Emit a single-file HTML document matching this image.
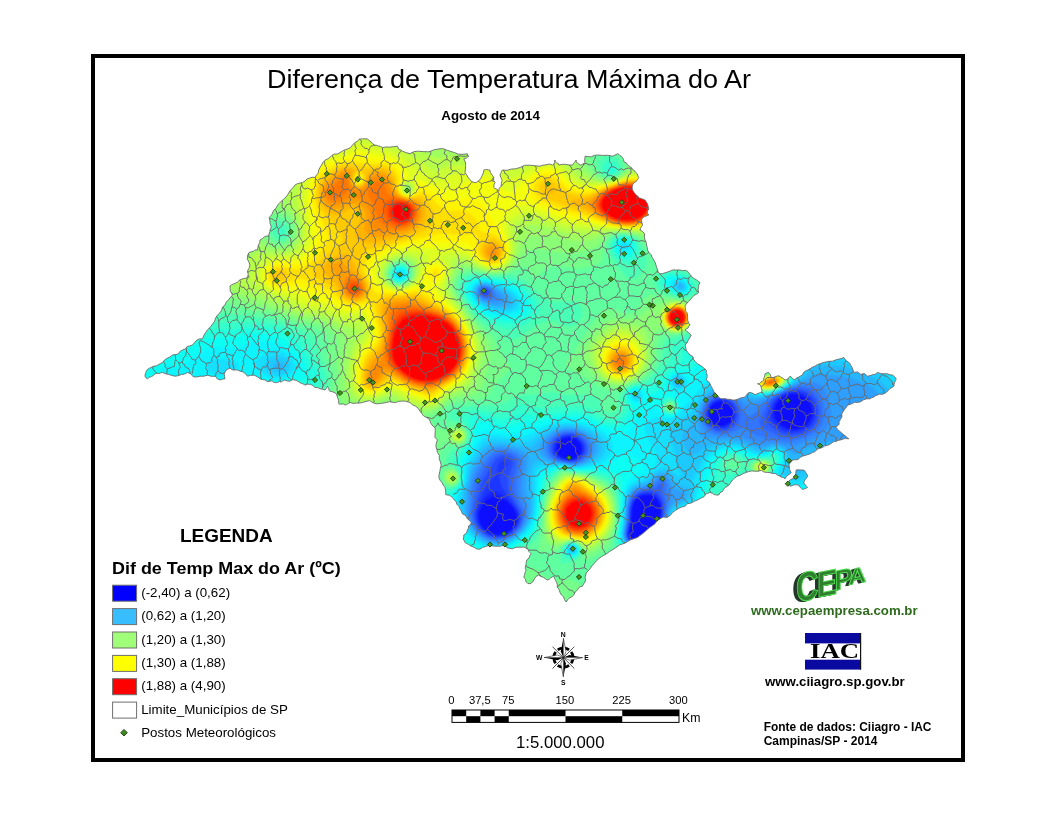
<!DOCTYPE html>
<html lang="pt-BR"><head><meta charset="utf-8"><title>Diferença de Temperatura Máxima do Ar</title>
<style>html,body{margin:0;padding:0;background:#fff}svg{display:block}text{font-family:"Liberation Sans",Arial,sans-serif}text.serif{font-family:"Liberation Serif","Times New Roman",serif}</style>
</head><body>
<svg width="1056" height="816" viewBox="0 0 1056 816">
<rect width="1056" height="816" fill="#fff"/>
<defs><filter id="bl" x="0" y="0" width="100%" height="100%" filterUnits="userSpaceOnUse"><feGaussianBlur stdDeviation="1.3"/></filter><clipPath id="st"><path d="M146.2,371.2 147.6,369.3 149.6,368.2 151.7,367.1 153.8,366.2 156.2,365.9 158.3,364.7 160.4,363.6 162.5,362.5 164.5,360 167.1,358.3 170,357 172.5,355 175.4,354.6 178.2,354 179.9,351.5 182.5,350 185.3,349 187.1,346.6 189.8,345.9 192.5,345 194.5,342.6 196.5,340.3 199.3,338.9 202.5,338.8 203.8,335.6 205.6,332.7 207.5,329.8 210,327.5 212.2,324.5 214.4,321.6 215.6,318.1 217.5,315 219.9,312.9 221.6,310.3 222.5,307.1 225,305 226.3,302.1 228.5,299.8 230.4,297.4 232.5,295 231.4,292.9 230.2,290.8 230.1,288.4 230,286 231.6,284.7 233.7,284 235.5,283.1 237.5,282.5 239.3,280.2 242,279 244.8,278.4 247.5,277.5 248.2,274.3 247.5,271 249.1,268.2 250,265 248.8,261.9 247.3,258.9 247.5,255.5 249,252.5 251.1,251.9 253.3,251.3 255.2,249.9 257.5,250 257.9,247.4 258.5,244.9 259.7,242.6 260,240 262.2,238.8 264.1,237 266.4,236 269,236 268.9,234.5 269.3,233 270,231.6 270,230 271.4,226.9 270.1,223.7 269.9,220.5 269,217.5 270.8,216 272.1,214.1 272.8,212 274,210 275.9,208.5 277,206.2 278.3,204.2 280,202.5 281.9,200.7 283.9,198.9 285.9,197.1 287.5,195 289.1,192.3 290.9,189.8 293.1,187.5 295,185 297.4,183.7 300,183.1 302.7,182.4 305,181 307,179 309.6,178.1 312.2,177.2 315,177.5 316.5,175.1 318.4,172.9 318.7,170.1 320,167.5 321.6,165.1 322.9,162.5 324.9,160.3 327.5,159 329.9,157.4 331.9,155.4 334.6,154.1 337.5,154 339.9,152.6 342.4,151.2 344.8,149.9 347.5,149 350.5,147.6 352.5,145 354.8,142.7 357.5,141 359.5,139.1 362.3,138.9 364.9,138.8 367.5,139 369.2,140.5 370.9,141.8 372.6,143.3 374,145 376.2,145.2 378.4,145.9 380.5,146.5 382.5,147.5 386.2,147 390,147.1 393.8,146.7 397.5,146.2 398.2,148 399.1,149.6 401.1,150 402.5,151.2 406.2,152.7 410,153.6 413.6,151.8 417.5,151.2 423.2,151.6 429,151.8 434.3,149.7 440,148.8 442.6,148.6 445.1,149.4 447.6,150.4 450,151.2 454.3,152.5 458.5,154.2 463,154.3 467.5,153.8 467.7,155.2 468.8,156.2 467.6,157.1 466.5,158 465.2,158.5 463.8,158.8 465.3,161.9 465.7,165.5 465.4,169 465,172.5 466.6,174.7 467.8,177.1 469.5,179.2 471.2,181.2 472.4,181.8 473.7,182.2 474.9,182.6 476.2,182.5 477.7,181.5 479,180.2 480.5,179.2 481.2,177.5 482.1,175.7 482.9,173.9 483.6,172 483.8,170 485.3,169.6 486.9,169.5 488.4,170 490,170 490.2,172.2 491.4,174 492.6,175.7 493.8,177.5 493.5,180.2 495.1,182.5 493.9,184.9 493.8,187.5 495,188.6 496.6,188.9 497.7,190.1 498.8,191.2 498.9,189.8 499.2,188.3 500.1,187.2 501.2,186.2 501.3,183.3 502.2,180.4 501,177.8 500,175 500.5,173.7 501.1,172.4 501.6,171.1 502.5,170 507,170.4 511.3,169.1 515.7,168.8 520,167.5 524.7,165.3 529.9,165.2 534.9,165.8 540,166.2 543,165.2 546.2,164.8 549.4,164 552.5,165 553.7,164.1 554.6,162.9 554.6,161.4 555,160 555.4,161.6 556.5,162.8 558.1,163.4 558.8,165 562.2,164.4 565.6,164.3 569,165.1 572.5,165 573.4,163.7 574.3,162.5 575.3,161.2 576.2,160 576.2,161.8 577.3,163.1 578.7,163.9 580,165 581.5,165.1 582.4,164 583.7,163.6 585,163.8 584.8,161.9 584.6,160 585,158.1 585,156.2 588.2,156.7 591.4,156.8 594.3,155.4 597.5,155 602.5,155.4 607.6,155.3 612.8,156.2 617.5,153.8 619,154.4 620,155.6 621.4,156.3 622.5,157.5 623.5,159.6 624,161.9 626.3,162.8 627.5,165 629.5,166.4 631.6,167.7 632.9,169.9 635,171.2 636.1,172.8 637.4,174 637.8,175.9 638.8,177.5 637.5,179.6 636.1,181.6 633.8,182.7 632.5,185 632.1,187.4 632.4,189.8 633.6,191.8 635,193.8 637.2,195.8 639.4,197.9 642.2,198.9 645,200 646.3,202 647.6,204.1 648.2,206.4 648.8,208.8 648,210.3 647.2,211.9 647.6,213.6 648.8,215 646.6,215.9 644.4,216.6 642.5,218 641.2,220 641.9,222.6 642.6,225.2 640.9,227.4 640,230 642.7,231.5 644.7,233.9 644.3,237 645,240 646.2,242.3 646.5,244.9 647.2,247.4 647.5,250 649,252.6 651.1,254.7 652.2,257.5 653.8,260 655.1,262.3 655.9,264.9 656.7,267.4 657.5,270 658.3,272.2 660,273.8 662.6,273.6 665.1,272.8 667.5,272 670,271.2 671.7,270.3 673.6,269.8 675.5,270.1 677.5,270 680.1,270 682.5,270.7 685.1,270.3 687.5,271.2 688.8,272.8 689.9,274.4 691.3,275.9 692.5,277.5 694.4,278.7 696.4,279.8 698.1,281.2 700,282.5 698.8,284.8 698.5,287.4 698,290 698.8,292.5 696.4,294.2 693.8,295.6 691.9,297.8 690,300 688.7,301.5 687.2,302.9 685.9,304.5 685,306.2 685.5,308.5 685.3,310.9 687.1,312.6 687.5,315 687.6,317.6 687.7,320.3 688.5,322.8 690,325 688.6,326.3 688.1,328.1 686.4,328.8 685,330 686.7,331.1 688.2,332.4 689.7,333.7 691.2,335 689.9,337.6 688.3,340.1 687.1,342.9 685,345 685.7,347.8 686.4,350.6 688.2,352.8 690,355 692.8,356.4 693.7,359.4 695.4,361.8 697.5,363.8 699.9,365.1 702.1,366.6 704.1,368.3 706.2,370 706.3,372.6 707.1,375 707,377.6 706.2,380 708.5,381.6 710.1,383.9 711.2,386.3 712.5,388.8 713.4,390.4 714,392.1 715.5,393.3 716.2,395 717.9,396 719,397.5 720.6,398.5 722.5,398.8 725,398.7 727.5,399.3 730,399.4 732.5,400 735.1,400 737.6,399.2 740,398.2 742.5,397.5 744.6,397.2 746.1,395.5 747.3,394 748.8,392.5 750.5,392.5 752.1,393.1 753.8,393.7 755,395 756.7,393.9 758.6,393.3 760.5,392.4 762.5,392.5 761.7,391.3 762.1,389.9 761.4,388.8 761.2,387.5 760.9,386.1 760.1,384.9 758.8,384.2 757.5,383.8 759.4,383.5 760.8,382.1 762.4,381.2 763.8,380 763.7,378.4 764.4,376.9 764.7,375.3 765,373.8 766.8,372.9 768.8,372.5 769.7,373.6 770.3,374.8 770.8,376.2 771.2,377.5 773.5,377.4 775.6,376.6 777.8,375.9 780,376.2 781,377.6 782.6,378 783.8,379 785,380 786.6,379.6 787.9,378.7 789.2,377.7 790,376.2 791.4,377.1 792.3,378.5 793.7,379.2 795,380 796.4,378.1 798.6,377.2 800.4,376 802.5,375 803.4,372.6 805.5,371 807.8,370 810,368.8 812.3,367.2 815,366.2 817.3,364.6 820,363.8 823,362.6 826.1,361.9 829.3,361.3 832.5,361.2 835.2,360.1 838.1,359.3 841,358.6 843.8,357.5 845.1,359.3 846.6,360.9 848.5,362.1 850,363.8 851,365.9 852.4,367.9 853.1,370.2 853.8,372.5 857.6,371.9 860.6,374.3 864.5,373.6 867.5,376.2 870.1,375.6 872.6,374.7 875.3,374.2 877.5,372.5 879.9,373.2 882.4,373.8 885,373.8 887.5,373.8 889.9,374.8 892.5,375.1 894.6,376.7 896.2,378.8 895.4,380.5 894.7,382.4 894.1,384.3 893.8,386.2 891.7,387.7 889.5,388.8 888,390.7 886.2,392.5 884.2,393.6 882.1,394.4 879.7,394 877.5,395 875.5,395.7 873.9,397.1 871.8,397.6 870,398.8 866.7,398.8 863.5,399.8 860.7,401.7 857.5,402.5 854.8,402.2 852.4,403.4 850.1,404.5 847.5,405 846.5,407 845,408.8 843.7,410.6 842.5,412.5 841.7,414.4 842,416.5 841.1,418.3 840,420 838.9,422 839.2,424.3 837.4,425.6 836.2,427.5 837.5,429.3 839.1,430.9 840.9,432.2 842.5,433.8 844,435.1 845.7,436.1 847,437.7 848.8,438.8 846.5,438.6 844.3,438.6 842.2,439.5 840,440 838,440.3 836.3,441.4 834.3,441.4 832.5,442.5 830.2,444.1 827.7,445.3 824.8,445.8 822.5,447.5 819.7,448.1 817.2,449.3 815.2,451.5 812.5,452.5 810.2,453.8 807.6,454.7 805,455.4 802.5,456.2 799.9,457.4 798.1,459.6 795.3,459.7 792.5,460 791.7,461.4 790.4,462.4 789.6,463.7 788.8,465 789.5,467 789.1,469.1 790.1,470.8 791.2,472.5 789.7,474.1 787.7,475.2 786.1,476.8 785,478.8 783.3,477.5 781.1,477.1 779.4,475.9 777.5,475 775.3,473.4 772.6,473.5 770.1,472.6 767.5,472.5 764.2,472.1 761.4,470.4 758.2,471.2 755,471.2 751.8,470.9 748.6,471.6 745.5,472.7 742.5,473.8 740,475.5 737.1,476.2 734.7,478 732.5,480 730.9,482.2 729.5,484.5 727.4,486.2 725,487.5 723.6,489.5 722.3,491.6 720,492.7 718.8,495 716.4,495 714.1,494.5 712.3,493.1 710,492.5 706.3,493.7 704,496.7 700.7,498.2 697.5,500 694.3,501.3 691.2,503 687.6,503.7 685,506.2 681.6,507.1 678.4,508.6 675.4,510.4 672.5,512.5 670.2,515.4 667.1,517.4 663.4,517.1 660,518.8 658.5,519.7 657.1,520.9 655.9,522.2 655,523.8 648.9,528.1 643.3,533.1 637.2,537.6 630,540 625.1,543.1 619.6,544.9 614.9,548.3 610,551.2 606.2,554 602,556.3 598.2,559 595,562.5 592,565.9 589.4,569.6 586.2,573 585,577.5 585.6,579.9 584.9,582.2 583.5,584.1 582.5,586.2 579.3,587.1 577.4,589.9 575.2,592.2 573.8,595 571.8,596.8 569.5,597.9 567.6,599.8 566.2,602 564.5,599.7 563.7,596.9 561.5,595 560,592.5 559.4,590.6 558.7,588.8 557.1,587.2 557.5,585 556.7,582.8 555.7,580.6 554.6,578.5 553.8,576.2 552.1,577 550.5,578 549.2,579.3 547.5,580 545.3,578.7 543.3,577.2 540.8,576.5 538.8,575 535.9,576.5 534.2,579.2 532.7,582 530,583.8 527.6,583.3 525.9,581.6 525.6,579.1 523.8,577.5 524.3,575.6 524.8,573.7 525.3,571.7 526.2,570 525.2,568.2 525.6,566.2 526,564.4 526.2,562.5 526.8,559.9 529,558.2 529.7,555.8 531.2,553.8 530.1,552.6 529,551.5 528.3,550.1 527.5,548.8 523.9,547.1 520,547.2 516.1,547.3 512.5,548.8 507.9,548 504.1,545.4 499.6,546.3 495,546.2 491.8,545.8 488.6,545.6 485.6,546.5 482.5,547.5 479.8,549.2 476.7,548.9 474.1,547.2 471.2,546.2 469.7,545.3 468.2,544.2 466.6,543.5 465,542.5 464.2,540.7 463.2,538.9 463.8,537 463.8,535 465.1,534 466.4,533.1 466.9,531.5 467.5,530 468.5,528.1 468.6,525.9 470.5,524.6 471.2,522.5 469.6,520.7 467.7,519.1 466.4,517 465,515 462.3,513.8 461.4,510.9 459.9,508.7 458.8,506.2 456.8,504.2 456.1,501.5 454,499.8 452.5,497.5 449.5,495.3 445.8,494.7 445.7,491.1 445,487.5 443.3,485.1 441.9,482.5 440,480.2 438.8,477.5 439.2,474.3 439.9,471.2 440.4,468.1 441.2,465 440.4,461.9 439.3,458.8 439.3,455.4 437.5,452.5 436.8,449.3 435.9,446.2 436.3,443 437.5,440 435,437.5 435,434 435.3,430.8 435,427.5 432.8,425.9 431.1,423.7 430.1,421.1 428.8,418.8 426.2,417.3 423.6,415.9 421.8,413.6 420,411.2 418.3,408.3 415.6,406.2 412.5,404.8 410,402.5 407.5,401.8 405.1,401.1 402.5,401.1 400,401.2 398.5,401.4 397,402 395.6,402.6 394,402.5 389.5,401.7 385.1,402.7 380.7,403.5 376.2,403.8 372.7,402.6 369.6,400.6 366,401.4 362.5,402.5 359.4,403.1 356.2,403.1 353.1,403.4 350,402.5 348.8,403.3 347.6,404 346.4,404.7 345,405 343.6,404 342,403.9 340.3,404.3 338.8,403.8 338.7,402.1 338.6,400.5 338.1,399 337.5,397.5 336.8,394.9 335.1,392.7 332.6,391.8 330,391.2 328.9,390.2 328.8,388.7 328.3,387.4 327.5,386.2 326.5,388.3 325,390 322.5,389.3 320,388.6 317.6,387.6 315,387.5 313,385.6 310.5,384.4 307.7,384.1 305,385 302.5,383.6 299.9,382.7 297.6,381 295,380 292.3,379.7 290,381.3 287.4,381 285,380 283,380.5 281.5,382.1 279.4,381.5 277.5,382.5 275.6,382.6 273.7,382.3 272.1,380.8 270,381.2 267.3,381.5 265,379.9 262.4,379.6 260,378.8 257.3,376.7 254.2,375.2 250.8,375.3 247.5,376.2 245.6,373.9 243.2,372 240.3,371.2 237.5,370 235.5,369.9 233.5,370.1 231.5,369.4 230,368 228.1,369 226.2,370 225,372 224.2,374.2 224.6,376.5 225,378.8 223.7,378.9 222.5,379.3 221.2,379.5 220,380 218.5,379.3 217.1,378.7 216.4,377.2 215,376.2 211.2,376.3 207.5,375.2 203.8,376.2 200,376.2 196.6,377 193.1,376.7 190.9,373.8 187.5,372.5 184.5,374 181.3,374.5 178.2,375.7 175,376.2 171.8,375.4 168.7,374.5 165.5,373.7 162.5,372.5 160.6,372.9 158.8,373.6 156.9,373.2 155,373.8 153.4,375.4 151.5,376.6 149.3,377.3 147.5,378.8 145.9,377.8 145,376.2 145.1,375 145.4,373.7 145.8,372.5ZM796.2,470 798.1,469.8 800,469.9 801.9,470 803.8,470 805.1,471.3 806,472.9 807.1,474.4 807.5,476.2 806.7,477.9 805.4,479.2 804.5,480.8 803.8,482.5 804.5,483.9 805.5,485.1 806.5,486.3 807.5,487.5 806.3,488.1 805.1,488.6 803.8,489.1 802.5,489.5 801.5,488.4 800.3,487.5 799.4,486.3 798.8,485 796.5,484.8 794.3,484.8 792.2,485.6 790,486.2 789.9,485 789.5,483.7 788.9,482.5 788.8,481.2 790.1,480 791.7,479.1 793.4,478.3 795,477.5 795.4,475.6 795.8,473.8 795.9,471.9Z"/></clipPath></defs>
<g clip-path="url(#st)">
<g filter="url(#bl)"><rect x="130" y="130" width="780" height="490" fill="rgb(7,11,255)"/>
<path fill="rgb(19,32,255)" d="M136,132 904,132 904,610 136,610ZM490,497.9 486,500.7 484,502.8 479.9,510 478.9,514 478.9,518 480.6,524 483.3,528 486,530.6 490,533 492.8,534 500,534.6 503.4,534 508,532.1 513.1,528 516,523 516.9,518 515.4,512 513,508 510,504.5 506,501 502,498.4 496,496.6 492,497ZM566,437.5 562,439 558,442.6 556,448 556.6,452 559.3,456 562.6,458 568,459.1 574,458.8 578,456.4 580.1,454 581.5,450 581.3,446 579.2,442 576,439.3 572,437.6ZM642,495.5 637.4,498 635.5,500 633.3,504 631.8,510 630.9,524 629.3,528 628.6,534 629.3,538 633.2,542 640,543.9 648,542.5 651.5,540 654,537.3 656.4,532 660,517.8 660.8,512 660,505.3 658.6,502 656,498.6 654,497 650,495.3 646,494.9ZM718,401.7 714,403.6 711.5,406 709.4,410 709,416 710.5,420 712,422.1 714.4,424 718,425.5 724,425.4 728,423.4 731.1,420 732.6,416 732.3,410 730,405.7 726,402.5 722,401.3ZM792,394 785.1,396 779.5,400 775.7,406 774.6,410 774.4,414 775.4,418 776.5,420 782,425.4 788,428.2 792,428.9 796,428.9 800,428 804,426.2 808.8,422 811.6,416 812,410 810,403.7 808,400.7 805.3,398 802,395.9 798,394.4Z"/>
<path fill="rgb(30,53,255)" d="M136,132 904,132 904,610 136,610ZM494,491.7 490,492.9 488,494.4 484,498.6 480.6,504 477.6,512 477.3,516 477.8,520 480.3,526 483.6,530 486,532 490,534.2 494,535.4 498,535.7 502,535.4 508,533.3 512,530.5 514.5,528 517.6,522 518,516 516.9,512 514.7,508 508,500 500,493.6 498,492.5ZM562,437.7 558.6,440 556.8,442 554.9,446 554.7,450 555.1,452 557.6,456 562,458.7 568,460.2 574,459.8 578,457.9 581.6,454 583,450 582.7,446 580.8,442 576.2,438 572,436.4 566,436.3ZM644,493.9 638,496.1 635.8,498 633.1,502 631.2,508 630.3,522 627.7,532 627.8,536 630,540.1 634,543 640,544.5 644,544.2 648,543.1 652,540.5 654.4,538 657.2,532 660.9,518 661.8,512 661.7,508 660.9,504 657.4,498 655.1,496 652,494.5 648,493.7ZM716,401.1 712,403.7 708.9,408 707.8,412 708.2,418 710,421.6 712,423.9 716,426.3 722,427.2 726,426.2 730,423.6 732,421.3 733.6,418 734.3,414 733.1,408 730.3,404 726,401 722,400.1ZM788,393.5 784,395.1 780,397.6 775.8,402 773.8,406 772.6,410 772.2,414 772.8,418 775.1,422 778,424.9 782,427.8 786,429.6 790,430.6 794,430.8 802,429.1 806,427 809.5,424 813.1,418 814,412 813.5,408 812.2,404 808.1,398 802,394 796,392.4 792,392.5Z"/>
<path fill="rgb(40,74,255)" d="M136,132 904,132 904,610 136,610ZM484,291.8 484,292.3 486,292.5 486.3,292ZM500,461.8 497.7,466 496.7,474 488,483.7 480,499.6 476.8,508 475.7,514 475.9,518 476.9,522 478.8,526 481.9,530 488,534.5 492,536 496,536.7 500,536.7 504,535.9 508,534.4 512,531.9 517.2,526 518.9,522 519.6,518 519.2,514 517.7,510 514,504.2 503.6,490 500.9,484 499.2,478 499,476 499.8,474 504,469.8 506.8,466 507.4,464 507,462 506,461 504,460.3 502,460.7ZM564,435.6 558,438.7 555,442 554,444 553.3,446 553.1,450 554.5,454 558.3,458 564,460.2 572,461.1 576,460.2 578,459.2 581.8,456 584,452 584.5,450 584.3,446 582.5,442 578.5,438 574,435.8 570,435ZM640,493.7 636.3,496 634.4,498 631.3,504 630.1,510 629.5,522 627.4,530 626.9,534 627.8,538 631.1,542 636,544.4 642,545 646,544.3 650,542.7 653.5,540 656.4,536 658,532 661.8,518 662.9,508 662.2,504 660.7,500 658,496.2 656,494.5 652,492.8 648,492.4 644,492.6ZM716,399.8 712,402.2 710,404.2 707.7,408 706.4,414 707.6,420 710.1,424 714,427 720,428.7 726,427.8 729.6,426 731.9,424 734.6,420 735.9,414 734.7,408 732.2,404 730.2,402 726,399.6 720,398.8ZM790,391.6 784,393.8 780,396 775.2,400 772.6,404 771,408 769.7,414 769.9,418 771.6,422 773.2,424 778,428 782,430.4 786,431.9 790,432.7 798,432.3 806,429.3 810,426.4 812.2,424 814.5,420 815.7,416 816,412 815.6,408 814.4,404 812.4,400 810,396.9 806.3,394 802,392 798,391 794,390.9Z"/>
<path fill="rgb(46,96,255)" d="M136,132 904,132 904,610 136,610ZM482,289.9 481.4,292 482,293.9 484,295.4 486,295.9 488,295.1 489,294 489.2,292 488,289.9 486,288.9 484,288.8ZM502,455.9 498,457.5 495,460 483.1,480 480,488.7 475.2,506 474.2,512 474.3,518 475.4,522 477.3,526 480,529.7 484,533.4 488,535.7 492,537.2 496,537.8 502,537.4 506,536.4 510,534.5 513.5,532 518.6,526 520.3,522 521.1,518 520.8,514 519.5,510 511.1,496 509.3,492 508.3,488 507.9,482 508.2,478 512.6,466 513,462 512.3,460 510,457.5 506,455.9ZM566,433.9 562,434.9 558,437 553.2,442 551.3,448 551.4,450 552.7,454 556.2,458 562,460.5 572,462 578,460.5 581.7,458 584.8,454 585.7,452 586.2,448 585.3,444 582.8,440 577.7,436 572,434ZM642,491.8 636,494.7 633,498 631,502 629.3,510 628.7,522 626.3,534 627.1,538 630.1,542 634,544.3 640,545.5 646,544.9 650,543.3 654,540.4 656,538 659.5,530 662.8,518 664,510 663.2,502 661.5,498 658,492.9 656,491.7 652,491 646,491.1ZM718,397.8 712,400.6 707.3,406 705.3,412 705.5,418 708.2,424 712.6,428 716,429.5 720,430.3 726,429.7 732,426.5 735.8,422 737.7,416 737.2,410 734.3,404 730,400 724,397.6ZM792,389.8 781.4,394 777.9,396 772.9,400 770.3,404 768.5,408 766.5,414 766,418 766.8,422 768,424 772.6,428 782,433.4 790,435.1 796,434.8 802,433.4 806,431.7 810,429.3 813.5,426 816.2,422 817.6,418 818.2,414 817.9,408 816.1,402 814,398 810.4,394 806,391.3 802,390 798,389.3Z"/>
<path fill="rgb(50,117,255)" d="M136,132 904,132 904,610 136,610ZM484,287.4 482,288 480.2,290 479.8,292 480.4,294 482,296.1 484,297.2 488,297.5 490,296.6 491.6,294 491.3,292 490.2,290 487.6,288ZM498,453.9 494,456.3 490.5,460 482,473.2 478.6,480 476,489.5 472.7,508 472.3,514 473.1,520 474.6,524 477,528 480.5,532 484,534.8 488,537 492,538.4 498,538.9 502,538.5 508,536.7 515.1,532 518.7,528 521,524 522.3,520 522.8,516 521.7,510 515.2,498 513,490 513.2,480 516.7,466 516.9,462 516.5,460 514,456.4 509.9,454 504,453ZM562,433.5 558,435.3 554.4,438 552.5,440 550.2,444 549.3,448 549.5,450 550.8,454 552.1,456 554,458 557.4,460 570,462.7 576,462.4 582,459.4 585.4,456 586.7,454 588,450 587.3,444 584.9,440 580,435.7 574,433.1 568,432.5ZM660,484 655.5,488 642,490.4 638,491.9 634,494.9 630.7,500 628.6,508 627.9,522 625.6,534 626.4,538 627.4,540 630,542.7 634,544.9 640,546.1 644,545.9 648,544.9 652,542.9 655.3,540 659,534 663.8,518 665.4,506 664.6,500 661.9,492 662.6,486 662.1,484ZM720,396 714,397.8 710.7,400 708,402.8 705,408 704,412 703.9,416 705.2,422 707.7,426 710,428.3 716,431.4 720,432.1 724,432 730.8,430 736.1,426 738.9,422 739.7,420 740.3,414 739.5,410 737.8,406 735,402 732.9,400 730,398 726,396.4ZM796,387.8 788,390 779.4,394 772.8,398 768.8,402 762.1,414 759.7,420 759.6,424 760.4,426 762.2,428 778.9,436 784,437.4 790,437.9 798,437 806,434.4 812,431 816,427.2 819.2,422 820.4,418 820.9,414 820.2,406 817.4,398 814,393.3 809.4,390 802,387.8Z"/>
<path fill="rgb(50,138,255)" d="M136,132 904,132 904,610 136,610ZM482,286.7 480.1,288 478.8,290 478.5,292 479,294 480.1,296 482,297.7 486,299.3 490,299.2 493.1,298 494.4,296 494.3,294 492.2,290 488,286.9 484,286.2ZM496,451.7 491.9,454 487.9,458 479.8,470 476,477.1 474,483.3 472.7,490 470.3,512 470.9,518 472.1,522 475.2,528 478.6,532 483.5,536 488,538.4 492,539.6 498,540.1 504,539.2 508,537.8 512,535.7 516.7,532 520.2,528 522.5,524 524.4,518 524.7,514 523.5,508 518.5,498 517.1,492 517.9,478 520.6,464 520.2,460 519.4,458 515.8,454 510,451.4 502,450.5ZM564,431.6 560,432.7 556,434.7 550.1,440 547.8,444 547,448 547.1,450 548.4,454 551.6,458 554,459.7 560,461.6 570,463.4 574,463.6 578,462.9 582,461 587.6,456 589.7,452 590.3,448 588.6,442 584,436.7 578,433 572,431.3ZM660,479.6 652,486.6 640,489.6 636,491.5 632,495.4 629.6,500 627.7,508 627.3,520 625,532 625.1,536 626.6,540 628.2,542 630.8,544 634,545.5 638,546.5 642,546.7 646,546.1 650,544.7 654,542.2 656.3,540 659.8,534 665.3,516 667.3,502 666,494 666.8,486 666,482.1 664,479.9 662,479.3ZM798,385.9 792,387.5 786,389.9 770.3,398 765.6,402 758,410.3 752,415.1 748,416.9 746,415.6 739.6,404 736.1,400 732,396.8 728,395 724,394.2 720,394.3 716,395.2 712,397.3 708.6,400 704.4,406 702.9,410 702.3,414 702.4,418 703.3,422 705.2,426 708.6,430 714,433.1 718,434.1 724,434.3 730,433.3 736,431 744,426.7 746,427.5 750,432 752,433.4 756,435.3 766,437.7 786,441.4 790,441.6 794,441.1 806,437.6 814,433.5 818.1,430 821.2,426 823.1,422 824.3,416 823.7,406 820.7,396 818.3,392 816,389.6 812,387.2 808,386.1 802,385.6Z"/>
<path fill="rgb(46,159,255)" d="M136,132 904,132 904,610 136,610ZM482,285.5 478.5,288 477.5,290 477.6,294 480.4,298 484,300.2 490,301.6 496,301.7 500.4,300 500.7,298 499.7,296 492.2,288 488,285.7 484,285.2ZM566,429.8 560,431.1 556,432.8 548.9,438 545.9,442 544.2,446 544,450 545.4,454 548.7,458 551.3,460 556.9,462 574,464.6 578,464 583,462 588.5,458 590.2,456 592.4,452 592.9,450 592.9,446 591.4,442 588.4,438 586.2,436 580,432.2 574,430.2ZM660,477 658,478 652,483.9 650,485.2 640,488 636,489.8 632,493.3 629.2,498 627.1,506 626.3,522 624.2,534 624.8,538 626,540.4 628,542.8 632,545.4 636,546.8 640,547.3 646,546.7 650,545.4 656,541.3 658.7,538 660.8,534 664.7,522 668.9,506 671.8,498 671.9,496 669.4,484 667.7,480 666,478.1 664,477ZM800,383.6 790,387.3 767.4,398 758,403.6 752,405.7 748,405.5 746,404.7 736,396.4 730,393.1 724,392 720,392.3 716,393.3 712,395.3 708,398.4 704.9,402 702.7,406 701.3,410 700.5,416 701,422 702.3,426 704,429.2 706.3,432 710,434.5 714,436 722,437 734,436.1 740,436.4 756,441.9 762,443.3 776,442.4 792,446.3 796,445.4 812,439.5 818,436.3 823.6,432 827.4,428 829.7,424 830.7,420 830.9,416 829.3,402 826.9,394 825.1,390 822,386 820,384.5 816,382.7 812,382.2ZM494,449.5 489.6,452 485.5,456 478,466.8 474,474.1 472,480.1 469.8,490 468.3,512 469,518 471.1,524 473.4,528 478,533.4 482,536.6 488,539.8 492,540.9 498,541.3 502,540.9 508,539.1 513.6,536 518.4,532 521.7,528 525,522 526.7,516 527.1,512 526.7,508 522.5,498 521.4,492 522,478 524.2,464 524.1,460 522.5,456 518,452 510,449 502,448.1 498,448.4Z"/>
<path fill="rgb(40,181,255)" d="M136,132 904,132 904,610 136,610ZM480,285.3 477.1,288 476,292 476.3,294 478,297.2 482,300.8 488,303.4 498,305.4 504,304.6 506,303.5 507.3,302 507.7,300 505.7,296 503.4,294 492,286.4 486,284.2 482,284.5ZM558,429.9 552,432.7 547.4,436 543.5,440 540.9,444 539.5,448 539.6,452 540.5,454 544.5,458 550,461.4 554,462.6 564,463.7 572,465.3 576,465.4 581.8,464 586.1,462 589.3,460 593.5,456 595.8,452 596.6,448 596.4,446 595,442 593.7,440 588,434.6 582,431.1 574,428.5 566,428.2ZM658,475.6 651,482 648,484 638,487 634,489.2 630,493.7 628,498 626.2,506 625.7,520 623.5,532 623.5,536 624.8,540 626.2,542 630,545.1 634,546.9 640,547.9 646,547.4 652,545.2 656.4,542 659.7,538 661.7,534 669.3,510 671.2,506 674,502.9 682,499.4 683.9,498 685,496 684.9,494 683.4,492 676,489.2 674,487.4 670.5,480 667.1,476 664,474.5 662,474.4ZM676,380 675.7,382 677.9,384 680,383.1 680.7,382 680,379.6 678,378.9ZM822,373.9 818,374.3 814,375.4 796,383.3 776,393.2 766,397.2 758,399.6 752,400 748,399.3 744,397.6 734,390.9 728,389.1 722,389.3 714,391.9 708,396 704.2,400 701.7,404 699.4,410 698.3,416 698.1,422 698.9,430 700.2,434 701.5,436 704,437.9 708,439.1 716,439.9 732,439.6 738,440.2 744,441.8 760,447.4 764,447.2 772,444.8 778,444.8 784,446.9 794,453.9 796,453.9 804,449 810,446.8 828,441.8 842,440.2 848.9,438 854.6,434 859.8,428 862.7,422 866.2,410 868,407.9 874.3,404 878,400.5 879,398 878.5,394 875.6,390 870.1,386 866,384 850.2,378 842,376ZM496,445.9 490,447.9 484.8,452 480,458.3 472.7,470 470.7,476 466.9,492 465.9,508 466.2,514 467.5,520 470.1,526 474.5,532 478.8,536 484,539.5 490,541.9 496,542.7 502,542.1 508,540.4 514,537.1 520.1,532 523.4,528 526.8,522 529.3,514 529.8,508 529.3,504 526.6,494 525.9,486 526.2,476 528.9,460 528.1,456 526.8,454 524.5,452 516,448.1 504,445.7ZM572,547.9 571.4,550 572,550.4 572.8,550Z"/>
<path fill="rgb(30,202,255)" d="M136,132 904,132 904,610 136,610ZM278,361.8 276,362.3 274,363.7 273,366 273.7,368 276,369.5 278,370 280,369.8 283,368 283.9,366 283.3,364 282,362.8 280,361.9ZM482,283.4 480,284 477,286 475.6,288 474.7,292 475,294 476.9,298 482,302.6 492,307.1 500,308.5 504,308.2 508,307.1 510.3,306 512.1,304 512.7,302 511.7,298 508.3,294 505.6,292 490,284.2 486,283.2ZM558,427.9 552,430.2 545.4,434 540.6,438 534,445.2 530,447.4 526,447.3 506,443.4 496,442.8 490,444.1 486.3,446 483.9,448 480,452.8 472,465.3 469.9,470 467.4,482 464,494 463.3,506 464.1,516 466.8,524 472.2,532 480,538.9 486,542.2 492,543.8 498,544 504,543.1 510,540.9 516,537.2 521.9,532 525.3,528 529.6,520 531.9,512 532.3,504 530,486 529.8,478 530.6,472 532,467.4 534,463.4 536,461.4 538,460.6 540,460.6 552,463.8 562,464.1 572,466.1 578,466.2 584,464.6 590,462 595.9,458 599.2,454 600.7,450 600.3,444 598.3,440 596.6,438 591.8,434 582,428.9 574,426.7 566,426.4ZM662,471.9 658,473 656,474.3 650,480 647.1,482 638,485 634,487 630,490.9 627.4,496 625.2,506 624.8,520 622.7,532 622.7,536 623.9,540 625.2,542 628,544.7 632,547 638,548.4 644,548.4 650,547 656,543.4 659.4,540 662.8,534 670,512.4 672,508.5 676,505.1 684,502 686,500.7 688.7,498 689.6,496 689.8,492 688,488.6 686,487.1 678,484.8 676,483.3 671,476 668.9,474 666,472.4ZM676,377.8 674.2,380 673.9,382 674.8,384 676,385.2 678,385.9 680,385.5 682,383.8 682.6,382 682.4,380 680,377.5 678,377.2ZM678,283.9 677.1,286 678,288 680,289.2 682,289.3 683.8,288 684,286 682.4,284 680,283.3ZM818,365.9 814,367.7 801.5,378 789,386 774,393.3 764,396.5 756,397.4 752,396.9 748,395.6 742.7,392 738,386.3 736,384.7 732,383.6 724,384.5 714,388.8 706.8,394 701.6,400 697.5,408 694,419.7 692.8,422 690,425.7 685.1,430 683.6,432 682.7,434 682,438 682.6,442 684.2,446 688,451.4 692,455.6 708.6,446 715.3,444 724,442.7 732,442.4 738,443.1 746,445.4 756,449.7 760,450.5 764,450.1 772,446.8 778,446.6 781.9,448 784,449.4 787.8,454 789.3,458 789.5,468 790.2,470 792.5,472 798,473 803.6,472 808,469.7 811.1,466 814,458.4 817.7,456 826,453.9 846,450.1 852,447.8 858,444.5 864,440.3 868,436.7 872.1,432 874.7,428 880.7,414 888,404 889.8,400 890.1,394 888.7,390 884,384.2 878,380 870,376.1 852,368.7 844,366.7 832,365.3 824,365ZM570,547.6 569.4,550 570,551 572,552.1 574,551.3 574.8,550 574.6,548 574,547.4 572,546.7ZM690,459.6 689.6,462 690,462.5 690.9,462 691.1,460Z"/>
<path fill="rgb(19,223,255)" d="M136,132 904,132 904,610 136,610ZM278,356 274,356.6 270,358.5 266.3,362 265.3,364 265.4,368 266.6,370 270,372.7 274,374.3 280,374.5 284,373.4 288,370.7 289.7,368 289.9,364 287.7,360 284,357.3ZM400,272 397.9,274 399.2,276 400,276.3 400.9,276 402.3,274ZM478,283.7 475.2,286 474,288 473.3,290 473.5,294 475.3,298 476.8,300 480,303.1 484,305.9 493.2,310 502,311.2 510,310 514,308.2 516.2,306 517.1,302 515.7,298 512.4,294 506.9,290 492.9,284 488,282.5 482,282.3ZM558,425.6 552,427.5 546,430.1 539.6,434 532,439.6 528,441.5 524,442.2 520,442.1 498,439.3 492,439.5 486,441.4 482.5,444 480,446.9 470,463.1 468,467.5 466.3,480 461.4,494 460.5,502 461.1,514 463.3,522 466.6,528 469.6,532 473.5,536 478,539.6 484,543.2 490,545.2 496,545.7 502,545.1 508,543.3 514,540.1 520,535.7 525.7,530 530.6,522 533.7,512 534.5,502 533.2,484 533.3,478 534.5,472 536,469 538,466.7 542,465.1 552,465.4 560,464.8 564,465 574,467.2 580,467 588,464.9 595.5,462 599,460 603.1,456 605.7,450 605.6,444 603.7,440 602.2,438 597.7,434 588,428.7 578,425.3 568,424.2ZM636,391.9 634,392.6 632.9,394 632.9,396 634,397.7 636,398.4 638,397.6 639.1,396 638.9,394 638,392.8ZM678,281.6 676,282.5 674.8,284 674.9,286 675.9,288 678,290 680,290.8 682,290.9 684,290.2 685.6,288 685.6,286 684.7,284 682,282ZM816,359.7 812,361.7 809.2,364 804,369.7 797.8,378 790.8,384 778,391 768,394.6 762,395.7 756,395.6 752,394.7 748,392.6 745.4,390 744.3,388 743.7,384 744,378 742,375.9 736,374.4 730,374.7 724,376.9 718,380.6 706,390.4 699.3,398 692,411.2 690,413.8 688,415.5 675.8,422 673.5,424 671.2,428 670.1,434 670.5,440 674.8,452 676.7,464 680.8,474 680.9,476 680,476.8 678,476.3 672,470.9 668,468.8 664,468.2 660,468.9 656,471.1 648.7,478 646,479.9 634,484.4 630,487.9 628,490.9 626,495.9 624.7,502 623.8,522 621.8,534 622.9,540 625.8,544 630,546.9 634,548.4 642,549.3 646,548.9 652,546.9 656,544.5 658.9,542 663,536 670.2,516 673.4,510 676,507.7 688,502.6 691,500 692.4,498 693.8,492 692.2,480 692.9,478 698,469.8 702.9,458 708.5,452 716,447.7 726,445.1 736,445.1 744,447.1 755.1,452 760,452.7 764,452.2 770,449.3 774,448 778,448.2 780,448.9 784,452 785.3,454 786.4,458 786,462 782.8,472 784,475.7 786.8,478 790,479.3 798,479.9 804,478.9 810,476.5 814,473.8 822,466.2 826,463.9 846,458.3 858,453.5 868,447.9 877.9,440 883.2,434 886.8,428 896.6,402 897.7,396 897.4,392 896.2,388 894,383.9 888.2,378 882,374.1 852.8,362 844,360 830,358.6 822,358.5ZM572,545.7 570,546.3 568.5,548 568.2,550 569.3,552 572,553.2 574,552.7 576,550 575.7,548 574,546.1ZM678,375.7 676,376.2 673.7,378 672.7,380 672.5,382 674,385.6 676,387.2 678,387.7 680,387.5 682,386.5 683.9,384 684.4,382 684.1,380 683.1,378 680.2,376Z"/>
<path fill="rgb(7,244,255)" d="M136,132 904,132 904,610 136,610ZM212,359.6 208.7,362 207.2,364 206.4,368 207.1,370 208.8,372 214,374.5 220,374.8 228,373.1 234.7,370 237.4,368 238.7,366 238,364 234.6,362 228.6,360 218,358.5ZM270,351.4 262,356 257.1,360 255.6,362 254.9,364 255.1,366 256.2,368 260,372 262.8,374 268,376.5 276,378.1 282,377.6 286,376.4 290,374.3 292.6,372 294.6,368 294.6,364 293,360 290,356.3 286,353.3 280,350.7 274,350.4ZM400,269.9 398,270.5 396.4,272 395.7,274 396.1,276 398,277.9 400,278.3 402,277.8 403.9,276 404.4,274 403.9,272 402,270.3ZM480,281.6 476,283.3 473.1,286 472.1,288 471.5,292 472.5,296 474.8,300 478,303.6 484,308.3 492,312.1 496,313.1 502,313.7 508,313.4 514,312.1 518,310 520,308 521.2,304 520.5,300 516.3,294 511.4,290 503.4,286 490.6,282 484,281ZM566,422 558,423 550,425.2 542,428.4 528,435.4 524,436.7 518,437.4 512,437.4 496,435 490,434.9 484,436.8 480,440.4 466.3,464 465.5,468 465,480 463,486 458.8,494 457.5,500 458.1,514 460.3,522 462.4,526 466.7,532 474,539.2 482,544.4 488,546.7 494,547.6 500,547.2 506,545.7 512,543 519.5,538 526,532.2 529.3,528 531.6,524 534.5,516 536.3,504 536.5,478 538.7,472 542,469 560,465.5 564,465.7 574,468.1 582,467.8 591.2,466 600,463.6 604,461.6 607.9,458 611.4,452 612.5,446 611.5,442 610.4,440 607,436 598.2,430 586,424.8 576,422.4ZM622,243 620.8,244 620,245.9 620.5,248 622.7,250 624,250.4 626.2,250 628.1,248 628.3,246 627.4,244 626,243 624,242.4ZM632,391.9 630.9,394 630.8,396 632,398.6 634,400.3 636,400.9 638,400.7 640,399.5 641.1,398 641.7,396 641.4,394 640.3,392 638,390.5 636,390.2 634,390.6ZM678,279.8 676,280 672.6,282 672.2,284 672.8,286 676,290 678,291.3 682,292.2 684,291.7 686.1,290 687,288 687.1,286 686.4,284 684.6,282 682,280.5ZM818,353.6 810,356.3 796.4,366 797.3,372 796.6,376 793.9,380 789.4,384 778,390.4 772,392.8 766,394.3 760,394.8 754,393.7 750,391.6 747.2,388 746.8,386 747.4,382 750,377.4 754.4,372 755,370 752,368.9 736,366.1 730,366.7 724,368.6 717.2,372 712,376.3 699.2,390 690,401.3 684,406.7 679.1,414 676,416.4 672,418.1 668,418.8 660,417.6 656,417.6 650,419.9 647.4,422 645.2,426 645.3,430 649.5,442 656.2,454 656.9,458 656.6,462 654.7,466 648,474.5 644,477.4 636,480.2 632,482.4 628.5,486 626,490.7 623.6,502 622.8,522 620.9,534 621.9,540 624.5,544 628,546.8 632,548.7 636,549.7 642,550.1 648,549.3 652,547.9 656,545.7 660,542.2 663.2,538 665.3,534 671.8,516 674,512.2 678,509.1 690,504.1 694.4,500 696.9,494 699,480 705.7,462 708.3,458 712,454.3 716,451.4 720,449.3 728,447.2 736,447.2 742,448.7 754,453.8 758,454.4 764,453.9 774,449.5 778,449.7 780,450.6 783.3,454 784.3,458 783.5,462 778.3,472 777.5,476 777.7,478 780,480.9 785.4,484 790,485.3 796,485.7 802,485.1 808,483.4 814,480.4 824,473 828,470.9 850,464.2 864,458.5 878,450.5 888,442.3 893.4,436 897.1,430 899.5,424 900.9,418 903.3,402 903.6,394 901.9,386 898,379.2 892.8,374 886,369.7 854,356.5 846,354.7 834,353.3 826,352.9ZM570,545.4 567.5,548 567.2,550 567.9,552 570,553.8 572,554.3 574,553.9 576.2,552 576.9,550 576.6,548 574,545.4 572,545ZM674,375.8 672,378 671.1,380 671.1,384 672,386 674,388.3 676,389.5 680,389.9 682,389.4 684,388 685.6,386 686.4,384 686.6,382 685.3,378 683.4,376 680,374.4 676,374.7Z"/>
<path fill="rgb(11,255,244)" d="M136,132 904,132 904,378.7 898.2,372 892,367.5 885.2,364 860,353.5 847.4,350 828,347.9 820,348.3 814,349.3 796,355.3 784,356.9 768,360.8 760,362 754,362.2 750,361.7 740,358.3 736,358.2 730,359.3 720,362.5 712.3,366 708,369.1 698,377.9 694,380.5 692,380.8 690,379.5 687.1,376 682,373 678,372.6 676,373 672,375.5 670.1,378 669.3,380 668.9,384 671.1,390 676.6,396 679.1,400 680.1,406 679.2,410 677.9,412 674,415.3 670,416.4 668,416.3 664,415.1 662.3,414 656,406.5 654,405.9 648,407.7 644,410 640,413.6 628,430.7 626,432.5 622,434.6 618,434.7 614,433.6 594,424.4 586,421.4 578,419.7 572,419.1 564,419.3 554,421 522,430.4 514,432.2 506,432.2 490,429 486,429.1 482,430.6 480,432.3 478,435.2 472.1,448 463.9,462 463.2,466 464.1,474 463.8,480 461.5,486 454.9,496 454.1,504 454.6,514 456.8,522 461.5,530 470,539.1 478,544.9 482,547 488,549.1 496,549.7 504,548.2 512,544.9 522,538 528.6,532 532.6,526 535.6,518 537.2,510 539.2,480 540.4,476 541.6,474 543.7,472 556,467.4 560,466.4 564,466.4 572,468.6 578,469.2 604,466.5 610.8,464 622,455.3 624,454.6 628,454.5 632.3,456 638,459.7 641.9,464 643.5,468 643,470 641.3,472 634,475.3 630,478.2 627.1,482 625.2,486 623.7,492 622.6,500 622.1,520 620.1,532 620.2,538 621.7,542 623.1,544 626,546.7 630,549 638,550.9 646,550.7 652,549 656,546.9 659.8,544 663.3,540 666.7,534 672.7,518 676,513 680,510.5 691.6,506 696.4,502 699.4,496 702.2,484 709,464 711.4,460 715,456 722,451.2 728,449.4 736,449.3 742,450.8 752,455.3 756,455.7 766,454.8 774,451 776,450.9 779.4,452 781.4,454 782.3,456 782.2,460 771.2,480 771.1,482 773.2,484 784,489 790,490.5 798,490.8 804,489.9 810,488 828,477.6 856,469.2 874,461.7 884,456 892,450.2 898.8,444 904,437.7 904,610 136,610ZM248,341.9 242,345.6 238,346.9 232,347.2 216,346.4 212,346.9 208.2,348 194.4,356 180,367.2 178,367.4 170,365.1 168,365 164.6,366 162.3,368 161.4,370 161.2,372 161.7,374 164,376.5 168,378.2 172,378.3 178,376.6 182,376.2 200,383 208,384.4 216,384.8 224,384.3 232,383 252,377.8 256,377.9 272,381.2 282,380.8 288,379.2 292,377.5 296,375 298.5,372 299.3,370 299.6,366 298.6,362 296.7,358 292,352.4 284,346.2 278,343.4 272,342.1 254,340.4ZM398,268.9 396,270.1 394.7,272 394.3,274 394.6,276 395.8,278 398,279.3 400,279.7 402,279.3 404.1,278 405.5,276 405.9,274 405.6,272 404.3,270 402,268.7 400,268.4ZM484,280 478,280.7 474,282.6 470.7,286 469.4,290 469.9,294 472.8,300 477.9,306 482,309.5 486,312.1 492,314.6 498,316 504,316.4 510,316.1 516,314.9 520,313.1 523.5,310 525.1,306 525.1,304 524.1,300 520.1,294 515.6,290 510,286.6 504,284.1 490,280.7ZM620,241.2 618,243.3 617.2,246 618.4,250 620.3,252 624,253.4 626,253.4 628.9,252 630.5,250 631.1,248 631.1,246 630,243.2 628,241.3 626,240.4 622,240.3ZM634,389.2 632,390.1 630.2,392 629.3,394 629.2,396 630,398.7 632,401.4 636,403.7 640,403.8 642,402.8 643.9,400 644.5,398 644.5,396 642.9,392 640.7,390 638,388.9ZM670,280 668.9,282 669.1,284 672,288 676.9,292 680,293.2 682,293.3 685.9,292 687.7,290 688.4,288 687.9,284 686.6,282 684,279.9 680,278.4 676,278.1 672,278.9ZM568,545.9 566.6,548 566.3,550 566.7,552 568,553.7 570,555 572,555.3 574,554.9 576,553.7 577.2,552 577.8,550 577.4,548 576.2,546 574,544.7 572,544.3 570,544.7ZM770.7,368 774,367.2 780,366.9 784,367.3 790,368.9 792,370.2 794,372.7 794.4,376 793.7,378 790.6,382 785.4,386 776,390.8 770,392.8 764,393.8 758,393.6 754,392.4 750.6,390 749.3,388 749,384 750.8,380 752.3,378 756,374.5 762,370.8 766,369.1Z"/>
<path fill="rgb(32,255,223)" d="M136,132 904,132 904,370.7 898.4,366 892,362.1 862,349.4 852,346.3 840,344.2 830,343.2 822,343.2 790,346.3 783,348 768.9,354 762,355.1 756,354.4 748,350.3 740,350 726,352.9 704,359.8 700,362.1 692.9,368 690,369.6 688,370.1 678,370.3 674,371.6 672,372.7 668.7,376 666.4,380 664,386.2 662,388.8 658,391.9 654,393.9 650,394.4 648,393.3 644.4,390 640,387.8 636,387.5 632,388.7 628.6,392 627.5,396 628.6,400 632.7,406 633.6,408 633.5,410 630.5,416 626,421.9 622,425.2 618,427 614,427.5 608,426.6 602,424.5 588,418.2 582,416.7 574,415.8 560,416.5 538,420.7 524,422 512,425.6 508,426.3 502,426 486,421.6 480,421.8 478,422.7 476,424.9 475,428 473.4,438 472,442 470,446.1 461,460 460.4,464 462.9,474 462.7,480 460,486.1 452.3,494 451,496 450.2,500 450.1,504 450.4,514 452.4,522 457.1,530 464.1,538 474,545.9 484,550.9 492,552.4 500,551.6 508,549.1 516,544.6 527.4,536 532.6,530 536,522.2 537.9,514 542,480.2 544,476.1 546.3,474 557.3,468 562,467.1 576,470.1 596,470 614,471.9 618,473.5 620,475.3 621.4,478 622,481.2 621,520 618.9,534 619.5,540 621.5,544 623.2,546 628,549.3 636,551.7 646,551.7 650,550.8 656,548.3 660,545.5 663.5,542 668.4,534 674,519.5 676,516.2 678,514.2 682,512.1 693.3,508 698.5,504 701.9,498 713.3,464 715.7,460 719.4,456 722.1,454 726,452.2 732,451.1 738,451.6 742,453 748,456.1 752,457.1 766,456.1 774,452.6 776,452.5 778,453.1 780.4,456 780.2,460 773.6,472 770,476.7 766,479.3 762,480.4 752,480.4 750,480.9 748.5,482 748.2,484 750,486.4 756,488.8 770,490.4 786,494.6 796,495.7 802,495.2 808,493.8 814,491.4 824,486.1 830,483.6 854,477.2 872,470.9 882,466.4 890,462 898,456.7 904,452 904,610 136,610ZM246,333.8 234,337.4 216,337.6 208,338.8 204,340.2 192,346.5 180,351.8 174,353.4 164,354.6 158,356.6 152,360.3 147,366 145.1,372 145.6,376 146.3,378 149.3,382 152,384.2 156,386.2 162,388 180,389.1 200,391.6 212,392 222,391.5 232,390.2 256,384.8 274,384.9 282,384.1 304,379.3 306.2,378 307.7,376 308.2,374 307.5,370 300.8,356 294,347.7 288,342 284,338.9 280,336.9 276,335.7 262,333.4 254,332.7ZM398,267.4 396,268.5 394,270.6 393,274 393.2,276 394.2,278 396.5,280 400,280.8 402,280.5 404,279.6 406,277.6 407.2,274 407,272 406,269.9 404,268 402,267.3ZM476,279.7 472,281.4 468.9,284 467.1,288 467.1,292 469.5,298 473.6,304 478,308.9 484,313.6 488,315.8 494,317.9 500,319 508,319.4 514,318.9 520,317.2 524,315.1 527.2,312 528.3,310 529.1,306 527.8,300 523.9,294 520,290.2 516,287.2 510,284 502,281.6 486,278.9 480,278.9ZM620,239.1 618,240.2 616.3,242 615.3,244 615.1,248 616.9,252 620,254.7 624,256.1 628,255.7 630,254.8 632,252.9 633.4,250 633.5,246 632,242.5 629.5,240 626,238.6 622,238.5ZM668,277.8 665.8,280 665.3,282 665.8,284 669.3,288 676,292.8 680,294.3 684,294.2 687.8,292 689.3,290 689.9,288 689.5,284 688,281.5 684,278.3 680,276.8 676,276.2 672,276.4ZM570,544 566.9,546 565.7,548 565.3,550 565.6,552 568,555.2 570,556.1 574,556 576,555 578,552.5 578.6,550 578.3,548 577.1,546 574,544ZM769.5,370 778,368.7 786,369.6 790,371.4 792,373.6 792.7,376 792.2,378 789.5,382 784.4,386 778,389.4 772,391.7 766,393 760,393 756,392 752.6,390 751.1,388 750.5,386 750.6,384 752.5,380 756,376.4 760,373.6 766,370.9ZM664,398 666,396.8 668,396.5 672,397.2 676,400 677.4,402 678.4,406 678.1,408 676.1,412 674,413.7 672,414.6 668,414.9 664,413 661.4,410 660.6,408 660.4,404 662,400Z"/>
<path fill="rgb(53,255,202)" d="M136,132 904,132 904,362.9 898,359.1 890,355.1 864,344.7 852,341.1 834,338.3 822,337.6 792,337.4 780,337.9 744,341.2 718,346.8 712,347.5 708,346.6 700,342.3 696,341.7 692,342.4 688,344 685.5,346 684.2,348 683.5,350 683,358 681.2,362 679.2,364 668,371.5 654,384.7 650,387 648,387.4 640,386.1 636,386.2 632,387.4 628.4,390 626.9,392 625.8,396 626.4,400 628.4,406 628.1,410 626.2,414 623,418 620,420.5 616,422.5 612,423.2 606,422.5 600,420.2 588,413.8 582,412.3 576,411.6 564,411.9 540,415.1 522,413.4 518,414.2 508,418.6 502,419.7 498,419.2 488,415.8 482,414.7 476,415 472,416.3 469.9,418 469,420 469,422 471.5,432 471.5,436 470.6,440 467.3,446 460,454.1 457.1,460 457.5,464 460.4,470 461.7,474 461.6,480 460,484 458,486.7 454,489.9 446.4,494 445.2,496 444.6,508 445.6,518 448.7,526 454.3,534 462.1,542 472,549.3 482,554.1 490,555.8 498,555.2 506,552.8 514,548.5 528,538.4 532,534.6 533.9,532 536,527.6 538.2,520 543.6,484 545,480 548.2,476 556.3,470 560,468.2 562,467.9 564.3,468 574,470.8 590,471.5 600,473 608,475.3 613.3,478 617.1,482 618.7,486 619.9,496 620.1,518 617.6,536 618.1,540 619.7,544 623.2,548 628,550.9 636,553.1 644,553.3 648,552.7 654,550.9 660,547.4 663.9,544 667.1,540 669.5,536 676,520.4 679.9,516 684,514 696,510.1 699.3,508 701.3,506 703.8,502 710,487.8 715.6,480 716.5,476 716.4,468 718.4,462 722,457.4 724,455.8 728,453.9 732,453.2 738,453.7 748,458.6 750,459 768,457 774,454.6 776,454.5 778,455.8 778.5,458 778,460 776,463.4 773.2,470 770.6,474 768,476.1 764,477.8 760,478.3 756,477.7 748,475.1 746,475.1 731,482 729.5,484 729.7,486 732.5,490 736,493.1 740,495.5 744,496.9 752,497.9 772,497.8 792,500.4 800,500.3 808,498.8 828,491.5 852,485.9 866,481.8 886,474.1 896,469.1 904,464.3 904,610 136,610 136,380.7 139.6,386 144,389.6 150,392.7 156,394.5 164,395.8 190,398.4 210,399 222,398.3 234,396.8 262,390.6 290,386.7 294,386.6 304,388.8 308,388.9 312,387.5 315.7,384 317.7,380 318.3,376 318,373.6 316.6,370 309.4,360 303.6,350 298.6,344 290.4,336 284.3,332 278.7,330 268.2,328 258,326.9 250,327.1 234,329.5 214,330.2 202,332.7 184,340.2 160,347.8 152,351 146.7,354 141.7,358 138.3,362 136,366ZM400,265.8 396,267 394,268.6 392,272 391.7,274 392,276.1 394,279.5 396,280.9 400,281.9 404,280.8 406,279.3 408,276.1 408.4,274 407.5,270 406.1,268 404,266.6ZM476,277.8 470,279.6 466.8,282 464.5,286 464.1,288 464.6,292 467.2,298 472.7,306 478,311.9 484,316.6 490,319.6 496,321.5 506,323.2 512,323.3 518,322 524,319.7 528,317.3 531.4,314 532.6,312 533.6,308 533.3,304 531.9,300 529.5,296 526.3,292 518,285.3 512,282.1 506,280.4 484,277.5ZM610,166.7 608.1,168 608,170.6 610,172.5 613.2,172 614.4,170 613.9,168 612,166.7ZM620,237.4 615.5,240 613.2,244 612.9,248 614.2,252 618,256.4 622,258.5 628,259 632,257.4 635,254 636.1,250 635.8,246 634.1,242 632,239.8 628,237.6 624,237ZM666,275.8 663.4,278 662.3,280 662,282 662.4,284 663.5,286 665.7,288 674,293.1 680,295.4 684,295.4 688,293.7 691.1,290 691.7,288 691.4,284 689.1,280 686,277.5 682,275.6 676,274.2 670,274.3ZM570,543.4 568,544.2 565.9,546 564.7,548 564.3,552 566,555.2 568,556.8 570,557.5 574,557.3 576,556.4 578.4,554 579.2,552 579,548 577.9,546 575.4,544 572,543.1ZM777.2,370 782,370.1 786,371 788.1,372 790.4,374 791.1,376 791,378 788.5,382 786.3,384 782,386.9 776,389.8 772,391.2 766,392.4 762,392.5 758,391.8 754.3,390 752.6,388 751.9,386 752.7,382 755.8,378 758,376.2 764,372.8 768,371.4ZM665.4,400 668,398.8 670,398.7 674,400.3 675.6,402 676.7,404 676.9,408 676.1,410 674,412.4 672,413.4 668,413.6 664.8,412 663.1,410 662.3,408 662.4,404 663.3,402Z"/>
<path fill="rgb(74,255,181)" d="M136,132 904,132 904,352.5 888,345.3 864,337 846,332.9 826,330.1 798,328.5 772,328.9 746,331.5 716,337 712,336.8 702,333.5 698,333.2 694,333.9 678.4,340 674,343.3 672.4,346 671.3,356 669.8,360 665.3,366 651.8,380 646,383.6 636,384.8 632,386.1 628.6,388 626.4,390 624.8,392 623.4,396 624.3,406 623.2,410 620,414.7 618,416.4 614,418.4 610,419.1 604,418 600.1,416 590,408.8 584,406.8 576,406 562,406.2 542,408.1 538,407.6 528,404.8 522,404.4 516,406 506,411.5 502,412.9 498,413.2 486,410.3 480,409.7 470,410.7 464,412.9 462.5,414 461.2,416 461,418 461.9,420 466,425.1 468.8,430 469.7,434 469.4,438 467.9,442 466,444.7 464,446.7 456.4,452 454.8,454 452.9,458 452.6,460 452.8,462 454,464 458,468.6 460,472.2 461,478 460,481.9 458,485 456,486.9 452,489 446,489.5 440,487.8 438,487.5 436.8,488 435.4,490 434.8,494 435.8,508 437.9,518 442.1,528 447.5,536 457.4,546 468,553.6 480,559.2 486,560.6 490,560.8 500,559 510,554.6 530,540.2 534,536.3 536.5,532 538.5,526 543.2,496 545.3,486 546.8,482 549.7,478 558,470.5 562,468.9 566,469.4 574,471.7 588,472.8 598,475 608,479 612,481.8 614,484 617,490 618.6,500 618.9,520 616.2,536 616.3,540 617.5,544 620.1,548 626,552.2 634,554.5 640,555.1 646,554.8 652,553.5 658,551 662.5,548 666.8,544 671.1,538 677.4,524 680,520.1 684,517.5 696,514.6 702.2,512 706.3,508 712,496.4 714,494.4 716,493.3 718,493 722,494.3 726.1,498 731.6,506 736.3,508 744,508.5 774,506.3 798,506.3 808,504.9 864,492.4 886,485.3 904,477.2 904,610 136,610 136,395.6 142,398.6 150,401.4 158,403.2 170,404.9 196,406.7 222,405.7 244,402.6 279.3,394 288,392.4 294,392.7 306,396.1 312,396 316,394.5 320,390.6 323,384 324.2,378 323.9,374 322.5,370 314.9,358 310,345.4 305.7,340 297.9,334 287.9,328 280,325.1 268,322.6 252,321.6 218,322.3 206,323.6 198,325.8 160,339 146,345.2 136,351.7ZM280,227.7 278,229.2 277.6,232 279.1,234 280,234.5 282,234.4 283.9,232 283.7,230 282,227.9ZM396,265.6 392.9,268 390.8,272 390.8,276 391.5,278 393,280 396,282.1 400,282.9 404,281.9 406.8,280 409.2,276 409.5,272 408.9,270 407.8,268 404,265.2 400,264.6ZM474,275.9 470,276.7 466.9,278 464.3,280 462.7,282 461.3,286 461.9,292 466.1,300 474,310.8 480,317 486,321.1 494,324.7 504,328 510,329.1 514,328.9 520,327 530,321.8 535.2,318 538.3,314 539.5,310 539.3,306 537.9,302 535.7,298 532.8,294 528,288.9 518,281.5 514,279.7 508,278.3 482,276ZM606,161.9 604,163.7 603,166 603.2,170 604.1,172 606,174.1 610,175.4 612,175.3 615.4,174 617.4,172 618.3,170 618,166.1 616.7,164 614,161.8 612,161.1 608,161.1ZM620,236 615.1,238 611.7,242 610.9,244 610.5,248 612.3,254 616,258.5 622,262.1 628,263.5 632,263.1 634,262.3 636,260.8 638,258 639.2,254 638.9,248 637.6,244 634.8,240 630,236.9 626,235.9ZM670,271.9 664,273.7 661,276 659.5,278 658.7,280 658.7,284 661.3,288 664.3,290 674,294.7 680,296.6 684,296.7 686.9,296 690.6,294 692.7,292 694.6,288 694.7,286 693.6,282 690.4,278 686,275 680,272.7 674,271.7ZM568,543.5 564.8,546 563.6,548 563,550 563.2,554 564.3,556 568,558.8 570,559.3 574,558.9 578,556.4 579.7,554 580.3,550 579.8,548 578,545.2 574,542.9 570,542.8ZM769.3,372 776,370.8 784,371.5 788.6,374 789.7,376 789.8,378 789,380 785.4,384 780,387.5 774,390.1 770,391.3 764,392 760,391.6 756,390 753.9,388 753.1,386 753.1,384 755.1,380 758,377.2 762,374.7ZM665.3,402 668,400.4 670,400.2 672,400.6 674,402 675.4,404 676,406 675.8,408 674,411.1 672,412.4 670,412.8 666.8,412 664.5,410 663.6,408 663.4,406 663.9,404ZM729.7,456 734,455.5 738,456.2 741.7,458 746,461.2 748,461.6 756,459.2 762,458.4 774,457.9 774.8,460 772.8,468 770.8,472 768,474.7 764,476.5 760,476.9 756,476 746,470.5 744,470.6 736,474 730,474.5 726,473.4 723.8,472 722,469.3 721.4,466 722.4,462 723.7,460 726,457.8Z"/>
<path fill="rgb(96,255,159)" d="M136,132 904,132 904,336.8 882,329.1 860,323.4 836,319.2 810,316.8 786,316.2 764,317.2 742,319.5 716,323.9 704,324.3 700,324.9 696,326.9 688,332.6 684,334.5 670,337.8 666.3,340 664.8,342 663.3,346 662.5,354 661.2,360 658.3,366 654.2,372 650.7,376 645.8,380 641.4,382 632,384.7 628,386.8 623.9,390 619.2,396 618.7,398 618.6,404 617.6,408 616,410.3 614,411.9 612,412.7 608,412.8 605.8,412 604,410.5 602.2,408 599.8,400 598,397.9 594.1,396 586,394.6 568,394.7 554,392.1 550,392.3 540,394.2 522,394.8 514,397.2 504,402.4 498,404.5 478,405.3 464,406.6 456.1,408 452,410 447.9,414 447.1,416 447.2,418 450,420.6 458,422.8 462,424.8 466,428.6 468.2,434 468,438 466,442.3 464,444.5 460,446.9 451.4,450 448.7,454 446.6,460 446.5,462 447.8,464 454,467.1 458,470.9 460,476 459.7,480 458,483.4 456,485.4 452,487.3 448,487.4 444.5,486 442.1,484 439.4,480 438,476.4 436,474.1 434,474 432,474.7 426.6,478 423.6,482 422.4,486 421.8,494 423.1,506 427.2,520 433,532 436.8,538 442,544.7 452,554.3 464,562.3 476,567.7 482,569.2 488,569.7 496,568.6 500,567.1 506,563.9 512,559.5 522.8,550 532,543.4 536,539.2 538,535.6 539.6,530 543.5,502 547.5,486 550.9,480 558.6,472 562,470 564.3,470 572,472.2 586,473.8 594,475.8 606,481.1 611.9,486 614,489.2 615.9,494 617.6,506 617.6,522 614.4,538 614.4,542 615.1,546 618,551.4 622,554.3 628,556.4 636,557.6 644,557.6 650,556.8 656,555 664,550.6 669.3,546 672.6,542 682,525.4 684,523.5 687.8,522 696,521.8 718,523.6 728,523.4 812,514.7 840,510.6 862,506.3 884,500.4 904,493.2 904,610 136,610 136,410 150,413.1 168,415.5 186,416.5 206,416.3 228,414.6 248,411.6 262,408.5 284,401.9 290,400.7 294,400.7 308,402.8 314,402.4 318,401 320,399.8 323.4,396 326.8,388 328.8,378 328.5,374 327.3,370 321.6,360 320.1,356 318.6,342 316.5,338 314.7,336 308.7,332 288,323.5 280,320.7 270,318.2 226,313.4 216,313.2 208,314 196,316.7 166,325.4 150,331.4 136,337.9ZM278,221.5 274,223.7 272.4,226 271.7,228 271.6,232 273.3,236 275.1,238 278,239.6 282,240 286,238.1 287.7,236 289,232 288.5,228 286.1,224 284,222.5 282,221.6ZM398,263.6 394,265.4 391.4,268 389.6,272 389.6,276 391.5,280 394,282.2 398,283.7 402,283.6 405.8,282 408.2,280 410.4,276 410.8,272 409.4,268 406,264.7 402,263.4ZM470,273.9 464,276.1 461.8,278 459.2,282 458.6,284 458.4,288 459.4,292 461.2,296 472,311.7 478,318.7 486,325.1 494.2,330 504,337.2 508,339.4 512,340.2 518,338.6 532.7,328 542,323.1 548,320.8 554,320.7 566,326.3 570,326.8 572,326.4 576,324.3 578,322.5 580,320 582,316 582.7,312 582.1,308 580,304.2 578,302.4 574,301.3 554,301.4 548,299.9 542,295.8 526,281.7 518,276.5 512,275.6 496,276.1 476,273.8ZM606,155.9 601.3,158 599.4,160 598.4,162 598.2,166 599.4,170 602.2,174 606,176.4 610,177.1 615.2,176 618.3,174 621,170 621.6,166 620.6,162 618,158.7 614,156.4 610,155.6ZM666,269.5 662,270.9 658,273.4 654.5,278 653.8,282 654,284 655.9,288 658,290 664,293 678,297.5 686,298 696,295.9 698,296.7 704,301.5 706,302.1 708,301.7 710,300 711.1,298 712.2,294 711.9,288 710,283 706,278.4 702,276.3 694,274.4 684,270.8 678,269.3 672,268.7ZM566,543.9 562.3,548 560.8,552 559.6,562 560,562.9 562,563.8 570,562.6 576,560.5 579,558 581.1,554 581.3,550 580.8,548 577.6,544 574,542.3 572,542 568,542.8ZM616,235.8 612,238.2 610.4,240 608.4,244 607.8,250 609.5,256 614,262.8 620.7,270 626,277.2 630,279.1 634,278.6 638,276.4 640,274.6 644.8,268 646.4,264 647,260 645.5,254 639.2,242 635.2,238 631.4,236 626,234.7 620,234.8ZM772.9,372 780,371.7 786,373.4 788.5,376 788.7,378 788.1,380 784.6,384 781.7,386 776,388.9 770,390.8 762,391.3 758,390.2 755.1,388 754.2,386 754.2,384 754.9,382 758.3,378 764,374.5 768,373ZM667.4,402 670,401.4 672,401.9 674.3,404 674.9,406 674.8,408 673.7,410 672,411.3 670,411.8 668,411.5 665.8,410 664.7,408 664.6,406 665.2,404ZM729,460 732,458.7 734,458.5 738,459.6 740.5,462 741.2,464 740.7,466 738.7,468 736,469.3 732,469.7 730,469.2 728,468 726.7,466 726.5,464 727.2,462ZM756.5,460 760,459.3 766,459.3 770,460.1 771.9,462 772.3,464 771.7,468 770,471.3 768,473.4 764,475.4 760,475.7 756,474.8 751.8,472 748.9,468 748.7,466 749.7,464 752.1,462Z"/>
<path fill="rgb(117,255,138)" d="M136,132 904,132 904,307.4 886,302.6 866,298.4 844,295 822,292.8 802,291.8 782,291.7 760,292.7 736,294.9 730,294.6 728,293.7 726,291.6 720.4,280 716.4,274 712.4,270 708,267 704,265.2 698,264 684,264.6 672,263.7 662,263.7 660,263.2 658,260.6 655.9,254 652.9,250 646,244.7 638.6,238 632,234.9 626,233.6 620,233.6 616,234.3 611.8,236 609.1,238 606.1,242 604.4,246 602,260.2 600.7,262 598,264 588,267.7 576,268.8 560,266.2 552,266.5 547,268 543.3,270 541.1,272 538,276.5 536,277.4 534,276.8 532,275.1 528.1,268 526,266.9 522,267.3 508,273.1 500,274.6 490,274.3 472,271.3 468,271.3 465.1,272 462,273.6 460,275.4 458,278 456.1,282 455.7,288 457.7,294 461.3,300 474,318 480,324.7 490.3,334 493.7,338 502,355.3 504,358.5 508.9,364 509.9,366 509.9,368 507.4,372 498,381 490.5,392 486,396.8 482,398.9 478,400.1 470,401.3 458,402.2 452,403.8 448,406.2 435.6,416 432.2,420 432.1,422 433.4,424 442,429.6 444,429.8 450,426.9 454,425.6 458,425.6 462,427 465.2,430 466.9,434 466.7,438 464,442.6 460,445.1 456,445.8 452,445.3 446,443.3 444,443.7 442.8,446 440.6,454 438,458.8 434,462.5 430,464 426,463.4 423.7,462 421.7,460 419.3,456 416,447.8 414,445 412,444 410,444 408,444.7 404,447.7 399.8,452 395,458 389.8,466 386.9,472 384.7,478 383.5,484 383,490 383.4,496 385.2,504 388.5,512 393.1,520 398.8,528 406.9,538 427.4,560 442,572.5 450,578 458,582.4 472,587.8 480,589.6 488,590.5 496,590.6 504,589.8 510,588.5 514,587 518,583.8 524,572.8 526,570.1 528,568.4 530,567.8 532,567.9 536,569.5 546,576.8 550,578.7 554,579.2 564,578.5 570,579 576,581.5 588,589.1 592,590.1 596,589.8 600,588.5 606,585.2 612.8,580 622,571.3 627.3,568 634.3,566 652,563.7 660,561.2 668,557.1 682,547.2 686,545.7 690,546.3 698,549.8 704,551.4 712,552 724,551.2 774.8,544 850,534.6 878,529.4 904,522.6 904,610 136,610 136,432.7 154,434.3 170,435 190,435 208,434.2 228,432.4 250,429.4 266,426.4 282,422.6 303.9,416 316,413 320,411.4 324,408.7 327.4,404 328.9,400 332.2,386 333.3,378 332.8,372 328.2,360 327.2,356 327.2,352 328.3,344 328,340 327.2,338 322.5,332 318,329 314,327.3 296,322.6 280,316.8 270,313.8 250,310.3 224,302.9 214,300.7 208,300 194,300.6 178,303.1 156,308.7 136,315.2ZM274,217.5 270.2,220 267.6,224 266.8,230 268.5,236 271.5,240 276,242.8 282,243.4 286,242.1 290,238.5 291.9,234 292,228.4 290.4,224 288,220.7 284,217.9 278,216.6ZM394,263.9 390,267.8 388.3,272 388.4,276 390.1,280 394,283.4 398,284.7 402,284.5 407.5,282 410.9,278 412,274 411.7,270 409.8,266 406,263.1 402,262 398,262.3ZM602,149.4 596.7,152 593.2,156 592.4,158 592.1,162 594.1,168 598.7,174 601.1,176 605.5,178 612,178.2 617.9,176 622.3,172 624.5,168 625.4,162 624.8,158 623.9,156 620,152 614,149.4 608,148.7ZM647.4,296 650,295 654,295.1 690,300.7 692.6,302 695.8,306 697.6,310 697.9,314 697.1,318 695.3,322 692.7,326 690,328.8 686,331.7 682,333.5 678,334.4 664,334.6 662,335.5 660,337.5 658.4,340 657.1,344 656.6,356 655.3,362 651.4,370 646.1,376 640.4,380 630,384.2 620,389.6 616,390.6 612,390.6 606,389.1 598,385.5 571.4,370 568.4,368 566.6,366 566,364 567.5,360 574,351.7 583.5,336 600,313.6 603.2,310 606,308.5 608,308.3 612,309.1 624,313.1 628,313.5 632,312.9 634.1,312 636.6,310 644,299.3ZM767.1,374 774,372.4 782,372.7 786,374.6 787.3,376 787.7,378 787.2,380 783.7,384 780,386.5 774,389.2 766,390.9 762,390.7 758,389.3 756.3,388 755.2,386 755.1,384 755.9,382 757.2,380 760,377.5ZM666.6,404 668,402.9 670,402.5 672.9,404 673.9,406 673.8,408 672.3,410 670,410.8 667.4,410 665.8,408 665.7,406ZM760.6,460 764,460 768,460.8 769.8,462 770.9,464 770.6,468 768.3,472 766,473.7 762,474.9 758,474.4 756,473.6 753.7,472 751.1,468 751,466 752.1,464 754,462.2 758,460.4ZM449.4,468 452,468.3 456,470.5 458,473.2 458.9,476 458.7,480 457.7,482 456,484 452,485.9 448,485.6 445.2,484 443.5,482 442,478 442,474 442.6,472 444,470.1 446,468.6ZM561.4,472 564,471.4 572,473.1 584,474.5 589.7,476 596,478.4 603,482 608.4,486 612,490.4 614.5,496 616.3,506 616.5,520 615.6,526 610,545.6 608.3,548 606,549.9 594,557.1 588,559.9 586,560.4 583.8,560 583,558 582.9,552 581.7,548 578.6,544 574,541.8 570,541.6 566,543 562.2,546 558,550.6 556,551.4 542,551.6 540,551.4 538.3,550 541,538 543.5,510 546.7,494 549.5,486 551.9,482Z"/>
<path fill="rgb(138,255,117)" d="M282.4,134 286.4,132 432,132 448,133.8 510,135 554,137.3 566,139.7 572,141.8 576.2,144 580,148 584.9,162 587.1,166 590.3,170 594.5,174 600,177.7 604,179.1 608,179.6 614,178.7 620.1,176 622.7,174 626.3,170 634,157 636,154.9 640,153.4 644,153.8 650,156.4 656.6,162 661,168 670.8,186 673.5,192 675.2,198 675.8,206 675.1,212 672.3,220 667.4,228 660,235.8 654,239 648,239.3 634,234.1 628,232.9 622,232.5 616,233 611.8,234 607.7,236 605.2,238 598,245.5 594,248 588,250.1 578,252.5 570,253.3 564,253 550,251.1 538,248.7 534,248.7 530,249.7 526,252.2 516.2,264 511.9,268 508,270.5 502,272.6 496,273.3 490,273 472,268.8 468,268.4 464,268.8 461.2,270 457.3,274 453.4,282 452.8,286 454.3,292 457.5,298 472,319.1 486.7,338 488.8,342 490.4,348 490.7,354 490,358 483.7,382 480.9,388 478,391.3 474,394 468,396.2 456,398.3 452,399.6 448,401.9 440,408.6 436,411 414,419.3 408,419.2 404,417.8 400,414.9 394,407.9 390.7,406 388,405.5 384,405.8 378,407.2 364,412.3 360,412.9 356,412.4 350,409.9 344.6,406 341.2,402 338.6,396 337.9,390 338.7,376 337.2,362 338.7,348 338.7,342 337.4,338 336.2,336 332.5,332 326,326.9 320,323.8 296,318.8 270,309.3 248,303.3 228,296.2 224,294 219.5,290 217.1,286 214.9,280 212.4,266 211.3,256 212,248 214.7,240 221,230 238.2,212 242.4,206 245.1,198 247.6,180 249.4,172 252.4,164 255.6,158 261.6,150 267.6,144 274,139.1ZM396,261.4 391.6,264 388.3,268 387,272 387,276 387.6,278 390.3,282 394,284.5 398,285.6 404,285 409.1,282 412.2,278 413.3,274 412.7,268 410.2,264 406,261.3 402,260.5ZM272,211.7 265.8,214 263.4,216 261.1,220 260.6,226 262.5,234 266,240 268,242.1 272,244.8 276,246.1 280,246.5 286,245.3 290.9,242 294,236.8 295,230 293.8,224 290.1,218 286,214.5 280,212 276,211.5ZM669.8,300 676,299.9 684,301.3 688,302.9 691.3,306 693.4,310 694.4,316 693.1,322 688.9,328 684,331.5 678,333.3 674,333.3 670,332.7 660,329.2 658,329.5 656,331.1 653.3,336 652.3,340 652.7,356 650.9,364 647.7,370 644.3,374 640,377.7 636.1,380 622,386.2 616,387.1 612,386.6 606,384.6 601.4,382 596.4,378 590.6,372 586,366 583.2,360 582.7,356 583.7,350 586.1,344 589.9,338 596,330.6 604,323.3 610,319.8 616,318.4 630,319.2 636,318.6 640.8,316 646,310.6 650,307.4 666,300.9ZM769.1,374 776,372.9 782,373.5 784,374.3 786.1,376 786.7,378 786.3,380 783,384 780,386 772,389.5 768,390.3 764,390.4 760,389.6 757.4,388 756.2,386 756.1,384 758.1,380 762,376.9ZM668.7,404 670.9,404 672.7,406 672.5,408 670,409.7 668,409 667.2,408 666.9,406ZM454,428 456,427.4 460,427.8 462,428.8 464.9,432 465.6,434 465.5,438 464,440.8 462,442.7 460,443.6 458,444 454,443.5 451.2,442 449.4,440 448.5,438 448.4,434 449.2,432 450.8,430ZM756.1,462 762,460.6 766,461.2 767.9,462 769.6,464 769.9,466 768.8,470 767,472 764,473.6 760,473.9 756,472.5 753.4,470 752.6,468 752.6,466 753.6,464ZM449.7,470 454,470.8 456,472.3 457.9,476 457.6,480 456.5,482 454,484 452,484.6 448.2,484 446,482.4 444.5,480 444,478 444.5,474 445.8,472 448,470.4ZM562,474 564,473.1 566,473.1 580,474.8 586,476.1 592,478.4 600,482.5 606,486.7 610.5,492 613.3,498 614.9,506 615.3,518 614.2,526 612,532.4 608.4,540 606,543.2 596,550.8 590,553.8 588,554.1 586,553.4 581.6,546 579.6,544 576,541.8 572,541 568,541.5 558,546.9 556,547.2 550,545.2 548,543.7 545.6,540 544.2,532 543.8,522 544.7,510 546.5,500 549.8,490 552.7,484Z"/>
<path fill="rgb(159,255,96)" d="M334.5,134 340.5,132 381.9,132 438,146.9 458,147.2 478,149.9 518,152.1 526,151.5 544,148.5 550,148.2 556,148.8 564,151.1 570,154.7 574,158.6 581.5,168 588.8,174 595.6,178 600,179.7 604,180.5 612,180.2 618,178.2 622.1,176 636,165.7 640,164.2 644,164.2 646,164.8 650,167.2 654,171.3 658.5,178 665,190 667.2,196 668.3,202 668.3,206 667.3,212 664.9,218 659.3,226 654,231.1 648,234.2 642,234.3 626,231.7 616,231.7 610,232.7 606,234 594,239.6 588,240.7 580,241.1 570,240.4 556,236.2 552,235.5 538,235.3 532,235.8 528,237.1 524,240 522,243.2 518.8,252 515,260 510.3,266 504,270.1 498,271.7 492,271.9 484,270.5 468,265.4 464,265.1 460,266.1 458,267.6 456,270.4 451.5,280 450.2,286 450.9,290 455,298 464,310.4 479.4,334 482.5,340 484,346 484.1,352 483.1,358 477.5,378 474.6,384 472,387 468,390.1 463.9,392 452,396.1 448,398.4 438,407 434,409 430,410 412,411.8 408,411.4 404,409.4 396,401.9 392,400.1 390,399.9 386,400.3 368,404.8 364,405.3 360,404.9 356,403.5 350.9,400 347.5,396 345,390 344.3,384 343.8,366 347.3,342 346.9,338 344.8,334 333.7,326 324,320.6 318,318.9 304,317 296,315.1 262,301.1 244,296 236,293.2 230.5,290 228,287.7 225.7,284 224.4,278 224.6,274 225.9,268 234,247.7 238.6,240 244,235.2 248,233.9 252,234.9 259.7,242 264,245.2 268,247.3 274,249 280,249.4 286,248.3 290.7,246 294,242.8 296.5,238 297.5,234 297.6,228 296.1,222 294,217.7 290,212.7 286,209.3 273.4,202 270.1,198 268.7,194 268.2,188 269.1,180 270.8,174 274.6,166 278.9,160 284.8,154 292.9,148 302,143.2 310,140 318,137.7ZM396,259.9 390,263.5 386.6,268 385.3,274 386.2,278 388.6,282 390.9,284 394,285.6 398,286.6 404,286 408.2,284 412.4,280 413.6,278 414.8,274 414.5,268 412,263 408,260.2 402,258.9ZM406,186.9 405.3,188 406,190.5 408,191 409.8,190 410,187.8 408,186.2ZM670,302 676,301.1 684,302.7 688,305.2 691.5,310 692.9,316 691.7,322 689.4,326 687.5,328 682,331.4 676,332.4 670,331.4 664.1,328 660.5,324 659.5,322 658.8,320 658.6,316 660.5,310 664,305.6 668,302.7ZM615.1,324 620,323.1 628,323.5 638,325.8 642.4,328 644.2,330 646.1,334 649.4,352 649.3,358 647.7,364 644.5,370 641.1,374 636.1,378 630,381.2 624,383.7 618,384.7 614,384.3 608,382.4 603.9,380 600,376.6 596.1,372 592.3,366 589.8,360 589,356 589,352 590.8,346 596,338 600,333.7 606,328.6 610,326.1ZM771.4,374 778,373.5 782,374.3 784.9,376 785.8,378 785.5,380 784.3,382 780,385.5 772,389.1 768,389.9 764,389.9 758.6,388 757.1,386 756.9,384 759,380 764,376.4ZM668.8,406 670,405.4 670.9,406 670.4,408 669.4,408ZM453.9,430 456,429.1 460,429.3 462,430.4 463.5,432 464.7,436 464,438.7 462,441.2 460,442.3 456,442.5 454,441.6 452.1,440 450.9,438 450.8,434 451.8,432ZM758.1,462 764,461.5 766,462.1 768.3,464 768.9,466 768.7,468 767.8,470 766,471.7 764,472.8 760,473.1 757,472 754.8,470 753.9,468 753.9,466 755,464ZM449.2,472 452,471.6 454,472.4 456,474.3 456.9,478 456,480.7 454,482.6 452,483.3 450,483.1 447.8,482 446.3,480 445.8,476 446.7,474ZM562.6,476 566,474.7 574,475.1 582,476.1 588,478.1 598,483.4 604,487.6 608.2,492 611.5,498 613.5,506 614.1,514 613.6,522 611.9,528 608,535.8 604.7,540 598,545.6 592,549.4 588,550.3 586,549.5 580.8,544 577.7,542 574,540.7 568,540.8 560,543.9 556,544 552,541.9 550,539.9 547.8,536 545.8,528 545.3,520 545.9,510 547.4,502 550,493.7 553.5,486 556.3,482Z"/>
<path fill="rgb(181,255,74)" d="M351.7,134 360,132.4 364,132.5 370,133.6 384,138.9 398,142.8 436,157.6 452,156 472,157.6 486,157.4 492,158 506,160.9 514,161.4 524,160.3 542,155.1 548,154.5 554,155 560,156.8 566,160.2 577.9,172 582,175 592,179.4 600,181.4 606,181.7 614,180.5 620.5,178 630,172.6 634,170.8 638,170.1 642,170.2 646,171.6 650,174.3 654,178.5 659,186 663,194 664.2,198 664.9,204 664.2,210 661,218 656.5,224 650,229.6 644,231.9 640,232.1 624,230.7 614,230.7 606,231.5 592,234.5 580,234.7 568,233.2 552,228.4 538,225.3 532,224.8 526,225.8 521.4,228 518,231.6 516.7,236 515.7,250 514,256 512.1,260 509.2,264 504,268.2 498,270.3 490,270.4 482,268.3 466,261.8 460,261.5 456,263.2 454,266.3 451.6,274 448.3,282 447.6,286 448.1,290 451,296 464,313.8 475,332 478.7,340 480,346 480.1,352 478.7,360 475.1,372 471.5,380 468.2,384 464,387.3 450,394.1 446,397 438,404.5 432,407.2 426,407.5 408,405.1 404,403 396,396.9 392,395.8 388,396.1 372,400.7 366,401.2 362,400.6 356.5,398 352.5,394 349.6,388 348.6,382 348.2,370 348.8,362 351.6,350 357.1,336 357,332 355.8,330 352,328.1 342,325 324,316.4 304,313.4 296,311.1 274,301 260,293.9 244,289 240,286.9 236.6,284 234.2,280 233.5,276 234.3,272 237,268 240,265.8 247.3,262 252.3,256 256,253.1 260,252.1 276,252.4 284,251.7 290,250 293.3,248 296,245.4 298.1,242 299.6,238 300.3,234 300.4,228 299.3,222 297.9,218 288.4,202 286.9,198 286.2,178 287.3,172 289,168 293.2,162 297.2,158 302.3,154 308,150.6 318,146.4 336,141.7ZM398,257.5 392,259.9 387.2,264 384.7,268 383.6,274 385.4,280 388.8,284 394,286.8 400,287.6 406,286.3 410,284.1 412.5,282 415.2,278 415.9,276 416.7,272 416.6,268 415.7,264 414.7,262 412,259.4 406,257.2 402,256.9ZM406,184.8 404,187.1 403.9,190 406,192.2 408,192.5 410,191.9 411.5,190 411.8,188 410.9,186 410,185.1 408,184.4ZM668.9,304 674,302.3 678,302.2 682,303 687.1,306 690.2,310 691.6,314 691.4,320 690.8,322 688.4,326 684,329.6 678,331.6 672,331.1 666.1,328 662.5,324 661,320 661.1,314 662.7,310 664.1,308ZM617.1,328 622,327.2 628,327.9 633.8,330 638,332.9 640.7,336 643.8,342 645.7,348 646.6,354 646.4,358 644.9,364 643,368 640,372.2 636,376 632,378.6 626,381.4 620,382.7 616,382.6 610,380.9 606,378.6 602.9,376 599.5,372 597.1,368 594.6,362 593.5,356 593.6,352 594.7,348 596.6,344 599.6,340 608,332.4 612,330ZM766.2,376 774,374.1 780,374.4 783.6,376 784.9,378 784.7,380 781.5,384 774,388 768,389.5 762,389 759.7,388 758,386 757.7,384 758.3,382 759.8,380 762.3,378ZM454,432 456,430.7 458,430.3 460,430.7 462,432 463.2,434 463.5,436 462,439.5 460,440.9 458,441.3 454.4,440 452.8,438 452.4,436 452.7,434ZM756.4,464 760,462.3 764,462.3 767,464 767.9,466 767.8,468 766.7,470 764,471.9 762,472.4 759.2,472 756,470 755,468 755.1,466ZM449.3,474 452,473.3 454,474.1 455.3,476 455.6,478 454,480.9 452,481.8 450,481.4 448.2,480 447.5,478 447.7,476ZM567,476 574,475.9 580,476.6 586,478.5 592.6,482 601.6,488 605.8,492 608.6,496 611.1,502 612.3,508 612.7,516 612.1,522 610,528.3 606,534.9 602,539.2 594,545.4 590,547.3 588,547.5 586,547 579.1,542 574,540.1 568,540.1 560,542.1 556,541.3 552,537.9 548.8,532 547.2,526 546.6,518 547.4,508 549.2,500 552.4,492 556.7,484 562,478.4 564,477Z"/>
<path fill="rgb(202,255,53)" d="M358.3,138 364,138 368,138.6 382,144 398,148.9 410,155.6 420,160.5 424,163.2 430,168.5 434,170.6 438,170.5 446,166.4 450,165.3 468,165.3 484,163.2 492,164.3 506,169.1 514,169.4 524,167 540,160.6 548,159.5 554,160.3 560,162.6 564.9,166 574,175.1 577.9,178 584,180.6 592,182.4 602,183 610,182.2 617.9,180 632,173.9 636,173.1 640,173.4 646,175.6 650,178.5 654,182.9 657.5,188 660.5,194 662.1,200 662.5,204 661.7,210 660.4,214 658.2,218 653.3,224 650,226.8 646,229.1 640,230.5 610,229.4 588,230.1 574,229.3 564,227.3 538,218.8 532,217.7 525.7,218 522,219.1 518,221.1 514.3,224 512.9,226 512,228.1 511.6,232 513.2,246 512.2,254 510.8,258 508.4,262 506,264.7 502,267.4 496,269.2 490,269.1 482,266.7 470,260.2 464,257.8 458,257.2 454,257.8 452,258.8 450.7,260 450.1,262 450.3,268 449.3,274 445.1,284 444.6,288 445,290 446.7,294 449.3,298 460,311.2 465.8,320 473.5,334 475.2,338 476.9,344 477.3,350 476.3,358 472.7,370 468.7,378 466,381.4 462,384.8 448,392.7 444,396 438,402.2 435.1,404 432,405.1 426,405.1 408,400.2 398,394 394,392.4 392,392.2 388,393 378,396.9 374,397.9 368,398.4 364,397.8 360,396.1 358,394.7 354.3,390 352.7,386 351.7,378 351.9,366 353.7,356 356.9,348 363.6,338 364.9,334 364,328 361.6,324 358,321.5 348,320.9 342,319.6 324,312.3 308,310.2 299.7,308 288,301.8 274,296.1 268,292.9 253,282 251.4,280 250.8,278 251.4,276 258.3,264 262,259.8 265.1,258 270,256.5 286,254.4 292,252.9 296.7,250 298.6,248 301.1,244 303.2,236 303.2,226 301.6,218 297.6,206 296.9,200 299.5,172 300.6,168 302.7,164 308,158.5 314,154.7 322,151.8 338,147.7 350,140.5 354,138.9ZM396,255.9 390,258.8 384.5,264 381.8,270 381.7,276 383.2,280 384.6,282 389.3,286 396,288.4 402,288.5 406,287.4 410,285.5 414.5,282 416,280 418.4,274 419.4,262 419,260 417.4,258 412,255.4 404,254.5ZM406,183.1 403.1,186 402.5,188 402.8,190 403.9,192 406,193.2 408,193.5 410,193.1 411.7,192 412.9,190 413.3,188 412.8,186 410,183.1 408,182.7ZM671.3,304 674,303.1 678,303 684,304.8 687.8,308 690.1,312 690.8,314 691,318 689.9,322 687.5,326 684,328.9 682,329.9 676,331 670,329.6 665.2,326 662.8,322 662.1,316 663,312 666,307.5 668,305.7ZM618.1,332 622,331.5 626,331.8 630,333 634.8,336 638,339.2 641,344 643.2,350 643.9,354 643.6,360 642.5,364 640.6,368 637.7,372 634,375.5 630,378 624,380.4 620,381 616,380.8 612,379.7 608,377.6 603.9,374 600.9,370 599,366 597.3,360 596.9,356 597.4,352 598.7,348 602.6,342 610,335.6 614,333.4ZM767.5,376 774,374.6 780,375 782.3,376 783.9,378 783.9,380 782.8,382 780.7,384 774,387.6 770,388.8 766,389.1 761,388 758.8,386 758.5,384 759.1,382 762,378.8ZM457.2,432 460,432.3 461.7,434 462.2,436 461.5,438 460,439.4 458,439.9 456,439.2 454.8,438 454.1,436 454.6,434 456,432.5ZM757.8,464 760,463.1 764,463.2 766,464.5 766.9,466 766.8,468 765.5,470 764,471 760,471.3 758,470.5 756.1,468 756.2,466ZM450.5,476 452,475.5 452.8,476 453.8,478 452,479.7 449.7,478ZM565.1,478 570,476.8 576,476.9 581.6,478 586.5,480 596,486 602,490.6 606.6,496 609.4,502 610.9,508 611.3,514 610.9,520 609.2,526 606,531.6 602,536.3 596,541.4 590,544.9 586,545 578,540.8 574,539.5 570,539.3 562,540.4 558,539.8 553.4,536 550.1,530 548.5,524 547.9,516 548.6,508 550,502 552.2,496 557.2,486 560.2,482Z"/>
<path fill="rgb(223,255,32)" d="M358,144 362,143.8 368,144.8 380,149.4 390,151.8 396,154 400,156.5 410,164.8 426.6,176 432,178.9 438,180.4 442,180 452,174.8 466,173.4 476,170.6 482,169.5 488,169.9 492,171.2 502,176.6 506,178.2 512,178.4 520,175.5 538,165.8 542,164.5 548,163.8 554,164.8 558,166.5 563,170 574,180.5 580,183.3 586,184.6 594,184.9 606,183.7 614,182 632,175.5 636,175.2 640,175.8 644,177.2 648,179.8 652,183.6 655.3,188 658.5,194 659.8,198 660.6,204 660.2,208 659.2,212 657.3,216 654.6,220 650.7,224 644,228 640,229.2 636,229.5 616,228.6 570,224.3 560,221.8 536,213.1 530,211.9 524,212.1 520,213.4 514,216.7 510,220 508,223.1 507.2,226 507.2,230 510.5,244 510.6,252 509.6,256 507.7,260 504.3,264 501.4,266 498,267.4 494,268 490,267.8 486,266.8 479.9,264 468,255.6 464,253.8 460,252.9 454,252.7 448,253.2 444.1,254 440.2,256 440.6,258 444,261.3 446,264.1 447.5,268 447.7,270 446.3,276 441.1,286 440.8,288 441.9,292 445.9,298 458,311.5 462.7,318 470.4,332 474.2,342 475,348 474.5,356 471.7,366 468.2,374 465.5,378 461.5,382 446,391.6 437.8,400 435,402 432,403.1 426,402.8 418,399.5 410,397.1 406,395.4 398,390.7 394,389.3 392,389.1 388,390.1 376,395.4 370,396.2 366,395.8 361.7,394 357.5,390 355,384 354.3,378 354.8,366 356.9,356 360,349.3 368,339.1 369.7,334 369.4,330 368.2,326 364,318.6 360,315.6 356,315.1 348,315.6 344,315.1 326,308.3 310,306.1 302.8,304 292,297.6 287.9,296 276,292.9 268,288.9 264.5,286 261.4,282 260.4,280 259.7,276 260.2,272 261.7,268 264,264.6 266.9,262 274,259 290,257.1 294.5,256 298,254.2 300.7,252 305,246 306.7,240 307,230 306.2,222 303.3,208 302.9,200 306,174 306.9,170 309,166 312.9,162 318,159 324,156.9 340,152.8 344,151 352,145.9ZM406,181.3 404,182.6 402,185.6 401.5,188 401.7,190 402.8,192 405.6,194 410,194.2 413.2,192 414.4,190 414.6,186 413.9,184 412,181.9 410,180.9ZM402,251.9 394,254.1 387,258 381.1,264 378.6,270 378.8,276 381.8,282 386.3,286 394,289.3 400,289.8 406,288.6 411.7,286 417.1,282 419.6,278 423,266 426,261.6 429.3,258 429.1,256 425.5,254 418.6,252 410,251.2ZM674,304 680,304.1 684.4,306 688.4,310 689.4,312 690.3,316 689.4,322 686.7,326 682,329.3 678,330.3 672,329.7 668,327.5 664.7,324 663.1,320 663.3,314 665,310 668,306.7 670,305.4ZM617.8,336 622,335.5 626,335.9 630,337.4 634,340.2 637.4,344 639.6,348 641,352 641.5,356 641.3,360 640.3,364 638.4,368 635.5,372 632,375.1 628,377.4 624,378.9 620,379.5 616,379.2 612,377.9 608.8,376 606,373.6 603.2,370 601.3,366 599.7,358 600.5,352 604,345.3 610,339.6 614,337.3ZM769.1,376 774,375.1 780,375.7 783,378 783.1,380 782,382 780,384 774,387.2 768,388.7 764,388.5 762,387.8 759.7,386 759.2,384 759.8,382 761.4,380 764,378.1ZM457.5,434 458.9,434 460,434.9 460.4,436 460,436.8 458,438 456.1,436ZM759.8,464 763.5,464 765.7,466 765.7,468 764,470 762,470.6 760,470.4 758,469 757.4,468 757.5,466ZM568.8,478 574,477.6 578,478 583.9,480 587.4,482 598,489.3 602,492.8 605.9,498 608.5,504 609.7,510 609.9,516 608.9,522 607.4,526 604,531.3 600,535.7 594,540.6 590,542.8 586,543.3 574,538.9 562,539 560,538.6 558,537.6 554.3,534 552,530 550.5,526 549.3,520 549.2,514 550.2,506 552,500 556,491.5 560.3,484 564.3,480Z"/>
<path fill="rgb(244,255,11)" d="M353.4,152 358,150.6 364,150.7 376,154.3 390,157.1 394,158.8 398,161.7 408.4,174 409,176 404,180.2 402,182.7 400.7,186 400.7,190 401.6,192 403.8,194 406,194.9 410,195.1 412.7,194 414.9,192 416.6,188 417.1,180 418,179.5 422,180.4 438,187.8 444,189.4 448,189.9 454,188.5 474,178.9 478,177.8 482,177.3 487.4,178 492,180 502,188.7 506,191.3 510,192.1 512,191.8 516,189.5 525,180 534.8,172 542,168.5 548,167.7 554,168.9 558,170.9 562,174.2 569.8,182 572.7,184 578,186.2 584,187.4 592,187.4 608,184.2 632,176.9 638,177.1 642,178.3 648,182 651.9,186 654.7,190 656.8,194 658.7,200 659.1,204 658.7,208 657.5,212 655.6,216 652,220.7 648,224.2 644,226.6 640,227.9 630,228.6 612,227.1 588,222.3 568,219.4 558,216.6 544,210.9 528,205.2 522,204.5 518,205.4 514,207.5 508,212.2 503.4,218 502.4,222 502.4,226 503.3,230 508.3,244 508.8,248 508.7,252 506.9,258 504.1,262 500,265.1 496,266.5 490,266.5 484,264.5 477.3,260 468,251 464,248.9 458,247.9 432,248.3 418,247.2 410,247.5 402,248.8 396,250.5 390,253 384.7,256 379.8,260 375.3,266 374.2,270 374.8,276 376.5,280 380,284.4 385.8,288 394,290.6 400,291 404,290.4 411,288 418.8,284 421.2,282 422.4,280 424.1,272 425.8,268 430,264.1 434,262.7 438,262.8 440.9,264 443.3,266 445.1,270 444.7,274 442,279.1 436.1,286 435.5,288 435.8,290 439.7,296 457.8,314 463.4,322 468.6,332 471.7,340 473,346 472.9,354 471.1,362 468.9,368 467,372 464,376.5 458,382.1 444,390.9 437.2,398 434,400.4 430,401.3 426,400.5 418,396.6 408,393.3 398,387.8 394,386.4 392,386.3 388,387.4 380,391.9 376,393.5 372,394.2 368,394 364,392.7 360,389.3 357.4,384 356.6,378 357.3,366 359.7,356 363,350 371.6,340 373.2,336 373.3,332 372,326.1 368.6,318 366,313.6 364,311.6 360,310.3 350,311 342,309.6 326,302.6 310,299.9 305.8,298 299.9,294 294.7,292 280,290.6 274,289.1 270,287 266.6,284 264.1,280 263.2,276 264.5,270 267.3,266 270,263.9 274,262.1 278,261.1 292,260.5 298,259 302,256.7 305.2,254 309.6,248 311.6,242 311.9,236 310.4,222 308,208 307.6,198 310.6,176 311.8,172 314,168.4 318,164.9 322,162.9 344.4,156ZM358,177.8 357.2,180 358,180.9 360.1,180 358.9,178ZM670.4,306 674,304.6 680,304.7 684,306.4 685.9,308 688.8,312 689.7,316 688.8,322 686,326 682,328.8 678,329.8 672,329.1 667.2,326 664.5,322 663.6,318 664.7,312 667.7,308ZM616,340 620,339.1 624,339.2 630,341.4 633.4,344 636,347.1 637.6,350 638.9,354 639.3,358 638.8,362 637.5,366 635.1,370 630,374.7 626,376.8 622,377.8 616,377.6 612,376.1 608.9,374 606.8,372 604.2,368 602.3,362 602,358 602.6,354 605.4,348 610,343.3ZM771,376 776,375.5 778.9,376 782,378 782.3,380 781.3,382 779.2,384 775.9,386 772,387.5 766,388.3 764,388 760.6,386 760,384 760.6,382 762.2,380 766,377.6ZM759.1,466 762,464.9 764.3,466 764.3,468 762,469.4 760,469 758.9,468ZM566.6,480 570,478.8 576,478.7 580,479.5 584,481.3 600,493 604,497.9 606.1,502 607.9,508 608.5,514 607.8,520 606.5,524 604,528.5 600,533.3 594.7,538 590,540.9 586,541.8 574,538.3 562,537.6 558.7,536 556.6,534 553.8,530 552.1,526 551,522 550.4,516 550.7,510 552,503.9 554.3,498 560.7,486 563.8,482Z"/>
<path fill="rgb(255,244,0)" d="M352,158 360,157.2 372,159.1 384,160.1 390,161.8 393.7,164 399.1,170 401.7,174 402.3,176 402.2,178 399.5,186 399.7,190 402,193.6 406,195.7 410,196 414,194.5 416.8,192 420,187.4 422,186.6 426,187.8 442,197.4 448,200.1 454,200.7 466,198.7 470,198.6 474,199.2 478,200.8 482,203.7 486,208.4 504,239 506,243.7 506.9,248 506.9,252 505,258 502,262 498.9,264 496,265 490,265.1 486,263.9 482.6,262 480.1,260 476.5,256 470,245.5 466,243.1 460,242.2 442,241.7 414,243.3 398,246.9 388,250.7 380,255 374,259.6 370.7,264 369.4,268 369.9,274 374,283.2 376,286.1 378,287.9 382,289.5 388,291 398,292.4 404,291.8 420,287.4 424,287.7 426,288.6 436.3,298 448,306.9 456,314.3 461.8,322 467,332 470.6,342 471.5,350 470,360 466.1,370 462.1,376 458,380 442.4,390 436,396.4 432,398.8 430,399.1 426,398 418,394.1 408,390.8 398,385.3 394,383.8 390,383.9 388,384.6 379.9,390 374,392.2 367.7,392 364,390.3 361.6,388 359.5,384 358.6,378 359.4,368 361,360 362.5,356 364.9,352 374,342 375.9,338 376.5,334 376,329.3 374,322.4 370,312 367.4,308 364,306.5 352,307.4 346,306.6 340.1,304 328,296.4 316,292.4 306.3,288 302,286.6 296,286 282,287.6 276,287 272,285.3 270,283.9 268,281.6 266.3,278 266.2,274 266.7,272 269.3,268 272,265.9 276,264.3 280,263.6 292,264.1 298,263.5 305.3,260 312,253.9 314.5,250 317,244 318.5,236 318,232 312.3,208 311.3,200 312,188 315,176 318,171.3 324,167.1 338,161.5ZM358,175.8 356,177.3 355.4,180 356.3,182 358,182.8 360,182.5 361.7,180 361.6,178 360.1,176ZM543.6,172 548,171.5 554,172.9 558.7,176 566,183.2 570,186.3 576,188.8 584,190.2 592,189.6 628,178.7 634,178.1 640,179.1 644,181 648,183.9 651.7,188 654.4,192 657.4,200 657.6,206 656.8,210 655.2,214 652.7,218 648,222.7 644,225.2 640,226.8 632,227.8 622,227.5 612,226.1 588,219.2 570,215.6 562,213.4 538,203.6 532.4,200 529,196 528.1,194 527.6,190 528.5,186 530.6,182 536,176 540,173.3ZM435.2,266 438,266.2 441,268 442.2,270 442.1,274 440,277.4 436,280.2 432,281 430,280.5 427.8,278 427.3,276 427.5,272 430.2,268 432,266.8ZM671.7,306 676,304.8 680,305.2 685.1,308 688.1,312 689.2,316 688.9,320 686,325.3 682,328.3 678,329.4 672,328.6 668,326 665.1,322 664.5,320 664.3,316 665.4,312 668,308.5ZM613.8,344 620,342.1 626,342.8 630,344.8 632,346.5 635.9,352 637.2,358 636.9,362 635.6,366 633.1,370 631.2,372 626,375.3 620,376.6 614,375.4 609,372 607.3,370 605.2,366 604,360 604.9,354 608.6,348ZM766.2,378 772,376.3 776,376.1 780,377.3 780.9,378 781.5,380 780.5,382 778.4,384 774.9,386 770,387.6 766,387.8 762,386.4 760.7,384 761.3,382 763,380ZM569.7,480 574,479.5 578,480 582,481.6 585.8,484 596,491.5 600,495.2 603.5,500 606,506 606.8,510 606.9,516 606,520.9 604,525.6 601,530 597.1,534 592,538 588,539.9 584,540.3 574,537.7 566,537 562,536.1 560,535 557,532 554.5,528 553,524 552,520 551.6,514 552.3,508 553.9,502 556,497.5 563.8,484 566,481.8Z"/>
<path fill="rgb(255,223,0)" d="M349.1,162 356,162 366,163.5 382,163.5 386,164.3 389.9,166 394.6,170 398.5,176 399,180 398.2,186 398.6,190 399.5,192 402,194.7 406,196.5 410,196.8 414,195.9 420,192.3 422,191.8 424,192.2 429.7,196 442,208.2 446,210.6 450,211.1 462,210.3 467.9,212 472,215 476.2,220 478.2,224 480,231.3 482,232 490,232.4 496,234.7 500,238.1 504,244.4 505,248 505.1,252 504.2,256 502,259.7 499.4,262 496,263.6 490,263.7 486,262.2 482.7,260 480.7,258 478.2,254 476.5,248 477,236 476,234.1 456,234.7 440,233.6 428,236.8 408,241.1 388,247.4 377.1,252 372,254.9 368.4,258 366,262 364.7,268 365.4,272 374,291.3 376,293.3 386,293.2 400,293.9 416,290.9 421.6,292 433.2,300 446,307.9 452,312.5 458.9,320 464.6,330 468.6,340 469.5,344 470,350 469.1,358 465.5,368 462,373.7 458,378 452,382.5 442,388.4 434,395.2 432,396.2 428,396.2 420,392.7 410,389.5 396,382.1 392,381 388,381.9 379.8,388 374,390.4 368,390.2 364.3,388 362.6,386 361,382 360.5,376 361.5,368 363.5,360 366.6,354 376,344 378.1,340 378.9,336 379,332 378,325.9 372,304.8 370,302.4 368,302.1 354,304.8 348,304.1 342,301.1 330,291.1 304,279.6 300,278.8 296,279.2 284.4,284 278,284.7 275,284 272,282.3 269.9,280 269.1,278 268.9,274 270,271.4 272,269.2 276,267.1 280,266.5 284,266.7 296,269.3 300,268.8 304,267 310,263.1 315.6,258 325.7,244 327.9,240 328.3,238 327.8,234 318,212.5 314.8,202 314.2,194 315.8,184 317.2,180 319.5,176 324,171.9 338,164.6 344,162.8ZM356,175.2 354.4,178 354.2,180 354.8,182 356,183.3 357.5,184 360,183.9 362.3,182 363.1,180 363.1,178 362.5,176 360,174 358,174ZM543.8,176 548,175.4 552,176.2 556,178.4 564,186 568,188.9 574,191.3 584,192.7 588,192.6 592,191.7 604,187 628,179.6 634,179.1 638,179.8 642,181.3 646,183.9 650,187.7 653.1,192 655,196 656.4,202 656.4,206 655.6,210 652.7,216 649.4,220 644,224 638,226.3 632,227.1 622,226.8 614,225.6 606,223.4 588,216.4 564.7,210 546,202.7 540,199.5 536.2,196 534.9,194 534.2,192 533.9,188 535,184 537.7,180 540,177.9ZM435,270 436.5,270 438.5,272 438,274.2 436,275.6 434,275.7 432,274 432.3,272ZM673.2,306 678,305.4 682,306.5 686,309.6 688.4,314 688.8,318 687.7,322 684.7,326 680,328.6 674,328.8 670,327 666.8,324 665,320 664.8,316 666.1,312 669.3,308ZM615.3,346 618,345.1 622,344.8 628,346.6 632,350 634,353.3 634.9,356 635.1,362 632.7,368 628.9,372 624,374.5 618,375 614,373.8 609.3,370 606.3,364 606,358 607.2,354 610,349.8ZM767.3,378 772,376.8 776,376.6 779.8,378 780.6,380 779.8,382 777.6,384 774,386 768,387.4 764,386.8 762.6,386 761.5,384 762,382 763.8,380ZM568,482 570,481.1 574,480.5 578,481.1 582,483 598,495.2 601.8,500 603.8,504 605,508 605.6,514 604.7,520 603.2,524 600.7,528 597.2,532 592,536.2 588,538.4 586,538.9 582,538.8 564,535.5 561.2,534 559,532 556.2,528 554.4,524 553.3,520 552.8,514 553.5,508 554.6,504 557.3,498 564.2,486Z"/>
<path fill="rgb(255,202,0)" d="M341.6,166 346,165 350,164.7 356,165.9 362,168.3 378,166.5 384,167.1 388,168.7 392.1,172 396,178 397.4,190 399.8,194 404,196.6 408,197.5 412,197.6 420,196.1 422,196.5 424,197.8 427.8,202 430.4,206 433,212 433.7,216 433.5,220 431.8,224 428.6,228 423,232 407.5,238 368.1,250 364,252 362,254 361,256 360.2,260 360.3,268 361.8,272 368.6,284 369.7,288 370,292 368.8,296 367.1,298 362,301 356,302.5 350,302.2 344,299.4 332,286.5 317.5,278 313.2,274 312.6,272 313,270 314.2,268 324,256.5 328,253 338,247 340.9,244 341.8,242 342.2,240 341.9,236 340,231.6 337.2,228 330,221.2 326,216.6 320,207.4 317.4,200 316.8,194 318,186 319.6,182 322,178.4 326,174.9 332,170.9ZM358,171.5 356,172.9 354,175.7 353.1,180 353.6,182 355,184 358,185.4 360,185.1 362,184 363.6,182 364.6,178 364,175 362,171.7 360,170.7ZM546.6,180 550,180.1 554,181.9 562.7,190 568,193.1 574,194.5 584,195.4 590,194.5 606,187.2 624,181.4 632,180.1 638,180.9 642,182.6 646,185.3 648.8,188 651.8,192 653.9,196 655.1,200 655.5,204 655,208 652.7,214 649.9,218 645.3,222 640,224.8 634,226.1 628,226.4 620,225.8 614,224.8 602,220.7 586,212.9 570.2,208 548,199 544,196.7 541.1,194 540,192.3 539.2,188 540,185.1 542,182.2 544,180.8ZM485,240 490,238.2 494,238.5 498,240.4 501.3,244 503,248 503,254 501.2,258 498,261 494,262.4 489.6,262 485.5,260 481.8,256 480.3,252 480.1,248 482,243ZM276.8,270 282,269.9 286,272 287.3,274 287.4,276 286.3,278 284,280.1 280,281.6 276,281.3 274,280.3 272.2,278 271.7,276 272,274 274,271.4ZM409.7,294 416,293.9 420,295.3 430.9,302 448,311.4 454,316.4 458,321 461.2,326 465.1,334 468.2,344 468.7,348 468.5,354 467.2,360 465,366 461.6,372 456,378 452,381 439.9,388 432,393.3 428,393.5 412,388.4 406,385.8 396,380 392,378.5 388,379 379.7,386 376,388.1 372,388.9 368,388.1 366,386.9 364,384.5 362.5,380 362.6,374 364,366.7 366,360.4 368,356.7 378,345.8 380,341.6 381.2,336 380.9,328 377.1,310 377,306 377.9,302 379.1,300 381.4,298 386,296.2 400,295.6ZM675.3,306 680,306.2 684,308.3 687.1,312 688.3,316 688,320 686,324 682,327.4 678,328.6 674,328.3 669.4,326 666.3,322 665.2,318 665.8,314 668,310 672,306.9ZM616.6,348 622,347.2 626,348.3 630,351.2 632.8,356 633.3,362 632,366 629,370 624,373 618,373.5 614,372.1 610,368.3 608,364 607.9,358 609.4,354 612,350.8ZM768.7,378 772,377.2 776,377.2 778.5,378 779.7,380 779,382 776.8,384 772.7,386 768,386.9 763.7,386 762.3,384 762.8,382 764.7,380ZM571.5,482 576,481.9 580,483.4 594.5,494 600.1,500 602.3,504 603.5,508 604,516 603.2,520 601.6,524 598.9,528 594,533 590,535.9 586,537.5 580,537.4 568,535.4 564,534.1 559.2,530 556.7,526 555.2,522 554.3,518 554.2,512 555.2,506 556.7,502 566.1,486 568,483.8Z"/>
<path fill="rgb(255,181,0)" d="M343.1,168 346,167.4 350,167.4 352.1,168 354,169.6 354.1,172 352.1,178 352.4,182 354,184.7 356,186.1 358,186.6 362,185.5 364,183.6 365.7,180 366.6,174 368,171.9 374,169.9 380,169.4 384,170.2 388,172.3 391.5,176 393.8,180 396,190 398.4,194 401,196 406,197.9 418,199.1 420,200 422,202 425,208 425.9,214 424.9,220 422.8,224 418,229.1 412,232.8 404,235.9 390,239.8 378,242.2 370,242.8 362.6,242 358,240 356.1,238 355.2,236 354.9,232 356.3,228 360,220.6 360.7,218 360.5,214 359.6,212 358,210.2 356,209.2 352,208.8 348,210 340,214.4 338,214.9 334,214.6 328,211.3 324,207.3 320.8,202 319.6,198 319.2,194 319.5,190 320.7,186 323,182 326,178.9 335.3,172 340,169.2ZM624.2,182 632,180.9 636,181.4 640,182.7 644,185 647.5,188 650.7,192 652.8,196 654.1,200 654.5,204 654,208 652.7,212 648,218.6 644,221.8 640,223.8 634,225.4 628,225.7 620,225.2 612,223.4 602,219.3 588,210.9 573.2,204 571,202 571.1,200 572,199.7 584,198.5 590,196.9 606,188ZM547.9,188 550,187.6 552,188.6 554,191.1 554.4,192 554,192.7 552,193.2 548.9,192 547.5,190ZM490.5,242 494,242 498,244 500,246.4 501.3,250 501.1,254 500,256.6 498,258.9 494,260.6 490,260.3 486,258 484.4,256 483,252 483.4,248 484.4,246 488,242.8ZM335.6,256 342,254.3 346,254.3 348,255 351.2,258 356.5,270 364,279.3 367.2,286 367.4,292 365.5,296 363.3,298 358,300.4 354,300.9 350,300.3 346,298.3 341.7,294 336,284.2 334.2,282 324.4,274 323.2,272 322.8,270 323,268 324.9,264 330,258.8ZM394.3,298 410,296.5 414,296.7 418,298.1 429.3,304 444,310.7 450,314.7 456,320.4 461,328 464.7,336 467.3,346 467.3,354 465.3,362 461.5,370 458,374.5 452,379.6 432,390.7 430,391.1 426,390.7 412,386.9 406,384.1 394,376.9 390,375.8 388,376 386,377 379.2,384 376.2,386 374,386.8 372,387 368.3,386 366.1,384 365,382 364.3,378 364.6,374 366,367.9 368,362.4 370.7,358 378,350.5 379.6,348 382.5,340 383.3,330 380.7,312 381.1,306 383.3,302 385.8,300 390,298.5ZM670.9,308 676,306.3 680,306.6 684,308.8 686.7,312 687.9,316 687.6,320 685.6,324 682,327 678,328.2 674,327.9 670,326 666.7,322 665.7,318 666.2,314 668,310.7ZM617.6,350 622,349.6 626,350.9 629.5,354 631.3,358 631.5,362 630,366.2 626.6,370 622,372 618,372 614,370.2 611.7,368 609.8,364 609.5,360 610.6,356 613.8,352ZM770.4,378 774,377.6 776.7,378 778.8,380 778.1,382 775.9,384 771.3,386 766,386.3 764,385.2 763.2,384 764,381.5 766,379.7ZM570.7,484 574,483.2 576,483.4 580,485.2 596,497.1 599.7,502 601.5,506 602.5,510 602.6,516 601.8,520 600,524 597.2,528 594,531.3 590,534.3 586,536.1 580,536.5 566,533.7 563.1,532 560,528.8 556.5,522 555.3,514 556,508 557.2,504 560,498.6 568,486.4Z"/>
<path fill="rgb(255,159,0)" d="M344.9,170 348.7,170 350,170.5 351.2,172 350.9,180 352,183.9 354,186.5 356,187.7 358,188.1 362,187.2 364,185.7 366.7,182 369.2,176 372,173.8 376,172.6 380,172.4 384,173.4 386,174.6 388,176.4 390.6,180 394.2,190 396.7,194 399.3,196 403.7,198 416,200.9 419.4,204 421.1,208 421.7,214 421,218 417.8,224 412,229.2 408,231.3 402,233.3 384,236.6 378,237 372,236.4 368,234.8 365.2,232 364.3,228 365.7,218 365.7,214 364,209.4 360,205.3 356,203.7 352,203.5 348,204.5 340,208.1 336,208.9 332,208.4 328,206.3 324,202 322.2,198 321.7,192 322.6,188 325,184 328,181 339.9,172ZM627.4,182 632,181.7 636,182.3 642,184.7 648.1,190 650.9,194 652.6,198 653.5,202 653.4,206 651.7,212 647.4,218 642.1,222 636,224.3 630,225.1 622,224.8 614,223.2 608,221.1 600,216.9 593.4,212 587.1,206 586.4,204 587.3,202 603.8,190 616,185ZM489.5,246 492,245.2 494,245.4 496,246.2 498,248.2 499.1,252 498.8,254 497.9,256 496,257.8 492,258.6 489.8,258 487.3,256 486.2,254 486.1,250 487.1,248ZM333.5,264 338,262.1 342,262.6 344.3,264 349.4,270 358,275.7 362,279.6 364.7,284 365.7,288 365.3,292 362.8,296 358,298.7 352,299 348,297.5 344.2,294 341,288 338,276.9 331.7,270 331.3,268 331.8,266ZM402,300 410,299.4 414,300 440,310.5 446,313.5 452,318 456,322.2 460.8,330 464.3,338 466.2,346 466.1,354 464.2,362 460.1,370 456,374.9 450,379.6 440,385.1 432,388.6 426,388.8 412,385.4 406,382.6 394,374.9 390,373.1 388,372.8 386,373.2 384,374.6 378.3,382 374,384.6 372,384.8 369.5,384 367.5,382 366.7,380 366.8,374 369.6,366 372,362 380,353.1 383.4,344 384.6,338 385.2,330 384,312 384.6,308 385.4,306 386.9,304 390,301.9 394,300.8ZM671.7,308 676,306.6 680,307 684,309.3 686.2,312 687.5,316 687.3,320 685.1,324 682,326.6 678,327.8 674,327.6 670,325.5 667.1,322 666.1,318 666.6,314 669.1,310ZM618.8,352 622,351.9 626,353.5 628.3,356 629.6,360 629.1,364 628,366.2 626,368.4 622,370.3 618,370.3 616,369.5 614,368 611.6,364 611.4,360 612.9,356 616,353.1ZM766.6,380 770,378.7 774,378.2 776,378.7 777.7,380 777.2,382 774.9,384 772,385.2 768,386 766,385.6 764,384 764.4,382ZM571.5,486 574,485.2 578,486.2 592,495.5 595,498 598,501.7 600.7,508 601.4,512 601.3,516 600.3,520 598.4,524 593.5,530 590,532.8 586,534.8 582,535.5 578,535.3 570.7,534 566,532.3 561.1,528 558.7,524 557.2,520 556.6,512 558.5,504 562,498Z"/>
<path fill="rgb(255,138,0)" d="M341.6,174 346,172.6 348,173.2 349.2,176 349.8,182 351.4,186 354,189.1 358,190.5 362,189.6 364,188.3 366.4,186 370.1,180 372,177.9 374,176.8 376.3,176 380,175.8 384,177.3 387.9,182 391.4,190 394.4,194 397.1,196 401.4,198 414,201.8 416.6,204 418.5,208 419.2,212 418.7,216 417.2,220 414.4,224 412,226.1 408,228.5 404,229.9 394,231.2 382,231.4 378,230.9 374,229.2 372,227 370.9,224 370.5,214 368.6,208 366,204 360,199.3 356,198 352,198.1 348,199.3 338,204.1 334,204.5 330,203.3 328,201.9 325.2,198 324.2,194 324.8,190 326,187.4 328,184.9ZM621.2,184 630,182.4 634,182.7 638,183.8 642,185.7 645,188 649.9,194 651.7,198 652.6,202 652.2,208 650.8,212 648.2,216 642,221.2 636,223.6 630,224.5 624,224.4 616,223.1 610,221 602,216.8 595.9,212 592.5,208 591.5,206 591.3,204 592,202 595.3,198 599.7,194 608,188.7ZM491.3,250 494,249.8 495.5,252 495.1,254 494,255 492,255.2 490.2,254 489.8,252ZM347.8,276 352,275.7 356,277 360,279.9 362,282.4 363.7,286 364,290 362.3,294 360,296 356,297.5 352,297.4 348,295.4 345,292 343.3,288 343.1,282 344.9,278ZM394.8,304 408,302.5 412,302.8 418,304.3 438,311.2 444,313.9 450,317.8 456,323.9 459.7,330 463.2,338 465.2,346 465.3,352 464.3,358 461.3,366 457.3,372 452,377 446,380.8 434,386.3 430,387.3 424,387.1 416,385.4 410,383.3 404,380 390,370.3 386,368.6 384,368.4 382,369.6 378.1,378 376,380.5 374,381.6 372,381.7 370,380.3 369.2,378 369.2,376 370.4,372 374,366.8 380,362.2 382,357.4 386.4,336 387.2,326 387.2,314 387.9,310 390.7,306ZM672.6,308 676,307 680,307.4 684,309.8 686.7,314 687.2,318 686,322 684,324.7 680,327.1 676,327.6 672,326.4 668.9,324 666.8,320 666.5,316 667,314 669.6,310ZM615.8,356 618,354.7 622,354.3 624,355.1 626,356.9 627.4,360 627.5,362 626,365.7 624,367.5 620,368.6 617.4,368 614.9,366 613.7,364 613.5,360 614.2,358ZM767.8,380 772,378.9 774,379 776.5,380 776.3,382 773.8,384 768,385.3 765.2,384 765.4,382ZM571.5,490 574,488.4 576,488.4 590,495.7 593,498 596,501.2 597.8,504 599.3,508 600,512 599.9,516 598.9,520 596.9,524 591.6,530 588,532.5 584,534 580,534.4 576,534.1 568,532 564.8,530 562,527.1 560.1,524 558.5,520 557.8,516 557.8,512 558.4,508 559.9,504 564,497.7Z"/>
<path fill="rgb(255,117,0)" d="M341.8,178 344,176.8 346,177 346.6,178 349.1,190 348,192 340,198.3 336,200 332,199.8 330,198.7 327.9,196 327.6,192 328.3,190 330,187.7 336,183.4ZM374.4,182 378,180.6 380,180.8 382,181.8 384,184.5 387.4,192 389.3,194 393,196 398.6,198 411.6,202 414.4,204 416.6,208 417.1,214 415,220 412,223.6 406,227.2 402,228.1 398,228.4 392,227.5 386.9,226 382.1,224 379.5,222 377.5,218 374.1,206 367.6,194 367.6,192 368.4,190 372,184.4ZM623.3,184 628,183.2 632,183.1 636,183.9 640,185.5 646,190.1 649,194 650.9,198 651.8,202 651.8,206 649.9,212 645.2,218 642,220.3 638,222.2 632,223.7 626,223.9 620,223.3 614,221.8 608,219.3 602.5,216 597.9,212 594.9,208 594.1,204 594.6,202 597.3,198 601.2,194 606,190.5 610,188.5ZM347.8,280 350,278.8 354,278.7 358,280.5 360,282.4 362,286 362.4,288 361.5,292 360,294 358,295.3 354,296.1 350,294.8 348,293.2 346,290 345.2,286 346,282.5ZM403.2,306 410,305.6 416,306.3 428,309.4 440,313.4 446,316.4 450,319.2 454,323 457.5,328 461.4,336 463.4,342 464.4,350 463.8,356 461.2,364 458,369.5 454,374 448,378.6 440,382.7 432,385.5 426,386 418,384.8 412,383 404,378.7 392.9,370 387,364 385.5,360 385.2,354 390.7,314 392,310.9 394,308.8 398,306.9ZM673.5,308 678,307.4 682,308.7 684,310.3 686.4,314 686.9,318 685.7,322 684,324.2 680,326.8 676,327.3 672,326 669.4,324 667.1,320 666.9,316 668.4,312 670.1,310ZM617.9,358 620,357.2 622,357.5 624.5,360 624.7,362 624.1,364 622,365.8 619.4,366 618,365.4 616.6,364 616,361.5 616.3,360ZM769.5,380 774,379.7 774.7,380 775.1,382 772,384.1 768,384.5 766.6,384 766.5,382ZM574,492 576,491.6 580,492.4 586,495 590,497.3 595,502 598,508 598.7,512 598.5,516 596.6,522 592,528 588,531 584,532.7 580,533.3 576,533 571.3,532 568,530.6 564.5,528 562.8,526 560.5,522 559.3,518 558.9,514 559.3,510 560.4,506 562,502.7 564,499.8 568,495.9 572,492.9Z"/>
<path fill="rgb(255,96,0)" d="M626.2,184 634,184.1 638,185.3 642,187.6 644.9,190 648,193.8 650.7,200 651.1,204 650.6,208 647.8,214 642,219.5 638,221.6 634,222.7 628,223.4 622,223 616,221.7 611.2,220 606,217.3 601.5,214 598,210 596.2,206 596.5,202 597.5,200 600.6,196 605.1,192 614,187.4ZM387.9,200 392,198.7 398,199 408,201.6 412.4,204 415,208 415.7,212 415.1,216 412,221.4 410,223.2 406,225.4 400,226.4 394,225.3 388.3,222 384.8,218 383.2,214 382.6,210 383,206 383.7,204 385.1,202ZM349.7,282 352,281 354,280.9 356.8,282 359,284 360.2,286 360.4,290 359.4,292 358,293.3 356,294.2 354,294.3 352,293.9 349.3,292 348,290 347.4,286 348,284ZM674.8,308 678,307.7 682,309.1 685,312 686.5,316 686.2,320 684,323.8 682,325.5 678,326.9 674,326.5 670,324.1 668.4,322 667.1,318 667.2,316 668.8,312 672,309ZM400.2,310 408,308.4 414,308.3 422,309.5 434,312.5 440,314.6 446,317.6 451.7,322 455.1,326 458.6,332 461.9,340 463.2,346 463.4,352 461.8,360 459.2,366 454.8,372 450.2,376 444,379.8 436,383.2 430,384.7 422,384.5 414,382.6 406,378.8 397.2,372 391.3,366 388.7,362 387.2,356 387.2,350 388.8,338 391.3,324 393.6,316 396,312.4ZM767.8,382 772,380.6 773.6,382 770,383.8 768,382.7ZM570.7,496 576,494 580,494.4 584,495.6 588,497.6 591.3,500 594,502.9 595.8,506 597.1,510 597.4,514 596.1,520 592,526.2 586,530.6 580,532.2 576,532 572,531 569.4,530 566,527.6 561.9,522 560.3,516 560.2,512 561,508 564,502 568,497.8Z"/>
<path fill="rgb(255,74,0)" d="M619.6,186 628,184.4 632,184.5 636,185.3 642,188.4 647.3,194 649.3,198 650.3,202 649.9,208 647,214 642,218.7 638,220.9 632,222.5 626,222.8 620,222.1 614,220.4 608,217.6 603,214 599.4,210 597.8,206 597.7,204 599,200 601.9,196 606.3,192 609.5,190ZM391,202 396,200.2 400,200.4 406.7,202 410.6,204 413.6,208 414.3,212 413.7,216 411.4,220 408,222.9 402,224.8 396,224 392,221.8 388.5,218 386.6,212 386.9,208 387.7,206 388.9,204ZM351.5,284 354,283.4 356,284 358,286 358.5,288 358.2,290 356.1,292 353,292 350.4,290 349.7,288 349.9,286ZM671.2,310 674,308.5 678,308.1 682,309.5 684.6,312 686,315.4 686.2,318 685,322 682,325.1 678,326.6 674,326.2 670.3,324 668.7,322 667.5,318 667.6,316 669.2,312ZM403.9,312 410,310.6 418,310.5 426,311.8 436,314.3 442,316.6 448,320.2 452,323.6 455.4,328 458.6,334 461.6,342 462.5,348 462.3,354 460.1,362 456.9,368 453.5,372 448,376.5 440,380.7 432,383.3 426,383.8 418,382.7 412,380.8 404,376.2 396.7,370 391.8,364 389.2,358 388.5,352 389.1,344 391.6,330 394,322 396,317.7 399.6,314ZM575.7,496 582,496.5 586,498 589.2,500 593.1,504 595.7,510 595.9,516 593.6,522 590.5,526 588,528 582,530.6 578,531 574,530.4 568.5,528 564.5,524 561.9,518 561.4,514 561.8,510 564.2,504 566,501.6 570,498.2Z"/>
<path fill="rgb(255,53,0)" d="M621.4,186 630,184.9 636,186 640,187.9 642.9,190 647.7,196 649.6,202 649.1,208 646.1,214 644,216.3 640,219.2 636,221 630,222.2 624,222.1 618,221.1 612,218.9 608,216.8 604.3,214 600.7,210 599.1,206 599.1,204 600.3,200 603,196 607.5,192 610.8,190ZM395.1,202 398,201.3 404,202 408.9,204 411.1,206 412.9,210 413,214 411.4,218 408,221.4 404,223.2 398,223.1 394,221.2 390.9,218 389.1,214 388.9,210 389.4,208 391.9,204ZM671.7,310 674,308.9 678,308.6 682,309.9 684.2,312 685.2,314 685.8,318 684.7,322 682,324.8 679.1,326 676,326.3 672,325 669.1,322 667.8,318 667.9,316 669.6,312ZM405.5,314 412,312.4 418,312.1 426,313 434,314.8 440,316.8 446,319.9 450,322.9 454.4,328 457.7,334 460.7,342 461.7,348 461.5,354 460,360 457.2,366 452.4,372 448,375.5 440,379.8 432,382.3 426,382.8 418,381.8 410,378.9 404,375.1 398.2,370 393.4,364 390.7,358 389.8,352 390.5,342 392.5,332 395.2,324 398,319.2 401.5,316ZM574.3,498 580,497.6 586.8,500 591.5,504 594.3,510 594.5,516 592.1,522 588,526.4 582,529.3 576,529.5 570,527.4 566,523.8 563.2,518 562.8,512 564.6,506 568,501.5 572,498.8Z"/>
<path fill="rgb(255,32,0)" d="M623.7,186 628,185.5 632,185.7 638,187.5 644,192 646.9,196 648,198.4 648.9,202 648.9,206 646.7,212 642,217.2 636,220.4 632,221.3 626,221.6 620,221 616.3,220 611.5,218 606,214.4 603.4,212 600.9,208 600.4,206 600.6,202 602.6,198 606.1,194 610,191.1 614,189ZM394.5,204 398,202.5 402,202.5 407,204 409.7,206 411.8,210 411.8,214 410,218 408,220 404,221.9 400,222.1 396,220.8 392.8,218 390.9,214 390.7,210 392.4,206ZM672.3,310 676,309.1 680,309.3 684,312.4 684.8,314 685.2,318 684.3,322 682,324.4 678,326 676,326 672,324.6 669.4,322 668.4,318 668.6,316 670,312ZM412.7,314 420,313.6 428,314.5 436,316.4 442,318.7 448,322.4 451.8,326 454.7,330 458,336.6 460.3,344 461,350 460.3,356 458.4,362 454.9,368 451.2,372 445.9,376 440,379 434,381 428,381.9 420,381.3 414,379.7 408,376.8 401.7,372 396.1,366 392.6,360 391.1,354 391,346 392.6,336 395.1,328 398,322.5 402,318.3 408,315.2ZM573.2,500 578,499 584,500.1 587.4,502 589.7,504 592.2,508 593.3,514 592,519.4 588.8,524 584,527.2 580,528.3 574,527.7 570.3,526 568,524.1 565.3,520 564,514 565.1,508 568,503.5Z"/>
<path fill="rgb(255,0,0)" d="M618,188 628,186 630,186.1 637.5,188 640.9,190 644,193 646.2,196 648,200.9 648.3,204 648,206.9 646,211.9 642.5,216 639.6,218 634,220.4 628,220.8 620,220.5 614,218.5 610,216.4 604,211.3 602,207.8 601.4,204 601.7,202 603.6,198 607.1,194 609.6,192ZM397.2,204 400,203.4 404.6,204 408,205.8 410,208.3 410.9,212 410.7,214 408.6,218 406,220 402,221.1 398,220.3 394.6,218 393.2,216 392.2,212 393,208 394.3,206ZM673.2,310 680,309.6 684,313.2 684.6,316 684.4,320 684,321.8 682,324.1 676,325 672,324.3 669.8,322 669.2,318 669.6,314ZM410.8,316 416,315 424,315 430,315.9 437.8,318 442.6,320 448,323.5 452,327.5 454.9,332 458.5,340 460,347 460.1,352 458.9,358 456.5,364 454,367.8 450,372.1 444,376.2 440,378.2 432,380.6 424,380.9 417.7,380 410,376.9 404,372.9 398.9,368 394.8,362 393.1,358 391.9,350 393.2,338 394.9,332 397.6,326 400.5,322 404,319.1ZM572.4,502 578,500.5 582,501 587.6,504 590.7,508 591.9,514 591.1,518 588,522.8 584,525.7 580,526.9 574,526.3 570,524 566.9,520 565.5,516 565.9,510 568,505.7Z"/></g>
<path fill="none" stroke="#686868" stroke-width="0.95" stroke-linejoin="round" d="M573.9,541.8 575.6,541.3 577.3,540.7 579,541.1 580.7,541.5 582.3,542.2 583.5,543.5 584.5,545.1 586.3,545.6M573.9,541.8 572,542.5 570.6,543.7 568.9,544.8 568.1,546.6 566.9,548.1 565.5,549.5 564.5,551.1 564.1,553M586.3,545.6 587.2,548.4 586.3,551.2 585,554 586.4,556.8 585.6,559.5 585.5,562.3 584.6,565 584.5,567.8M564.1,553 566.8,554.2 569.7,553.8 570.8,556.5 572.1,559 573.2,561.3 574.3,563.6 573.9,566.2 574.3,568.7M584.5,567.8 581.9,568 579.5,568.9 576.9,568.6 574.3,568.7M562.1,583 560.8,584 559.3,584.7 558.6,586.3 557.2,587.3M562.1,583 564.1,584.5 565.8,586.4 567.6,588.1 569.2,590 571.8,590.4 573.8,592 575.3,594.2 577.8,595.1M897.2,386.9 895.3,385.1 892.7,384.7 892.3,382 890.5,380.1 888.8,378.3 887.2,376.4 884.8,375.8 882.7,374.5M882.8,370.3 883,372.4 882.7,374.5M574.8,519.5 577.3,520.1 579.8,520.8 582.6,521.4 584.2,523.6 586.9,522.4 589.6,523.3 591.4,525.6 594.3,526.1M574.8,519.5 574.9,517.4 575.7,515.4 577,513.8 578,512 578.5,510 579.2,508.1 580.3,506.3 580.7,504.3M580.7,504.3 582.9,504.6 584.4,503.1 586.4,502 588.3,503.2 590,502.5 591.8,501.7 593.7,501.5 595.5,500.8M594.3,526.1 595.8,524.6 596.6,522.6 596.9,520.5 596.6,518.3 598.2,517.1 599.8,515.8 601,514.1 602.9,513.3M602.9,513.3 603.3,511.3 603.1,509.4 601.7,507.9 600.8,506.1 598.7,505.4 598.5,503.1 597.4,501.5 595.5,500.8M567.1,526.2 568.7,524.6 568.9,522.3M568.9,522.3 570.3,521.1 572.1,521.4 573.9,521.1 574.8,519.5M597.3,538.8 595.9,539.7 594.4,540.3 592.8,540.6 591.4,541.5 591.2,543.4 589.5,544.3 588,545.2 586.3,545.6M597.3,538.8 597,537.2 596.1,535.8 595.7,534.1 595.7,532.5 594.9,531 594.8,529.3 594.8,527.6 594.3,526.1M573.9,541.8 573.3,539.1 570.6,538.5 570.2,536.1 570.8,533.8 569.8,531.9 568.2,530.4 567.3,528.4 567.1,526.2M568.6,489.8 570.7,491 572,493.1 573,495.6 575.6,496.3 577.8,497.5 578.7,499.9 579.3,502.3 580.7,504.3M562.9,492.2 564.5,491.8 565.7,490.8 567.1,490.3 568.6,489.8M558.4,510 560.1,511.2 561.3,512.8 563,514 563.9,515.8 564.9,517.6 566.4,519 567.3,520.9 568.9,522.3M562.9,492.2 560.5,493.4 559.9,496 559.2,498.5 559.9,500.9 559.5,503.5 557.3,505.1 557.3,507.7 558.4,510M597.3,538.8 599.5,539.4 601.4,540.6M618.3,514 619.2,515.6M619.2,515.6 619.1,518.3 618.3,521 617.4,523.6 615.4,525.6 616.4,528.2 615.6,531 615.3,533.7 614.3,536.2M618.3,514 616.2,514.3 614.2,513.5 612.3,512.6 610.7,511.2 609,512.5 606.8,512.3 605,513.4 602.9,513.3M614.3,536.2 612.9,537.2 611.2,537.7 609.8,538.8 608.1,539.1 606.5,539.7 604.7,540 602.9,539.6 601.4,540.6M587.5,569.7 586,568.8 584.5,567.8M601.4,540.6 602.1,542.6 602.6,544.7 602,546.9 602.8,549 604,550.8 604.9,552.7 606.4,554.3 607.4,556.2M562.8,579.5 565,579.4 566.5,577.8 568.1,576.5 569.9,575.6 571.2,574 572.6,572.5 574.4,571.1 574.3,568.7M562.1,583 562,581.1 562.8,579.5M639.6,488 640.8,489 642.2,489.7 643.7,489.9 645.3,489.8 646.8,489.9 648.4,489.6 649.7,488.7 651.1,488.3M632,496.3 633.4,493.8 634.9,491.4 637,489.3 639.6,488M650.5,505.9 647.9,506.5 645.4,507.8M650.5,505.9 650.3,503.8 651.1,501.8 652.3,500.2 653.4,498.5 653.5,496.3 652.7,494.4 653.8,492.6 654.4,490.6M645.4,507.8 644.3,505.8 643.4,503.6 642.3,501.5 640.3,500.1 638.9,498.1 636.4,497.6 633.9,498.1 632,496.3M654.4,490.6 652.6,489.7 651.1,488.3M643.9,515.6 644.4,513.5 643.8,511.5 644.1,509.4 645.4,507.8M643.9,515.6 646.3,516.4 648.8,516.5 651.3,516.9 653.3,518.5 655.3,519.8 657.2,521.5 658.3,523.7 660.2,525.3M661.4,508.1 663.4,509.9 664.3,512.5 666.2,514.4 667.1,516.9M661.4,508.1 658.6,508.1 655.8,507.7 654.6,506.9 653.5,505.8 652,505.2 650.5,505.9M643.9,515.6 642,516.2 640.6,517.6 639.4,519.2 638.9,521.1M651,534.3 650.4,532 649.4,529.9 648,528 646.8,526 644.3,525.8 642,524.8 640.7,522.7 638.9,521.1M625.9,496.9 626.1,499.4 625.3,501.8 625.6,504.3 625.2,506.8 623.5,509 623.1,511.7 620.9,513.2 618.3,514M625.9,496.9 627.3,496 628.9,495.7 630.4,496.5 632,496.3M619.2,515.6 621.2,516.4 623.2,516.7 624.4,518.5 626.2,519.6 628.6,519.7 629.6,521.9 631.6,522.3 633.4,523.3M638.9,521.1 636.4,522.6 633.4,523.3M562.9,492.2 562,490.6 560.5,489.6 558.7,489.5 556.9,489.5 554.9,489.5 553.7,488 552,488.2 550.3,488.7M550.3,488.7 548.9,489.8 547.2,490.2 545.6,490.5 544,491.1 542.9,492.5 541.4,493.2 540.2,494.4 539.2,495.8M558.4,510 556.5,510 554.6,509.8 552.4,509.9 551.2,508 549.9,509.5 548.4,510.9 546.3,511 544.3,510.6M544.3,510.6 543.1,508.6 540.9,507.9 541.3,505.7 540.7,503.6 539.8,501.7 539.6,499.7 539.5,497.7 539.2,495.8M877.4,383.4 879,384.4 879.8,386.1 881.1,387.4 882.5,388.5 883.9,390 883.7,391.9 884,393.7 884.7,395.4M882.7,374.5 880.5,376.1 879.4,378.6 877.3,380.6 877.4,383.4M550.3,488.7 549.6,486 549.7,483.3 548.3,480.9 546.4,479 547.3,476.3 546,473.7 546.4,471.1 546,468.5M539.2,495.8 537.5,495.1 535.8,494.6 534.1,494.1 532.4,493.8M532.4,493.8 531.3,491.8 529.8,490.1 529.7,487.8 529.1,485.5 530.3,483.3 529.2,481.1 529.8,478.9 529.4,476.6M529.4,476.6 531.7,476.1 534.2,476.2 536.6,476.1 538.8,474.9 539.6,472.4 541.7,470.9 543.8,469.5 546,468.5M567.9,468.1 570.2,468.1 572.3,469 574,470.7 574.5,473 573.8,475 573.1,476.9 571.7,479 573.2,481.1M568.6,489.8 569.9,487.8 571.1,485.6 572.2,483.4 573.2,481.1M553.7,462.9 555,464.6 557,465.6 557.6,467.7 559.5,469.1 561.5,468.6 563.6,468.1 565.7,467.2 567.9,468.1M553.7,462.9 552.2,463.4 550.9,464.1 549.3,464.1 547.9,464.8M547.9,464.8 547.5,466.9 546,468.5M596.4,467.7 596.7,470.3 594.6,472 592.4,472.7 590.2,473.5 588.6,474.9 587.4,476.7 585.7,478.3 585.5,480.6M596.4,467.7 598.2,467.1 599.4,465.7 601.2,465.4 603,465.7 603.8,467.4 605.6,467.9 606.8,469.2 608,470.4M608,470.4 609.9,472.3 611.6,474.5 612.8,476.9 614.4,479.2M597.3,494.8 595.8,492.7 594.2,490.6 594.5,488 594.3,485.4 591.9,484.6 589.6,483.6 588.1,481.4 585.5,480.6M597.3,494.8 599.1,493 601.5,492.1 603.2,490.2 605.4,488.9 607.8,488 610,486.8 611.5,484.3 614.5,484.5M614.5,484.5 614.1,481.8 614.4,479.2M567.9,468.1 569.9,467.5 572,467.3 573.3,465.5 575.6,465.3 575.7,463 577.6,461.6 577.9,459.5 578.1,457.4M573.2,481.1 574.7,481.8 576.3,482.3 577.7,481.3 579.3,480.8 580.9,480.8 582.4,480.3 584,479.8 585.5,480.6M578.1,457.4 579.2,456.1 580.9,455.8 582.5,456.6 584.1,455.8 585.6,456.4 587.1,456.9 588.7,457.1 590.2,457.1M590.2,457.1 591.4,458.2 592.2,459.5 592.7,461 594,462 594.4,463.5 594.9,465 595.9,466.2 596.4,467.7M605.9,441.9 603.8,442.2 601.7,442.3 599.6,442.2 597.6,441.3M590.2,457.1 590.5,454.8 591.1,452.5 591.1,450.1 590.9,447.8 590.7,444.9 592.6,442.8 595.1,441.9 597.6,441.3M614.9,455.1 613.8,453.2 612.3,451.7 610.5,450.4 608.5,449.8 607.5,447.9 607.3,445.8 607.9,443.4 605.9,441.9M614.9,455.1 613.7,456.9 612.8,458.8 610.7,459.9 610.4,462.3 609.8,464.3 608.6,466.2 608.6,468.3 608,470.4M626.5,454.2 627.6,455.4 628.7,456.5 629.4,458 630.1,459.5 629.9,461.2 630.4,462.8 632,463.7 632.6,465.4M631.4,469.5 631.9,467.4 632.6,465.4M631.4,469.5 629.4,471.5 626.6,471.4 624.1,471.4 621.6,472.1 619.5,473.6 617,474.6 615,476.5 614.4,479.2M614.9,455.1 616.1,456.1 617.8,456.1 619.5,456.2 620.7,455 623.5,454.2 626.5,454.2M595.5,500.8 596.2,499.3 595.7,497.6 596.9,496.4 597.3,494.8M625.9,496.9 624.1,495.5 623.5,493.3 621.7,492.2 619.8,491 618.7,489.2 617.8,487.2 616.1,485.9 614.5,484.5M639.3,478.4 638.9,480.9 639.9,483.2 639.6,485.6 639.6,488M631.4,469.5 631.3,471.2 632.3,472.5 633.5,473.5 634.6,474.7 635.5,475.9 636.5,477.1 638.1,477.4 639.3,478.4M633.4,523.3 632.6,525.3 632.5,527.5 632.7,529.7 633.5,531.7 631.1,533 629.7,535.5 630.7,538.1 632.5,540.1M614.3,536.2 616,537 617.6,538.1 619.5,538.6 621.4,538.8 622,540.8 623.6,542.3 625.6,542.5 627.7,542.8M661.2,490.3 659.5,490 657.8,490.2 656.1,490.4 654.4,490.6M661.4,508.1 663,507 663.6,505.2 665.3,504.2 665.5,502.2 667.2,500.7 669.1,499.5 668.5,497.3 667.5,495.3M661.2,490.3 662.3,491.9 663.4,493.5 665.2,494.5 667.2,494.4M667.2,494.4 667.5,495.3M692.2,506 690.7,505.1 689.5,503.8 687.9,503.2 686.8,501.7 685.6,500.5 684.4,499.3 682.9,498.2 681.2,497.7M675.8,499.6 678.8,499.4 681.2,497.7M675.8,499.6 676.3,501.4 676.7,503.2 676.4,505 676.8,506.8 677.2,508.7 676.9,510.5 675.9,512.3 676.6,514.2M675.8,499.6 674.1,497.5 672.8,495.3 670.1,495.2 667.5,495.3M409.8,238.5 410.7,236.2 413,235.7 414.2,233.9 415.6,232.3 414.8,230.2 413.4,228.4 414.1,226.3 413.6,224.1M409.8,238.5 411.2,239.7 411.5,241.5 412,243.1 412.6,244.7M412.6,244.7 414.3,245.1 415.9,246 417,247.7 419,247.6M419,247.6 420.1,246.2 421.5,245.3 423.2,244.9 424.3,243.5 424.8,241.7 426.3,240.5 428.1,240.4 429.9,239.9M429.9,239.9 430.1,238.4 430.9,237 430.2,235.6 430,234.1 431.2,233.1 431.9,231.7 432,230.2 432.4,228.8M432.4,228.8 430,228.1 428.1,226.4 425.5,226.9 423.3,225.5 421,224.6 418.5,224.2 416.1,224.2 413.6,224.1M562.8,579.5 559.7,578.8 558.9,575.8 556,576.2 553.5,574.8 552.1,572.6 550.2,570.6 549.9,568 548.8,565.5M538.5,584.3 539.6,582.9 540.6,581.5 541,579.7 542,578.2 541.1,576.7 540.2,575.2 539,574 537.9,572.6M548.8,565.5 548.2,567.2 546.9,568.4 545.9,569.9 544.4,570.7 542.8,571.4 541.2,571.7 539.6,572.5 537.9,572.6M174,349.2 174.5,351.8 175,354.4 175.5,357 175.7,359.7M164.3,356.9 163.7,358.4 163.4,360.1 163.7,361.7 164.5,363.2 165.2,364.8 165.2,366.5 166.2,367.8 167.4,368.9M175.7,359.7 174.8,361.3 174.8,363.1 174.6,364.9 174.2,366.7 172.4,366.7 170.8,367.6 169.1,368.2 167.4,368.9M198.6,356.9 196.7,358.3 195.5,360.3M198.6,356.9 200.4,358.7 201.6,361 204,361.9 206,363.6M205.9,377.8 207.1,376.3 207.4,374.4 207,372.5 207.7,370.7 206.2,369.4 205.5,367.5 206.5,365.6 206,363.6M192.4,373.6 192.4,371.8 193,370.2 192.9,368.4 193.4,366.8 193.9,364.9 195.7,363.9 195.8,362.1 195.5,360.3M471.7,491.2 469.7,491.5 468.2,490.1 466.5,489.4 464.8,488.9M464.8,488.9 463.1,486.7 462,484.2 462,481.4 461.5,478.7 461,476 461.9,473.4 461.8,470.7 461.6,468M489.7,478.3 489.6,478.5M489.7,478.3 490.2,475.6 490.8,472.8 490.4,470.1 490.3,467.3 487.3,467.2 484.3,466.9 482.8,464.2 480.8,462M489.6,478.5 487.6,480.7 486,483.1 484.8,485.9 482.9,488.1 480.9,490.7 477.8,491.5 474.7,491.3 471.7,491.2M461.6,468 463,465.6 465.5,464.5 468,463.5 470.5,462.7 472.9,464.1 475.7,463.9 478.4,463.5 480.8,462M433.6,227.8 432.4,228.8M433.6,227.8 435.6,227.8 437.5,228.7 439.4,228.2 441.4,228.5M453.9,245 452,243.2 450.5,241 448.9,239 446.8,237.4 446.2,234.7 444,233 443.1,230.5 441.4,228.5M453.9,245 452.8,247M429.9,239.9 431,241.4 432.1,243 433.8,243.9 435.1,245.4 436.5,246.7 437.5,248.4 438.6,250 440.5,250.7M452.8,247 451.4,248 450.3,249.3 448.6,249.3 446.9,249.8 445.1,250.3 443.9,251.8 442.5,250.4 440.5,250.7M421.9,262.7 421.2,260.8 420.6,258.8 420.9,256.9 421.5,254.9 422.3,252.9 421.5,250.8 420.5,249 419,247.6M423.1,263.4 421.9,262.7M423.1,263.4 425.3,263.1 427.5,262.9 429.5,263.9 431.6,264.7 431.9,262 434.5,261.4 435.8,259.6 437.8,258.6M437.8,258.6 438.8,256.7 439.9,254.9 439.4,252.7 440.5,250.7M660,317.3 661.1,315.8 661.3,314 662.8,313.2 664.1,312.2 665.6,311.4 667.3,311.4 668.9,311.1 670.4,310.3M660,317.3 660.5,319.2 661.4,321 661.1,322.9 660.5,324.8 661.5,326.4 662.6,327.9 663.2,329.7 664.2,331.4M670.4,310.3 672.3,312.2 674.9,311.6 675.9,313.7 677.5,315.4 677.8,317.6 678.2,319.8 679.5,321.6 679.8,323.8M679.8,323.8 677.7,324 675.6,324.8 673.4,325.4 672.3,327.5 670.2,327.9 668.2,328.9 667,330.7 665.1,331.8M664.2,331.4 665.1,331.8M601.9,409.4 600.5,411.2 598.3,411.9 596,411.3 594,412.6 591.8,413.3 589.7,412.2 587.6,412.2 585.4,412.1M585.4,412.1 584.2,409.7 583.3,407.2 583.1,404.5 582.1,402M602.9,400.9 601.7,402.9 600.4,404.9 602.4,406.7 601.9,409.4M602.9,400.9 601.1,400.9 600,399.4 598.6,398.5 597,397.8 595.5,397.1 594.1,396.2 592.8,395.2 591.4,394.3M591.4,394.3 589.7,394.4 588.1,395.1 586.5,395.8 584.8,395.9 584.4,397.6 584.5,399.4 582.6,400.2 582.1,402M585.1,383 586.8,382.6 588.3,381.5 589.4,382.9 590.7,384.1M590.7,384.1 592.7,382.1 595.1,380.5M585.1,363.3 587,365.3 588.9,367.4 591.6,367.8 594.3,368.6M577.8,372.7 579.5,370.2 581.3,367.9 582.8,367.3 584,366.3 584.5,364.8 585.1,363.3M577.8,372.7 578.5,374.2 579.8,375.2 580.6,376.6 581,378.2 581.7,379.6 582.9,380.7 583.9,382 585.1,383M595.1,380.5 595.9,379.1 596.5,377.6 596.1,376 596.7,374.4 595.8,373.1 595.6,371.5 594,370.5 594.3,368.6M648.7,239.6 646.7,240.5 644.9,241.6 643,240.8 640.8,240.6 638.9,241.4 636.9,240.7 634.9,240.4 633,240.1M629.8,245.6 630.3,244 631.5,242.9 631.7,241.2 633,240.1M629.8,245.6 631.1,246.9 632.2,248.4 633.5,249.8 634,251.6 635.2,253 635.8,254.9 636.4,256.7 637.7,258M651.1,251.6 649.3,252.1 647.8,253.2 646.2,254.3 644.5,255 642.6,255.2 641.1,256.6 639.2,256.7 637.7,258M621.9,247.2 620.9,249 620.1,250.8 620.7,252.8 620.6,254.9 619.5,256.8 620,258.8 620.5,260.8 619.6,262.7M621.9,247.2 624,247.3 625.9,246.7 628,246.6 629.8,245.6M619.6,262.7 621.3,263.6 622.9,264.6 624.8,265.1 626.2,266.6 628.1,266.8 630,266.5 632.1,266.6 633.6,265.1M633.6,265.1 635,264.6M635,264.6 635.7,262.9 635.9,261.1 637.1,259.7 637.7,258M637.9,203.4 636.4,204.2 634.7,204.2 633.6,205.6 631.8,205.6 630.3,206.7 630.3,208.5 629.4,209.9 628.4,211.1M637.9,203.4 639.7,204.6 640.9,206.3 642.9,206.8 644.9,207.5 647,208 648.4,209.5 649.5,211.4 651.5,212.2M628.4,211.1 630.2,212.4 630.1,214.7 631.5,216.1 632.6,217.7 634.6,218.1 636.1,219.4 637.4,221.1 639.3,221.8M639.3,221.8 641,222.6 642.6,223.4 644.4,223 645.8,221.7M627,188.8 628.5,188.7 630,188.6 631.4,189.3 632.9,188.9 634.3,189.6 635.4,190.5 636.6,191.6 638.2,191.8M638.2,191.8 638.4,193.4 638.2,194.9 637.1,196 636.7,197.6 637.5,200.5 637.9,203.4M622.3,207.4 623.6,209.4 625.6,210.8M625.6,210.8 628.4,211.1M627,188.8 627.1,191.5 625.6,193.9 626.6,196.3 627.4,198.8 627.6,201.5 625.8,203.6 623.3,204.8 622.3,207.4M638.2,191.8 640.4,190.6 642.8,189.8M629.8,230.9 631.3,229.8 631.6,228 632.9,226.5 634.8,226.6 635.9,225.4 636.7,223.9 638.1,222.9 639.3,221.8M633,240.1 631.8,237.9 631.1,235.6 630.7,233.2 629.8,230.9M629.8,230.9 627.8,229.5 625.4,229.7 623.1,229.2 621,228.2M625.6,210.8 624.5,212.3 623.7,214 622.1,215.1 620.9,216.5 619.4,218.3 617.5,219.6 618.6,221.6 619.5,223.7M621,228.2 621.2,225.7 619.5,223.7M670.6,309.4 670.4,310.3M670.6,309.4 672.3,308.4 673.6,306.8 675,305.3 676.6,304.1 678.7,303.8 680.8,303.6 681.6,301.4 683.9,300.7M683.9,300.7 686.1,302 688.5,303.1 690.3,304.9 692.2,306.7M679.8,323.8 682.7,324.5M682.7,324.5 684.7,323.6 686.9,323.6 688.8,322.6 690.6,321.4M501.8,497.4 498.2,498.5 494.9,496.8 494.6,493 491.6,490.6 488.9,488.3 489.3,484.8 488.7,481.6 489.6,478.5M511.9,493.9 509.4,494.7 506.7,495.2 504.5,496.9 501.8,497.4M511.9,493.9 511.6,491.7 510.1,490.1 510.6,488.1 510.9,486 511.8,484.2 512,482.2 512.7,480.4 513.6,478.6M489.7,478.3 491,477.1 492.3,475.8 494.2,475.4 495.8,474.6 497.4,473.7 499,472.8 501,473.4 502.6,472.2M502.6,472.2 503.3,473.7 504.7,474.7 506,475.7 507.5,476.5 509,477.2 510.4,478.1 512,478.5 513.6,478.6M522.8,498.8 521.4,497.9 519.7,498.1 518.2,497.7 516.6,498 515.1,497.3 514.2,496 513.2,494.8 511.9,493.9M522.8,498.8 524.3,497.9 526,498.1 527.9,497.5 529,499.2 530.6,498.4 531.8,497.2 532.3,495.6 532.4,493.8M529.4,476.6 528,475.8 526.5,475.2 525,474.8 523.5,474M513.6,478.6 516.1,476.9 519,477.3 520.8,475 523.5,474M290.8,204.1 290.7,202.6 290.3,201.1 291.3,200 291.8,198.5M288.3,188.7 288.6,190.2 289.2,191.6 290.6,192.1 291.9,193 291.1,195.7 291.8,198.5M290.8,204.1 288.6,204.1 286.5,204.9 285.5,206.9 284.3,208.7M284.3,208.7 282.2,208.1 282.2,205.9 282.1,204.2 282.4,202.4 282.4,200.7 281.7,199.2 281.2,197.6 280.3,196.2M315.5,178.7 315.1,177.1 314.5,175.6 313.8,174 314,172.3M301.4,182.5 301.9,185.1M315.5,178.7 315.4,180.4 315,182 315.3,183.7 315.5,185.4 314.7,187.1 313.9,188.8 312.1,190 310.1,189.3M310.1,189.3 307.6,188.1 305,189.1 302.8,187.6 301.9,185.1M291.8,198.5 293.5,196.8 295.8,196.1 298.2,195.6 300.2,194.3M301.9,185.1 300.6,187.2 300.3,189.6 301.3,192 300.2,194.3M410.4,199.4 408.8,201.3 406.8,202.7 404.9,204.3 403.4,206.2M410.4,199.4 411.6,200.4 412.8,201.4 413.6,202.7 414.5,203.9 416.1,204.2 417.4,205.1 419,204.9 420.4,205.9M420.4,205.9 419,208.4 416.9,210.2 414.2,210.4 411.7,211.7 410.3,214.2 411.2,216.9 412.7,219.3 412.4,222.1M412.4,222.1 411.2,221 409.5,220.6 408,220.1 406.4,219.8M406.4,219.8 405.3,218.1 404.1,216.5 402.7,214.9 401,213.9 402.9,212.6 403.9,210.6 402.4,208.5 403.4,206.2M596.9,151.9 596.2,153.4 595.6,155 595.3,156.6 595.2,158.3 594.4,159.7 593.6,161.2 593.5,162.9 592.2,164.2M577.8,153.4 577.9,155 578.8,156.3 579.5,157.7 580,159.1 580.8,160.4 581.6,161.8 583,162.5 583.7,164M583.7,164 585.9,163.4 588,164.3 590.1,165 592.2,164.2M450.9,161.9 452.4,159.5 453.3,156.9 456.1,156.5 458.8,156 461.3,156 463.8,156.4 466.3,156.2 468.6,155.1M450.9,161.9 450.9,164.3 450.8,166.6 450.9,169.1 452.8,170.8M475.2,164.4 473.6,166.8 473,169.5M473,169.5 471.2,170.2 470.3,171.9 469,173.3 467,173.3 465,173.5 463.7,175.1 462,174.1 460,174.3M452.8,170.8 455,170.8 457,171.3 458.5,172.8 460,174.3M475.1,179 473.1,181.1 471.2,183.3 469.1,185.3 467.6,187.7M467.6,187.7 465.2,187.4 463.2,188.8 460.7,188.9 459.2,186.8M473,169.5 474.8,171.5 475.5,174 475.4,176.5 475.1,179M460,174.3 461.2,175.6 461.6,177.3 461.7,179 461.9,180.7 461.7,182.4 460.5,183.8 459.9,185.3 459.2,186.8M427.7,159.2 430.3,160.5 432.7,162.1 435.3,163.3 437.9,164.6M427.7,159.2 428.8,158 429.4,156.4 430,155 431,153.7 430.6,152.1 430.5,150.5 430.3,148.8 430.4,147.2M444.3,146.7 445.1,148.4 445.1,150.2 444.7,151.9 444,153.6 445.6,154.6 447,155.9 446.7,157.8 447.3,159.6M437.9,164.6 440.3,163.4 442.4,161.8 444.6,160 447.3,159.6M450.9,161.9 449.2,160.6 447.3,159.6M419.6,164.9 421.7,163.5 423.3,161.5 425.8,161 427.7,159.2M419.6,164.9 417.8,163.4 415.6,162.5M415.6,162.5 415.4,160.5 415,158.6 414.7,156.7 414.8,154.7 413.1,153.5 412.5,151.5 412.2,149.6 410.9,148M403.2,179.7 403.2,181.5 402.5,183.1 401.9,185.2 399.7,185.1M409.9,196.2 410.2,193.8 410,191.3 410.3,188.8 409.3,186.5 406.9,185.9 404.5,185.6 402.1,185.4 399.7,185.1M409.9,196.2 411.5,195.5 412.7,194.3 414,193.1 415.8,192.8 416.6,191.3 417.2,189.6 418.7,188.5 418.7,186.6M403.2,179.7 406,180.7 408.8,181.4 410.1,180.4 411.7,180.6 413.2,180.1 414.1,178.8M414.1,178.8 415.1,180.9 416.5,182.7 417.2,184.9 418.7,186.6M403.2,179.7 402.8,178.1 402.5,176.6 402.5,174.9 402.7,173.3 402.8,171.7 403.4,170.1 403.3,168.4 402.4,167M415.6,162.5 414.4,163.9 412.5,164.2 410.9,165.2 409.5,166.3 407.6,166.3 406,167.5 404.2,167.2 402.4,167M419.6,164.9 420.2,166.5 420.1,168.1M414.1,178.8 414.5,177.3 414.9,175.8 416.4,175 417,173.4 417.4,171.9 418.3,170.7 419.1,169.3 420.1,168.1M537.9,572.6 536.3,571.3 534.5,570.3 532.9,569 530.9,568.6 529,567.7 527.1,567.1 525.9,565.2 523.9,564.5M564.1,553 561.1,552.4 558.4,553.5 555.5,553.2 552.9,552M548.8,565.5 547.7,564.3 546.5,563.2 546.8,561.6 547.8,560.2 547.6,557.3 549.4,555M552.9,552 552.2,554.7 549.4,555M567.1,526.2 564.8,525.7 562.5,526.3 560.5,527.8 558,527.2 555.9,528.2 553.8,529.3 551.7,530.7 551.1,533.2M552.9,552 551.8,549.7 552.7,547.2 553.2,544.9 553.5,542.5 553.4,540 552.1,537.9 552,535.5 551.1,533.2M206,363.6 207.5,363 209.1,362.9 210.6,362.5 211.8,361.3 211.8,359.7 211.7,358.1 212.9,357 213.7,355.4M217.9,370.8 216.3,372.6 215.7,375 215.4,377.4 215.8,379.8M217.9,370.8 218,369.2 217.8,367.6 218.2,366 218.1,364.3 217.2,362.8 217.5,361.1 217.5,359.4 216.4,358.1M213.7,355.4 215.5,356.2 216.4,358.1M154.7,363.1 154.6,364.9 153.8,366.4 152.6,368 153.5,369.9 154.7,371.1 155.9,372.3 156.8,373.8 157.6,375.3M175.7,359.7 177.3,361.4 179,363M186.2,346.5 186.4,349.3M186.4,349.3 186.7,351 186,352.6 186,354.3 185.7,355.9 184.2,356.9 183.2,358.3 183.1,360.1 182.3,361.6M179,363 180.7,362.6 182.3,361.6M186.4,349.3 186.6,351.2 187.6,352.8 189,354 189.8,355.7 191.2,357.2 191.7,359.1 193.6,359.6 195.5,360.3M182.3,361.6 182.7,363.6 184.5,364.5 184.9,366.4 186.3,367.6 188.3,368.2 189.3,370.1 190.1,371.8 190,373.8M572.7,232.7 571.2,233.4 570.3,234.8 569.5,236.2 568.9,237.7 567.3,237.6 565.8,237.9 564.3,237 562.7,237.3M582.4,238.4 581.5,236.9 580,236.3 579,234.9 578.9,233.2 577.3,233.5 575.8,232.6 574.2,232.1 572.7,232.7M562.7,237.3 562.2,239.7 561.1,241.9 561.9,244.4 561.1,246.8M582.4,238.4 583.2,240 582.7,241.6 582.4,243.2 582.7,244.8M582.7,244.8 580.4,245.7 579.6,247.9 578,249.4 577.1,251.4 574.8,251.5 572.9,252.7 570.7,253.1 568.7,253.8M568.7,253.8 566,253 564.7,250.6 562.7,248.8 561.1,246.8M468.1,519.9 468.7,517.5 469.5,515.2 470.8,513.1 472.3,511.1 474.5,509.7 476.2,507.8 475.9,505.1 477.6,502.9M468.1,519.9 468.4,522 469.8,523.5 471.7,524.1 473.7,524.1 475.5,524.8 476.3,526.5 477,528.1 478,529.5M487.4,529.3 485.5,531.2 482.8,531.4 480.6,530 478,529.5M487.4,529.3 488.4,526.9 490.7,525.6 492,523.4 493.6,521.6 495,519.4 496.6,517.4 497.3,514.9 497.3,512.3M477.6,502.9 480.1,503 482.5,503.2 485,503.8 486.9,505.3 489.4,505.3 491.9,505.6 493.9,507.1 496.1,508.4M497.3,512.3 496.7,510.3 496.1,508.4M501.8,497.4 501.4,499.1 500.2,500.3 498.9,501.4 497.5,502.1 497.7,503.9 496.6,505.2 496.8,506.9 496.1,508.4M471.7,491.2 470.8,492.9 471.3,494.8 472.7,496 473.8,497.5 474.9,498.7 475.7,500.2 476.3,501.8 477.6,502.9M461.6,468 460.3,465.8 457.8,465.1M453.1,494.3 454.8,493.7 456.5,493.2 457.8,491.8 458.2,490 459.7,489.2 461.4,489.2 463.1,489.4 464.8,488.9M441.2,467.3 443.2,466.4 445,465.1 447.4,465.1 449.1,463.5 451.3,463.8 453.5,464.1 455.6,464.9 457.8,465.1M539.3,332.5 539.4,330.5 538.1,329.1 537,327.6 536.2,325.9 535.7,324.2 535.5,322.4 535.6,320.5 535.2,318.7M539.3,332.5 537.6,332.7 536,333 534.2,333 532.7,334.1 531.2,334.9 529.7,335.8 528,336.2 526.3,336.3M535.2,318.7 532.4,318.8 530.2,316.9 527.8,317.9 525.5,319.1 522.9,319.8 520.6,320.9 518.9,323 518.2,325.6M518.2,325.6 518.1,326.2M526.3,336.3 524.6,335.6 523,334.8 521.5,333.9 519.7,333.3 519.9,331.3 518.5,329.9 518.2,328.1 518.1,326.2M518.2,325.6 516.7,324.8 515.9,323.4 515,322 515.3,320.3M536.1,317 535.8,315.5 535.2,314.1 534.5,312.7 534.6,311.1M534.6,311.1 533.7,309.2 531.7,308.4 531.1,306.6 530.8,304.7 529,305.8 527,305.6 524.9,305.5 523.4,304.2M535.2,318.7 536.1,317M515.3,320.3 517,318.7 518.4,316.8 521,315.9 521.4,313.2 522.8,311 521.8,308.6 522.4,306.3 523.4,304.2M425.9,384.6 425.5,385.1M425.9,384.6 425.8,381.8 425.1,379.2 426.4,376.6 425.6,373.8M425.5,385.1 424.8,387.5 423.4,389.6 421.1,390.7 418.7,391.3 416.7,390 414.3,389.7 412.1,388.7 409.7,389.4M425.6,373.8 423.2,372.4 421.1,370.4 419.6,368.1 417.9,365.8M409.7,389.4 408.6,386.7 406.6,384.4M406.6,384.4 407.9,382.5 409.3,380.6 409.2,378.2 409.5,375.9 409.6,373.6 409.4,371.4 409.9,369.1 409.5,366.9M409.5,366.9 411.4,365.6 413.5,364.9 415.6,365.9 417.9,365.8M406.2,402.7 407.6,401.3 408.9,399.8 407.9,398 407.6,396 408.8,394.4 408.2,392.6 409,391 409.7,389.4M421.7,412.8 421.2,410.9 421.1,409 422,407.3 423.5,406.1 425.1,405.2 426.1,403.8 427.6,402.8 428.9,401.7M428.9,401.7 429.7,399.6 429.3,397.4 429.7,395.1 428.5,393.1 427.9,391.1 427,389.1 424.8,387.6 425.5,385.1M388.8,383 392.3,384.2 391.4,387.8 391.1,390.4 390.1,393 390.8,395.6 389.5,398.1 390.4,400.5 391.5,402.9M390.7,379.2 391.5,381.6 393.3,383.2 395.4,384.4 397.5,385.5 399.7,384.4 402.1,384.9 404.3,384.2 406.6,384.4M390.7,379.2 389.9,381.2 388.8,383M388.8,383 386.3,382.6 385.1,384.8 383,385.1 381,385.8 379.4,387.4 377.2,387.4 375.1,387.1 372.9,387.3M373.8,402.5 374,400.5 373,398.7 374.4,397 373.9,394.9 375,393 374.7,390.9 373.1,389.4 372.9,387.3M423.1,352.9 425,353 426.8,353.2 428.7,353.5 430.6,353 431.9,354.3 433.7,355 435.5,355.7 437.2,356.5M423.1,352.9 422.6,354.6 422.2,356.3 421.4,357.9 421.3,359.7 421.2,361.6 421,363.5 419.1,364.3 417.9,365.8M425.6,373.8 427.3,372.2 429.4,371.4 431.7,370.9 433.3,369.2 435.1,367.8 437.4,367.4 439.2,366.1 440.8,364.4M440.8,364.4 438.9,363 438,360.9 437.9,358.7 437.2,356.5M482.2,457.6 480.8,459.6 480.8,462M482.2,457.6 482,454.9 479.9,453.2 478.3,451.3 476,450.3 473.6,449.5 471.9,447.7 470.1,446.1 468.9,444M457.8,465.1 457.5,462.9 457,460.8 457.1,458.6 456.8,456.4 456.2,454.2 456.6,451.9 457.6,449.9 458.6,447.9M468.9,444 466.1,444.5 463.9,446.3 461.2,446.9 458.6,447.9M435.9,449.4 438.1,449.3 440.2,449.5 442,448.2 444.2,447.9 444.8,445.7 446.8,444.6 448.1,442.9 450.1,441.9M458.6,447.9 456.2,446.1 455.5,443.3 453.9,443.2 452.4,443.9 451.4,442.8 450.1,441.9M421.9,262.7 419.2,264 416.8,265.7 415.3,265.8 413.9,266.5 412.4,266.7 410.9,266.6M412.6,244.7 411.1,245.9 409.7,247 407.9,247.7 406.1,248.2 406.9,250.5 404.7,251.7 403.5,253.1 401.8,254.1M410.9,266.6 408.8,266.5 408.4,264.5 406.5,263.9 406.4,262 404.7,261.5 403.1,260.7 402,259.3 401.9,257.4M401.8,254.1 402.5,255.7 401.9,257.4M370,382.5 371.8,384.7 372.9,387.3M370,382.5 371.7,380.2 371.8,377.3 370.7,374.7 370.6,371.9M390.5,376.7 388.4,375.7 386.2,374.7 384.1,373.4 381.9,372.4 382.1,369.7 381.4,367.1 378.5,366.7 376.7,364.4M390.7,379.2 390.5,376.7M370.6,371.9 372.4,370 374.9,369.1 375.5,366.6 376.7,364.4M460.3,235.1 459,236 458,237.1 458.2,238.6 458.3,240.1 456.8,242.3 455.1,244.4M460.3,235.1 461.9,234.8 463,233.7 464.2,232.4 465.8,232.4 467.4,233 468.9,232.3 470.4,232.8 472,233M455.1,244.4 457,246.3 459.4,247.5 461.9,248.5 464,250.2 466.7,249.9 469.5,250.1 472.5,250.9 474.6,248.5M472,233 472.9,234.3 474,235.3 474.6,236.8 475.7,237.9 477,239.2 478.6,240.1 478.6,242 477.8,243.6M474.6,248.5 476.6,246.3 477.8,243.6M455,221.2 452.9,222.2 450.6,222.5 448.6,221.2 446.2,221.1 443.6,221.6 442.6,224 441.2,226 441.4,228.5M453.9,245 455.1,244.4M455,221.2 456.8,222.6 458,224.5 457.5,226.6 456.5,228.6 458.2,229.7 459.5,231.2 459.9,233.2 460.3,235.1M455.7,220 457.2,219.3 458.7,218.7 460.2,218 461.6,217.2M455.7,220 455,221.2M473.4,227.2 471.6,225.8 470.5,223.9 468.4,222.7 466.2,223.7 465.1,222.1 463.9,220.4 462.3,219.1 461.6,217.2M473.4,227.2 472.6,228.6 471.5,229.8 471.6,231.4 472,233M452.8,247 453.3,249.7 455.8,250.8 456.1,253.4 458.2,255 458.3,257.4 459.1,259.8 458.8,262.2 458.8,264.6M470.3,261.5 468.7,261.3 467.2,260.6 465.6,260.9 464.2,261.7 462.9,262.7 461.2,262.7 460,263.8 458.8,264.6M474.7,256 473,256.9 472.4,258.7 471.7,260.3 470.3,261.5M474.7,256 474.7,253.9 476.1,252.3 475,250.6 474.6,248.5M370,382.5 367.3,383.4 364.7,384.5 363.1,385 361.6,384.2 360.2,385 359.2,386.2M359.2,386.2 361.2,387.9 362.8,390.1 363.8,392.8 362.9,395.5 361.4,397.5 359.8,399.5 358.6,401.8 358.2,404.3M519.9,373.6 521.5,374.6 523.1,375.5 523.7,377.4 525.4,378.4 525.5,380.3 525.4,382.1 526.1,383.8 526.8,385.6M538,386.8 536.8,385.7 535.1,385.6 533.8,386.4 532.3,386.9 529.6,386 526.8,385.6M538,386.8 538.1,384.6 538.7,382.6 539.8,380.8 540.8,378.9 541,376.5 542.5,374.6 541.6,372.4 539.9,370.7M526.3,365.4 527.8,364.7 529.5,364.8 531.1,365.1 532.6,366 534.1,366.4 535.5,367.1 537.1,367.5 538.6,368M526.3,365.4 526,368.2 524.6,370.6 522.7,372.8 519.9,373.6M539.9,370.7 539.3,369.3 538.6,368M629.8,339.9 631.3,337.7 633.7,336.4M621.6,340.2 623.5,339.2 625.6,338.5 627.6,339.4 629.8,339.9M618.6,320 620.4,322.3 623.3,323 626.1,322.7 628.7,324M618.6,320 617.5,321.4 616.5,322.7M616.5,322.7 617.1,324.3 617.8,325.8 618.3,327.3 618.6,329 617.4,330.2 616.5,331.7 616.1,333.3 616,335M621.6,340.2 619.9,338.9 619.5,336.8 617.7,336 616,335M628.7,324 629.7,325.4 629.9,327.2 630.2,328.8 630.4,330.5 631.4,331.9 632.5,333.2 633,334.8 633.7,336.4M632.1,354 633.5,354.8 635.1,355.2 636.7,355.9 637.2,357.5M632.1,354 631.9,352.1 630.8,350.5 629.4,349.1 628.8,347.3 628.1,345.5 628.2,343.5 629,341.7 629.8,339.9M648.6,345.4 648.5,345.3M648.6,345.4 647.5,347.2 646.4,348.9 645,350.5 643,351.2 641.6,352.6 640.1,354 638.8,355.5 637.9,357.4M648.5,345.3 646.3,344.5 644.1,344.2 641.8,343.5 639.5,343.7 639.7,341 637.3,339.6 636.1,337.6 634,336.4M637.9,357.4 637.2,357.5M633.7,336.4 634,336.4M653.4,333.6 653,335.2 652.7,336.9 652.2,338.5 652.7,340.2 651.4,341.2 650.4,342.5 649.6,344 648.5,345.3M653.4,333.6 651.7,331.7 649.6,330.2 648.6,327.6 646.3,326.2M634,336.4 634.4,334.2 634.9,331.9 637,331 638.9,329.9 640.1,328 642.1,327 644,325.9 646.3,326.2M615.2,279.9 616.6,280.8 618.1,281 619.6,281.4 621.2,281.2 622.8,281.1 624.2,281.9 625.7,281.4 627.3,281.7M615.2,279.9 616.7,282 618.4,283.8 618.2,286.5 619.9,288.7 620,291.4 618.2,293.4 616.8,295.4 615,297.2M615,297.2 617.7,297.3 620.5,296.9 622.6,298.8 625.3,299.7M627.3,281.7 628.7,283.3M628.7,283.3 629.3,285 628.3,286.4 628,288 628.1,289.6 628.4,291.1 628.1,292.7 628.8,294.2 628.9,295.8M628.9,295.8 627.1,297.7 625.3,299.7M612.6,266.1 613.6,267.6 613.7,269.3 614.3,271 615.3,272.4 615.6,274.1 615.3,275.8 615.1,277.6 614.3,279.1M614.3,279.1 615.2,279.9M633.6,265.1 634.1,267.5 634.3,270 634.1,272.4 634.2,274.9 632.6,276.8 630.2,277.7 629.6,280.3 627.3,281.7M612.6,266.1 614.2,264.4 616.4,265.1 618.3,264.2 619.6,262.7M618.5,319.3 620.2,318 622.3,317.5 623.6,315.9 625.3,314.6 624.3,312.5 624.8,310.3 626.5,308.8 626.9,306.5M618.5,319.3 617,317.7 616.9,315.4 616.4,313.3 615,311.7 613.5,310 611.9,308.5 609.7,308.4 607.5,307.7M607.2,301.2 609.2,300.2 611,299.1 612.9,297.9 615,297.2M607.2,301.2 606.8,302.9 607.4,304.5 607.3,306.1 607.5,307.7M626.9,306.5 627.9,304.7 627.6,302.7 626.2,301.4 625.3,299.7M575.8,421.5 577.3,419.8 579.6,419.6 581.1,418.1 583.1,417.4M575.8,421.5 576.3,423.3 576.7,425.1 577.1,427.1 576.1,428.8 575.8,430.7 576.2,432.5 576.8,434.3 576.8,436.1M583.1,417.4 584.8,418.7 586.7,419.6 588.3,421.1 589.1,423.2 590.8,424.7 593.1,424.9 594.4,426.5 595.7,428.2M576.8,436.1 579.1,433.9 582.2,434.8 585.1,435.6 586.6,438.3 589.1,438 591.6,438.5 594,439.3 596.5,439.9M596.5,439.9 596.5,438.2 597.7,437 596.6,435.7 596.6,434 595.8,431.2 595.7,428.2M601.9,409.4 603.5,411 603,413.3 604.6,414.6 606.3,415.8M606.3,415.8 605.9,417.9 604.4,419.5 603,421.1 602.2,423 600.3,424 598.7,425.3 596.6,426.1 595.7,428.2M585.4,412.1 584.3,414.7 583.1,417.4M570.9,441.6 571.5,443.8 573.2,445.4 574.9,446.9 575.8,448.9 575.5,451.2 576.3,453.3 577.7,455.1 578.1,457.4M570.9,441.6 572,439.1 571.4,436.4 574.1,437 576.8,436.1M597.6,441.3 596.5,439.9M621.6,340.2 619.7,342.3 619.5,345.2 619,348 616.9,349.9M632.1,354 630.7,354.6 629.1,355.1 627.4,355.1 626.2,356.4 624.7,356 623,356 621.3,355.3 619.9,356.5M616.9,349.9 616.5,351.9 617.6,353.5 618.7,355 619.9,356.5M582.6,355.4 584,353.1 586.2,351.6 588.8,350.7 591.4,351 593.9,350.2 596.2,349.2 598.7,348 601.2,349.2M585.1,363.3 584.9,360.9 582.9,359.7 583.2,357.5 582.6,355.4M594.3,368.6 595.9,368.1 597.4,368.6 598.8,367.9 600.1,367.1 601.6,366 601.5,364.2 602.5,362.7 604.3,362.8M604.3,362.8 602.4,362 601.2,360.2 600.9,358 598.9,356.9 599.2,354.8 600.2,353.1 601.2,351.3 601.2,349.2M607.5,307.7 606.9,309.3 605.4,310.3 603.9,311 602.4,311.6 601.3,312.8 600.1,313.9 598.9,315 597.9,316.3M618.6,320 618.5,319.3M616.5,322.7 615.3,324.2 613.3,324.2 611.7,324.8 609.9,324.9 608.2,324.3 606.5,323.9 604.8,324.5 603,324.9M603,324.9 601.1,323.2 599.4,321.2 599.3,318.5 597.9,316.3M606.3,338.7 604.4,336.6 602.1,335.1 601.8,332.3 600.6,329.8M606.3,338.7 605.2,340.8 603.8,342.8 602.9,345.1 602.6,347.5M601.6,348.2 602.6,347.5M601.6,348.2 600.1,347.1 598.9,345.8 597.6,344.4 595.8,343.7 594.3,342.3 592.3,341.9 591.2,340.1 591,338.1M600.6,329.8 598.1,329.1 595.5,328.6 594.4,331.4 591.5,332M591,338.1 591.5,336.6 591.9,335.1 592.4,333.4 591.5,332M616,335 613.1,334.8 611.2,337 609,338.5 606.3,338.7M603,324.9 601.6,327.3 600.6,329.8M616.9,349.9 615,349.4 613.1,349.3 611.4,348.5 610.1,347 608.2,347 606.3,347 604.4,346.6 602.6,347.5M619.3,357.7 619.9,356.5M619.3,357.7 618.1,359.7 616.9,361.7 614.3,361.7 612.5,359.9 612.1,362 610.1,362.7 608.3,363.1 606.5,363.7M606.5,363.7 604.3,362.8M601.2,349.2 601.6,348.2M582,354.9 582.4,352 583.1,349.1 582.9,346.2 583.4,343.3M583.4,343.3 585.5,342.1 586.7,340 588.7,338.7 591,338.1M582.6,355.4 582,354.9M583.8,324.6 586.1,322.8 588.4,320.9 589.6,318.1 589.8,315.1M597.9,316.3 595.7,316.8 593.9,315.5 591.9,314.8 589.8,315.1M583.8,324.6 585.5,326.7 587.7,328.2 589.9,329.8 591.5,332M574.7,334.3 575.8,335.5 576.6,337 577.2,338.5 577.7,340.1 579.2,340.6 580.7,341.5 582,342.4 583.4,343.3M579.5,325.5 578.5,327.9 576.5,329.6 574.4,331.5 574.7,334.3M579.5,325.5 581.5,324.6 583.8,324.6M585.1,383 584,384.3 582.5,384.9 581.2,385.9 579.7,386.4 577.9,386.8 576.1,386.6 575,387.9 574,389.4M590.7,384.1 590.2,386.7 591.4,389.2 590.3,391.7 591.4,394.3M582.1,402 579.9,402.6 578.9,400.6M574,389.4 574.8,390.8 575.9,391.9 576.6,393.4 576.3,395 578,395.8 577.8,397.7 578.1,399.2 578.9,400.6M564.8,417.4 565.9,414.7 566.1,411.7 567.4,410.5 567.5,408.7 566.5,407.4 566,405.8M564.8,417.4 567.4,418.7 570.1,419.9 571.6,420.3 572.8,421.2 574.4,420.8 575.8,421.5M566,405.8 567.5,404.9 569.1,404.1 570.7,403.5 572.5,403.2 574.2,403 575.8,402.3 577.8,402.2 578.9,400.6M841.2,446.1 841.4,443.2 840,440.7M847.3,428.9 846.1,430.4 844.2,431.1 842.9,432.8 843.7,434.8 842.7,436.3 841.1,437.3 840.3,438.9 840,440.7M850,385.9 849.1,384.6 849.4,383 848.8,381.6 848,380.3 848.5,378.7 849.6,377.5 849.4,375.9 848.6,374.4M850,385.9 851.9,385.6 853.6,385 855.5,384.6 857.2,384 859,384.7 860.8,385.6 862.8,386.1 864.6,385.1M848.6,374.4 850.4,374 851.7,372.7 853.1,371.6 854.6,370.7 856.5,370.2 858.3,370.7 859.8,369.7 861.5,368.9M864.6,385.1 865.5,383.7M865.5,383.7 865.3,381.5 863.4,380.5 862.2,378.8 862.9,376.8 862.3,374.9 863.1,373.1 862.9,371.2 862.2,369.5M843.5,372.6 845.8,374.2 848.6,374.4M843.5,372.6 843.2,372.2M844,355.1 845.7,357 846.2,359.4 845.5,361.8 843.9,363.7 844.7,365.8 843.8,367.9 843.6,370.1 843.2,372.2M877.4,383.4 875.9,384.1 874.4,384.8 872.9,384.3 871.5,383.4 868.5,383.5 865.5,383.7M637.9,357.4 639.8,357.7 641.4,358.8 643.1,359.6 644.5,360.8 646.1,361.8 647.7,362.9 649,364.2 650.7,365.1M653.9,348.9 652.1,349.4 651.1,351.1 651.1,353 651.9,354.7 653.5,355.4 653.9,357.1 655.5,357.7 656,359.4M653.9,348.9 652.6,347.9 651.1,347.5 649.9,346.3 648.6,345.4M650.7,365.1 651.9,363.6 653.2,362.2 654.8,360.9 656,359.4M683.9,300.7 683.2,298.8 683.2,296.9M703.1,291.3 701.5,291.6 699.9,291.1 698.3,291 696.7,291.5 695.9,289.8 695.2,288.2 693.5,287.4 691.6,287.5M683.2,296.9 684.1,295.5 685.5,294.7 687.4,294.5 688.1,292.8 689.4,291.8 690.3,290.4 690.8,288.8 691.6,287.5M693.1,272.8 691.4,275.2 689.4,277.5M691.6,287.5 690.1,285.1 688.4,282.9 688,280 689.4,277.5M600.4,232.9 602.4,233.4 604.3,234.2 606.2,233.5 608.2,233.1 610.2,232.5 612.1,233 613.8,234.2 615.9,234.4M600.4,232.9 602,234.1 603.5,235.5 604.5,237.3 604.5,239.4 603.9,241.3 602.5,242.8 602.6,244.8 602.2,246.7M606.4,248.9 608,249.2 609.5,248.8 611,248.3 612.4,247.8 613.8,247.2 615,246.3 616.4,245.6 617.6,244.7M606.4,248.9 604.3,247.8 602.2,246.7M617.6,244.7 616.9,242 617.7,239.4 616.3,237 615.9,234.4M610.7,265.1 612.6,266.1M610.7,265.1 609.3,263.3 609.7,261.1 609.3,259 608.9,257 609,254.5 607.1,253.1 606.5,251 606.4,248.9M621.9,247.2 619.6,246.3 617.6,244.7M590.3,258.8 591.1,261 591.2,263.3 592.2,265.5 594.4,266.7M610.7,265.1 608.7,266.3 606.5,265.8 604.5,266.5 602.7,267.7 600.6,268.1 598.5,267.4 596.4,267.2 594.4,266.7M590.7,253.3 591.4,251.6 593.1,250.8 594.7,250.2 596.5,250.1 598.1,249.4 599.8,249.1 600.5,247.4 602.2,246.7M590.7,253.3 590.5,256 590.3,258.8M621,228.2 619.8,229.9 618.7,231.6 617.3,232.9 615.9,234.4M667.2,494.4 668.9,493.4 669.9,491.8 669.6,489.8 670.4,488.1 672.3,487.9 674,487 675.1,485.5 676.3,484.1M681.2,497.7 682.3,496.2 682.9,494.5 683.4,492.7 683.5,490.9M683.5,490.9 681.7,489.2 679.7,487.7 678,485.9 676.3,484.1M622.3,207.4 619.5,207.8 617,206.4 614.3,205.6 611.6,205.8M627,188.8 625.5,187.3M611.6,205.8 611.1,204.3 611.5,202.8 612.1,201.2 611.1,199.8 610.2,198.5 609.2,197.4 608.2,196.2 606.8,195.6M625.5,187.3 623.7,189.4 621.1,190.5 618.5,191.8 617.5,194.6 614.7,194.5 612,193.7 609.2,194.3 606.8,195.6M631.9,167.7 631,168.3M631,168.3 628.6,168.1 626.1,168.4 623.7,170 621.1,168.7 618.5,170.2 616.2,168.2 613.9,166.9 611.4,166.8M611.4,166.8 611.6,165 611.1,163.3 609.8,162 609.6,160.1 609.6,158.4 609.6,156.6 610,154.9 609.9,153.2M625.5,187.3 625.2,185.9M625.2,185.9 626.1,183.7 627.3,181.7 627.1,179.3 628,177.1 628.9,174.6 631.1,173.2 630.9,170.8 631,168.3M494.1,167.4 495.3,169 495,171 495.2,172.8 495.7,174.5 494.9,176.2 493.4,177.4 492.3,178.9 491.8,180.7M510.8,181.1 508.7,181.4 506.8,180.9 505.1,182.1 503.6,183.4 502.5,184.9 501.2,186.3 499.1,186.8 498.3,188.7M510.8,181.1 509.6,179.4 508.1,178.1 508.2,176 506.7,174.4 504.8,173.4 504.3,171.3 502.7,169.8 502.8,167.6M491.8,180.7 494.7,181.3 496.3,183.7 497.6,186.1 498.3,188.7M475.1,179 477.3,179.5 478.5,181.5 480.3,182.6 481.9,184M491.8,180.7 489.3,181.4 486.8,182.2 484.2,182.7 481.9,184M524.3,164.4 522.8,165.9 522.5,168 523.1,169.9 523.4,171.9 522.1,173.4 521.5,175.3 521.4,177.2 521.2,179.2M534.6,163.3 534.5,165.4 535.9,166.8 536.3,168.7 535.8,170.5 537,172 538.6,173 539,174.8 540.2,176.3M540.2,176.3 539,178 536.9,178.1 536,179.7 534.8,181.1 533.3,182.3 531.5,182.8 529.7,183.4 527.9,183.8M527.9,183.8 526,182.6 525.3,180.4 523.1,180.4 521.2,179.2M510.8,181.1 513.3,181.9M513.3,181.9 515.6,182 517.2,180.4 519,179.3 521.2,179.2M402.4,167 401.9,165.2 400.1,164.6 398.8,163.6 397.7,162.4M397.7,162.4 398.6,160.4 399.3,158.2 398.2,156.1 398.9,153.7 400.2,151.8 402.1,150.5 402.4,148.2 403.1,146M383.5,183.8 381.4,185.7 379.7,188 378.4,190.6 378,193.4M383.5,183.8 384.9,182.8 386.6,183.3 388,182.7 389.5,182M389.5,182 390.6,183.9 392.7,184.2 394.7,184.7 396.1,186.2M396.1,186.2 394.5,187.9 393.8,190.2 392.9,192.3 392.5,194.5 393.4,196.7 393.4,199.1 392.1,201.1 392.2,203.6M392.2,203.6 390.7,204.6 389,204.3 387.2,205 385.7,203.9M385.7,203.9 383.6,202.3 383.2,199.6 380.9,198.7 378.6,197.8M378,193.4 378,195.6 378.6,197.8M399.7,185.1 398,186.1 396.1,186.2M389.3,163.4 391.5,163.9 393.5,162.7 395.6,163.5 397.7,162.4M389.3,163.4 390.2,165.7 389.5,168.1 389.9,170.5 390.8,172.7 389,174.8 387.4,177 387.6,179.9 389.5,182M403.4,206.2 400.9,204.9 398.2,203.8 395.4,204.3 392.5,203.9M410.4,199.4 409.5,197.9 409.9,196.2M392.5,203.9 392.2,203.6M354.1,186.8 355.8,187.2 357,188.3 358.1,189.6 359.8,190 360.7,191.4 361.1,192.9 361.5,194.5 361.9,196.1M368.6,186.6 367.1,189.1 365,191.2 364.4,192.6 364.2,194.1 362.9,195 361.9,196.1M354.1,186.8 354.1,185.2 354.2,183.7M368.2,181.7 368.6,184.1 368.6,186.6M368.2,181.7 365.6,181 363.2,179.7 360.7,178.4 359.4,175.9M354.2,183.7 355.5,181.5 355.5,178.9 356.9,176.7 359.4,175.9M312.1,197.9 313.5,195.7 312.4,193.3 311.9,190.9 310.1,189.3M315.5,178.7 317.7,180.7M312.1,197.9 314.2,198.7 316.3,197.8 318.4,197.7 320.5,197.5M317.7,180.7 318.7,182.9 320.6,184.5 323.1,185.6 323.6,188.3 323.8,190.9 322.1,192.9 321.6,195.3 320.5,197.5M320.7,197.8 323.3,196.9 325.5,195.4 325.6,193.8 324.8,192.4 326.2,191.5 327.3,190.4M320.5,197.5 320.7,197.8M317.7,180.7 319.2,179.1 321.3,178.6 323.3,178 325.2,177.3M327.3,190.4 327.9,188.7 328.7,187.1 328.6,185.3 327.7,183.6 327.1,181.9 325.6,180.8 324.9,179.1 325.2,177.3M324.1,160.9 324.4,162.6 324.9,164.4 325.3,166.1 326.5,167.6 326.2,169.4 326.9,171.1 326.5,172.9 326.3,174.7M326.3,174.7 325.2,177.3M361.9,196.1 362.2,198.6 362,201M368.6,186.6 369.9,187.4 371,188.5 372.4,189.5 372.4,191.2 373.5,192.3 375,193 376.5,193.3 378,193.4M378.6,197.8 376.5,199.6 375.6,202.1 374.6,204.8 372.1,206.1M372.1,206.1 369.7,204.7 367.3,203.2 364.5,202.4 362,201M544.3,510.6 543,513.3 541.1,515.6 540.6,517.3 538.9,517.6 538.7,519.1 538,520.5M522.8,498.8 524.1,500.6 525.2,502.6 525.9,504.7 526.1,507 525.1,509 524.6,511.2 524.6,513.8 522.2,515M538,520.5 535.9,520.1 534,519 532,518 529.8,518.6 527.7,518.1 526.1,516.6 524.4,515.3 522.2,515M551.1,533.2 549.6,533 548,532.9 546.4,533.1 544.8,533.2 543.1,532.8 541.9,531.6 541.5,530 540.4,528.7M538,520.5 537.7,522.8 537.3,525.2 538.7,527 540.4,528.7M497.3,512.3 500.2,513.7 503.4,514.1 502.6,517.3 503.4,520.5 506.1,520.5 508.5,519.6 511.1,519.7 513.6,520.5M513.6,520.5 516,519.5 518.1,517.9 519.5,515.5 522.2,515M523.8,557.4 525.8,556 525.8,553.6 527.2,552 528.6,550.3M528.6,550.3 527.4,548.3 526.3,546.3 527.1,544.1 527.7,541.9M527.7,541.9 525.5,541.6 523.8,540.3 521.5,540.5 519.6,539.3 517.7,538.1 516.8,536.1 514.8,535.1 513.7,533.2M513.7,533.2 512.3,535.3 509.7,535.7 507.4,536 505.3,537.2 504,539.3 502.8,541.5 500.4,542.1 498.3,543.3M498.3,543.3 498.1,544.7M549.4,555 547.2,553.3 544.5,552.6 541.8,553.2 539.1,552.5 536.9,550.6 534.1,550.1 531.3,550.1 528.6,550.3M540.4,528.7 538.5,530.1 536.4,531 534.5,532.4 533,534.2 531.3,535.9 530.1,537.8 529.5,540.2 527.7,541.9M513.6,520.5 514.5,522 514.3,523.8 514.1,525.5 512.9,526.8 513.4,528.4 513.9,529.9 513.8,531.5 513.7,533.2M487.4,529.3 489,530.9 490.8,532.3 492.4,533.9 494.2,535.3 494.4,537.6 495.7,539.6 497.3,541.2 498.3,543.3M478,529.5 477,531.8 476.8,534.3 475.3,536.4 475.6,539 474.5,541.4 474,544.1 471.6,545.1 469.3,546.4M217.9,370.8 219.8,372.8 222.4,373.6 224.9,372.8 227.6,373.2M227.6,373.2 228.4,374.8M227.6,373.2 228.9,370.9 230.1,368.6 229.4,366.1 228.7,363.5 229.3,361.1 228.6,358.6 226.9,356.6 226.9,354M216.4,358.1 217.3,356.5 219.1,356.4 219.1,354.8 219.7,353.3 222.6,352.6 225.4,352.2M226.9,354 225.4,352.2M235.4,337.1 233.7,336.1 231.8,335.4 229.9,334.6 228.7,332.9M241.8,326.9 241.9,328.5 241.7,330.2 241.1,331.8 239.6,332.6 238.1,333.3 237,334.5 235.4,335.3 235.4,337.1M241.8,326.9 241.8,326.2M237.1,319.5 238,321.4 239.6,322.8 240.6,324.6 241.8,326.2M237.1,319.5 235,320.2 232.7,320.4 231.2,322 229.5,323.4M229.5,323.4 229.7,325.9 230.1,328.3 229.4,330.6 228.7,332.9M214.4,337.1 214.2,339.7 213.1,342 212.3,344.4 212.2,346.9M214.4,337.1 215.5,335.8 216.4,334.5 217.5,332.9 219.3,332.7M212.2,346.9 213.5,348.8 213.9,351 213.8,353.2 213.7,355.4M225.4,352.2 226.1,350.1 225.2,348.1 226.2,346.3 227.4,344.6 227.3,342.7 226.8,340.7 225.6,339.1 225.5,337.1M219.3,332.7 221.4,332.6 223.4,333.4 224.1,335.4 225.5,337.1M179,363 179.2,365.3 180.5,367.2 179.1,369 178.5,371.2 178.7,373.3 179.2,375.4 177.7,377.1 177.8,379.4M167.4,368.9 166.9,371.4 166.8,374M558.4,280.5 556.1,281.7 553.6,281.3 551.5,282.7 549.1,283.1M558.4,280.5 561,281.6 561.9,284.2 564.2,285.5 566,287.3M561.3,297.4 562.1,295.9 561.3,294.3 562.6,293.5 563.6,292.3 565.2,290 566,287.3M549.6,298.6 547.9,297.5M549.6,298.6 552.5,297.9 555.5,298.4 557,298.8 558.5,298.7 560.1,298.5 561.3,297.4M549.1,283.1 547.8,284.7 547.7,286.7 546.9,288.5 545.8,290.1 546.4,292 546,294 548,295.1 547.9,297.5M523.3,303.9 523.4,304.2M523.3,303.9 523.8,302 524.9,300.5 526,298.9 527.4,297.6 529,296.6 530.7,295.9 532.1,294.6 533.7,293.6M534.6,311.1 535.6,309.1 536.5,307.2 538.3,306 540.1,304.8 541.7,303.4 543,301.7 543.6,299.6 545.2,298.1M533.7,293.6 535.5,293.4 536.6,294.8 538.1,295.5 539.7,295 540.9,296.3 541.7,297.8 543.4,298.3 545.2,298.1M536.1,317 537.6,317.8 539.3,317.9 540.8,317.2 542.3,316.7 543.9,317 545.4,317.5 547,317.5 548.6,317.2M553,312.1 551.6,313.2 550.7,314.6 549.5,315.8 548.6,317.2M553,312.1 552.4,310.4 552.3,308.6 550.9,307.4 550.3,305.6 551.1,303.9 551.2,302 551.1,300 549.6,298.6M545.2,298.1 547.9,297.5M573.6,262.4 572.5,264.8 573.2,267.2 573.9,269.5 573.9,272M573.6,262.4 573,260.7 571.8,259.3 570,258.7 569.1,257M569.1,257 567.9,258.8 567.8,261 565.8,261.6 563.9,262.4 562,263 560.8,264.6 559.1,265.5 557.3,265.9M573.9,272 572.3,272.2 570.7,272.1 569.1,271.8 567.5,272 565.9,272.1 564.3,272.7 562.9,273.5 561.3,273.9M561.3,273.9 561.2,271.5 560.6,269.3 558.8,267.7 557.3,265.9M594.4,266.7 593.2,268.6 593.5,270.8 591.7,272.1 591.2,274.3M591.2,274.3 589.3,274.5 587.4,274.8 585.6,273.7 583.5,274.1 581.6,274.5 579.7,275 577.7,275.1 575.9,274.2M575.9,274.2 574.6,273.4 573.9,272M590.3,258.8 588.1,259.3 585.8,258.9 583.8,257.8 581.4,258.1 578.9,257.4 576.7,258.8 575.7,261.2 573.6,262.4M590.7,253.3 588.5,251.4 586.5,249.2 584.2,247.4 582.7,244.8M568.7,253.8 570.1,255.3 569.1,257M550.5,263.7 550.4,262.1 550.7,260.4 550,258.9 550.3,257.2 549.8,255.6 549.5,253.9 550.1,252.4 550.3,250.7M561.1,246.8 558.1,246.9 555.5,248.2 554,248.7 552.5,248.7 551.3,249.5 550.3,250.7M550.5,263.7 551.8,265.1 553.7,265.4 555.5,265.2 557.3,265.9M566,287.3 568.1,287.6 569.7,286.3 571.7,286.6 573.6,286.2M575.9,274.2 575.8,275.8 576.1,277.4 575,278.6 574.8,280.3 574,281.6 573.4,283.1 573.1,284.7 573.6,286.2M558.4,280.5 558.5,278.6 559.2,276.9 560.6,275.6 561.3,273.9M546.8,266.4 548.6,265.1 550.5,263.7M546.8,266.4 546.5,267.9 546.3,269.4 546.4,271 545.7,272.4 546,274 545.2,275.4 544.3,276.7 544,278.3M544,278.3 545.6,279.2 547.2,280 548,281.6 549.1,283.1M563.4,322.2 560.8,321.3 560.1,318.6 559.7,316.2 559.9,313.7M563.4,322.2 566.2,322.3 569,322.9 571.7,322 574.4,321.2M559.9,313.7 561.6,313.1 562.7,311.6 563.2,309.8 564.7,308.7 566.3,308.1 568,307.6 569.6,306.9 571,305.8M574.4,321.2 572.3,319.9 572,317.5 572.1,315.2 573.6,313.4 572.8,311.6 572.2,309.8 571.8,307.8 571.5,305.9M571,305.8 571.5,305.9M561.3,297.4 562.9,298.1 563.3,299.9 564.4,301.1 565.3,302.5 566.6,303.6 568.2,304.1 569.4,305.2 571,305.8M553,312.1 555.1,311.1 557.1,309.9 559.3,311.2 559.9,313.7M575.2,304.1 573.2,304.7 571.5,305.9M586.2,304.6 583.6,303.4 580.8,302.4 577.9,303 575.2,304.1M586.2,304.6 588.4,306.7 589.5,309.4 590.1,312.2 589.8,315.1M579.5,325.5 578.5,324.1 577.5,322.7 575.8,322.2 574.4,321.2M573.6,286.2 574.7,287.3M575.2,304.1 573.8,302.2 572.4,300.4 572.5,298.1 572.6,295.8 573.6,293.8 573.6,291.5 573.4,289.2 574.7,287.3M518.8,287 517.2,286.2 516.3,284.6M518.8,287 520.2,286.1 521.5,285.1 523.2,285 524.9,285.1 526.6,285.2 527.8,286.5 529.4,286.7 530.9,287M516.3,284.6 517.5,282.9 518,280.8 518.4,278.6 517.7,276.6 519.5,274.9 522,274.9 523.4,272.8 523,270.3M530.9,287 531.8,284.9 533.2,283 533.9,280.8 535.3,278.9M535.3,278.9 534.5,276.2 533.2,273.8 531.6,274.1 530.1,273.5 529.6,272 528.2,271.2M528.2,271.2 525.7,270 523,270.3M519.7,301 521.3,302.8 523.3,303.9M533.7,293.6 533.6,291.7 532.5,290.2 532.3,288.3 530.9,287M519.7,301 521.8,300 522.1,297.8 523.1,295.9 522.3,293.8 520.8,292.5 520,290.7 519.3,288.9 518.8,287M544,278.3 541.2,278.4 539.5,276 536.9,276.7 535.3,278.9M546.8,266.4 546.2,265 545,263.9 543.6,263 542,263.1 540.4,262.7 539,263.5 537.6,262.8 536.2,262.2M536.2,262.2 535.6,263.8 534.2,264.8 532.7,265.3 531.2,265.8 529.8,266.7 528.6,267.9 528.2,269.5 528.2,271.2M468.1,519.9 465.9,519.7 463.7,520M468.9,444 470.1,442 470.4,439.7 471.6,437.7 472.4,435.6M472.4,435.6 474.4,436.4 476.6,436.5 478.6,435.5 480.8,435.6 482.8,434.7 485,434.5 487.1,435.3 489.1,436.3M482.2,457.6 483.5,456.4 484.6,455 486,453.9 487.5,453 488.6,451.5 490.3,451 491.5,449.5 493.4,449.3M489.1,436.3 488.7,438.2 488.2,440 489.2,441.6 490.5,443.1 490.5,444.9 491.4,446.4 493.2,447.3 493.4,449.3M542.1,348.8 543.3,350.5 545,351.7 545.6,353.7 546.8,355.4M538.6,368 540,366.7 541.7,365.7 542.4,363.9 543.7,362.3 544.5,360.6 545.4,358.9 545.9,357.1 546.8,355.4M526.3,365.4 526.2,363.7 526.4,362.1 526,360.4 524.5,359.4M542.1,348.8 540.5,348.7 539,348.2 537.3,347.8 536.2,346.6 534.7,347.1 533.1,347.2 531.9,348.3 530.4,349M524.5,359.4 525.5,358.2 525.9,356.7 526.8,355.4 528,354.5 528.5,352.7 530.2,352.2 531,350.7 530.4,349M524.5,359.4 522.7,359.5 520.8,359.5 520.3,357.5 518.5,356.6 516.9,355.8 515.8,354.4 514.1,354.6 512.4,354M526,341.9 524.2,342.6 522.4,342.2 521.3,343.5 519.9,344.7 518.6,346 517.1,347.1 515.3,346.6 513.4,346.4M530.4,349 528.8,347.6 528,345.5 527.2,343.6 526,341.9M512.4,354 512.6,352.1 513.2,350.2 512.8,348.3 513.4,346.4M526.3,336.3 526.4,339.1 526,341.9M518.1,326.2 516.3,326.9 514.7,328 513.3,329.4 512.3,331 510.9,332.4 509.7,333.8 508.5,335.3 507.1,336.5M513.4,346.4 512.5,343.5 511.2,340.8 511.2,339.1 509.8,338.1 508.2,337.7 507.1,336.5M435.2,276.7 433,275.7 431,274.2 428.4,274.3 426.2,272.9M435.2,276.7 434.5,279 434.2,281.3 434.8,283.6 435.6,285.8M426.2,272.9 424.8,273.9 423.3,275 422.7,276.7 422.8,278.6 421.4,279.6 420.5,281.1 419.8,282.6 419.6,284.3M419.6,284.3 420.5,285.7 420.2,287.3 420.8,288.7 421.3,290.2M421.3,290.2 422.8,290.7 424.5,290.9 425.9,292 427.6,291.6M435.6,285.8 433.7,287.5 432,289.3 429.8,290.4 427.6,291.6M444.8,290.6 442.1,290.3 439.8,288.9 437.5,287.6 435.6,285.8M444.8,290.6 446.3,289.3 448,288.2 448.7,286.4 449.6,284.6M435.2,276.7 436.5,275.6 438,275 439.5,274.4 440.8,273.4 442.2,272 443.2,270.3 445.3,270.4 447,271.6M449.6,284.6 448.7,283 449.1,281.3 448.5,279.7 448.6,278 447.9,276.5 447.1,275 446.6,273.3 447,271.6M458.8,264.6 457.5,266.6M437.8,258.6 439.4,259.8 440.2,261.6 442.1,262.5 442.7,264.5 444.4,265.7 445.9,267 447,268.7 447.5,270.6M457.5,266.6 454.9,268.1 452,267.5 449.5,268.7 447.5,270.6M423.1,263.4 423.9,265.9 425.8,267.8 425,270.4 426.2,272.9M447,271.6 447.5,270.6M427.6,291.6 429.4,292.1 431.1,292.8 432.1,294.5 434,294.9 432.7,296.5 433,298.6 434.2,300.1 434.7,302M444.8,290.6 445.6,292.1 445.5,293.8 445.1,295.5 445.1,297.2M445.1,297.2 444.2,298.8 443.6,300.4 441.6,300.9 440.9,302.8M440.9,302.8 439.3,302.3 438,301.4 436.3,301.4 434.7,302M421.3,290.2 419.8,292.6 418.2,294.9 415.8,296.6 414.8,299.4M414.8,299.4 415.9,300.8 416.9,302.3 417.9,303.8 418.7,305.4 420.2,306.4 421.5,307.7 422.9,308.9 423.7,310.6M434.7,302 433.6,303.3 432.3,304.6 431.7,306.4 430,307.3 428.2,307.6 426.4,308.1 424.8,309.1 423.7,310.6M409.9,320.7 408.6,322.9 408.3,325.4M420.6,339.3 420.2,336.7 417.7,335.6 416.7,333.5 415.4,331.5 414,329.5 412.8,327.3 410.5,326.4 408.3,325.4M420.6,339.3 422.6,337.8 424.8,336.6M409.9,320.7 411.8,320.1 413.6,319.2 415,317.7 416,316 418.3,316.4 419.6,314.3 421.5,315.1 423.6,314.9M424.8,336.6 425.8,334.9 426,332.9 426.9,331.2 427.7,329.4 429.4,327.7 428.4,325.6 429.8,324 429.7,321.9M429.7,321.9 427.7,320.6 426.7,318.4 424.5,317.2 423.6,314.9M406,364.2 405.1,365.6 403.7,366.5 401.9,365.8 400.5,367.1 399,367.8 397.5,368.4 395.9,368.3 394.3,368.5M406,364.2 406.5,362.2 406.5,360.2 405.9,358.2 406.3,356.2 405.9,354.2 404.8,352.5 403.9,350.7 403.5,348.8M394.3,368.5 392.8,366.3 390.5,365.1 388.4,362.8 389.9,360.1 389.5,357.7 390.3,355.3 389.4,353.1 388.4,350.9M403.5,348.8 402.3,346.6 399.8,346.5M399.8,346.5 398.1,346 396.7,347 395.8,348.3 394.4,349.1 391.5,349.6 388.6,350.3M388.6,350.3 388.4,350.9M409.5,366.9 407.5,365.9 406,364.2M390.5,376.7 391.4,374.5 391.6,372.2 393.3,370.6 394.3,368.5M419.1,343.4 416.9,343.6 415.2,345 413.1,345.7 411,345.2 409.1,346.1 407.4,347.3 405.6,348.3 403.5,348.8M419.1,343.4 419.5,346 420.3,348.5 421.6,350.7 423.1,352.9M377.7,358.9 377.8,361.7 376.7,364.4M377.7,358.9 378.5,357.3 380.1,356.5 380.9,354.8 382.8,354.5 384.1,353.5 385.2,352.2 386.7,351.2 388.4,350.9M399.6,329.2 402.1,329.3 404.4,328.4 405.5,325.9 408.3,325.4M420.6,339.3 420.1,341.5 419.1,343.4M399.6,329.2 400.3,331.4 400.9,333.6 401.2,336 402.8,337.8 402,340 400.8,342 400.2,344.2 399.8,346.5M470.5,430.7 469.7,429.4 468.3,428.6 467.2,427.6 466,426.7 464.2,426.8 463,425.5 461.4,425.7 459.9,426.1M478.9,416.5 478.6,418.6 477.3,420.3 476.3,422.2 475.6,424.1 474.5,426 474.1,428.2 471.9,428.9 470.5,430.7M477.5,414 475.1,413.5 473.1,414.8 470.9,414.4 469.1,413 467,412.5 464.9,412.3 462.7,412.4 460.6,412.4M478.9,416.5 477.5,414M460.6,412.4 460.6,414.2 460.9,415.9 461.1,417.6 460.6,419.3 460.9,421 461.1,422.8 460,424.2 459.9,426.1M472.4,435.6 471.8,433 470.5,430.7M450.1,441.9 450,440 448.7,438.7 449.8,437.2 451.5,436.6 450.3,435.5 449.2,434.5 449,432.8 449.7,431.4M459.9,426.1 458.2,426.1 456.8,426.9 455.1,427.8 455.3,429.7 454.3,431.1 453,432.2 451.4,431.7 449.7,431.4M429.6,428.3 432.4,428.4 434.8,427.2 436.9,425.4 438,422.9 439.2,425.3 441.3,426.9 443.7,427.9 446.2,428.5M426,417.2 428.8,417.6 431.4,418.7 434.1,417.7 435.8,415.3 438.2,414.7 440.8,414.7 443.3,414.2 445.3,412.5M445.3,412.5 445.7,414.6 445.9,416.8 445.5,418.9 444.1,420.6 444.7,422.6 444.6,424.7 445.9,426.4 446.2,428.5M446.2,428.5 448.2,429.7 449.7,431.4M428.9,401.7 431.1,401.9 433.2,401.2 435.4,401.3 437.6,401.3M438.2,385.4 436.5,385.4 434.9,384.7 433.8,383.4 432.2,383 430.5,383 429,383.7 427.3,383.7 425.9,384.6M438.2,385.4 439.3,387.4 441.2,388.6 443.1,389.9 444.4,391.8M444.4,391.8 444.3,393.4 443.5,394.7 443.3,396.3 441.9,397.2 440.3,397.6 438.7,398.2 438.1,399.8 437.6,401.3M445.3,412.5 446.1,411.3M437.6,401.3 438.3,402.9 439.7,404 441.2,404.7 442.7,405.6 443.1,407.3 444.2,408.6 444.8,410.2 446.1,411.3M466.9,396.5 465.1,397.7 463.9,399.5 464.3,401.6 463.6,403.7 462.3,405.2 461.1,406.7 459.1,407.4 457.9,409.1M466.9,396.5 466.7,395 466.6,393.4M466.6,393.4 465.6,391.6 463.8,390.8 463.9,388.9 463.3,387 461.5,387 459.7,387.2 457.9,387.6 456.1,387.5M457.9,409.1 455.8,408.4 453.6,408.2M453.6,408.2 452.9,406.3 452.5,404.2 452,402.3 451.5,400.3 449.4,399 449.7,396.5 449.3,394.5 449.1,392.4M456.1,387.5 454.4,388.7 452.7,390.1 451.4,392.1 449.1,392.4M477.5,414 477.9,411.6 477.1,409.3 478.1,407.1 479,404.9M479,404.9 477.1,404.3 475.4,403.3 474.2,401.8 473.5,400 471.4,400.3 469.4,399.7 467.9,398.3 466.9,396.5M460.6,412.4 459.4,410.7 457.9,409.1M446.1,411.3 448.3,412.3 450.5,411.2 452,409.6 453.6,408.2M444.4,391.8 446.8,391.7 449.1,392.4M445.4,374.2 444.7,371.4 444.7,368.5 443.9,367.2 443.5,365.7 442.3,364.7 440.8,364.4M445.4,374.2 446.9,374.4 448.4,374.4 449.9,374.7 451.5,374.6 453.2,374.6 454.9,375.1 455.1,376.9 456.3,378.3M440.8,364.4 442.4,362.3 443.2,359.8 445.5,358.5 447.4,356.6 450,357.4 452.6,356.5 454.5,358.6 457.2,359M456.3,378.3 458,378.1 459.6,377.2 460,375.5 461.1,374M461.1,374 460.8,372.4 459.9,370.9 460.2,369.2 461,367.7 460.2,366 458.7,364.9 459.3,363.2 459.9,361.5M459.9,361.5 458.1,360.7 457.2,359M438.2,385.4 439.4,384.1 440.3,382.6 440.5,380.8 440.6,379 441.6,377.4 443.5,377.2 444.4,375.7 445.4,374.2M440.8,364.4 440.8,364.4M456.1,387.5 455.6,385.2 456,382.9 455.8,380.6 456.3,378.3M474.4,386.1 474.3,383.7 475.1,381.5 473.8,379.3 474.8,376.9M474.8,376.9 472.8,376.7 470.9,376.4 468.9,376.9 467.4,378.2 465.9,376.9 464.9,375.2 463.1,374.2 461.1,374M474.4,386.1 471.8,387.3 469.4,388.6 468.5,391.3 466.6,393.4M424.8,336.6 426.5,337.7 428.6,338.2 430.3,339.3 432,340.4 433.8,342.1 436.1,342.5 438.2,341.5 440.2,340.5M437.2,356.5 436.1,355 435.4,353.4 437.3,352.5 437.5,350.4 437.9,348.7 438.5,347 440.3,346.8 442,346.2M440.2,340.5 441.1,341.9 442.5,343 442.4,344.6 442,346.2M457.2,359 456.2,356.7 456.9,354.2 457,351.8 457.2,349.5M442,346.2 443.9,346.7 445.6,347.6 447.5,348.3 449.4,348.5 451.4,348.5 453.4,348.7 455.3,348.9 457.2,349.5M479,404.9 480.5,403.6 482.3,402.7 484,401.6 485.1,399.9M474.4,386.1 475.2,387.6 475.7,389.3 477.2,390.2 479,390.3 480.5,390.7 482.1,390.8 483.2,392 484.8,392.6M485.1,399.9 485.4,398 485.9,396.2 485.8,394.3 484.8,392.6M362.9,240 363.2,241.5 363.2,243.1 362.9,244.6 363.5,246.1 364.6,247.3 365.3,248.7 365.2,250.3 365.8,251.8M362.9,240 364.4,239.5 365.6,238.5 366.4,237.1 367.9,236.5 368.8,235.2 369.4,233.7 371.1,233.4 372.3,232.3M365.8,251.8 367.3,254.2 370.1,254.7 372.7,254.6 375,253.1M375,253.1 375.6,251M375.6,251 375.6,248.4 374.4,246.2 375.1,243.8 375.4,241.4 375.4,238.8 374,236.7 373.1,234.5 372.3,232.3M477.8,243.6 479.7,242.6 481.3,241.3 483.4,241.3 485.5,242M474.7,256 476.6,256.7 478.1,258.1 479.2,259.7 481,260.6 483,260.8 485,261 486.9,261.2 488.9,261.6M488.9,261.6 489.9,259.9 491,258.3 491.1,256.4 491.1,254.4 492.3,252.9 492.9,251 494,249.5 495.5,248.3M495.5,248.3 495.4,246.6 494.2,245.3 493.6,243.6 492,242.8 490.3,243 488.7,243 487.1,242.5 485.5,242M500.2,269.1 501.2,266.8 501.9,264.4 500.8,262.1 500.3,259.7 502.6,258.6 504.8,257.4 505.1,254.8 506.4,252.5M500.2,269.1 498,268.8 495.8,269.5 493.5,269.4 491.5,268.3M491.5,268.3 490.7,266.7 489.7,265.2 489.8,263.3 488.9,261.6M495.5,248.3 497.5,248.2 499.3,247.5 501.2,247.5 503.1,247.3M506.4,252.5 505.1,251.3 503.5,250.7 502.8,249 503.1,247.3M518.9,265.6 518.8,263.8 518.3,262 517.4,260.2 518.4,258.4M503.7,271.7 505.3,270 506.1,267.9 508.2,266.9 510.5,266.7 512.7,266.3 514.8,267 517,266.9 518.9,265.6M503.7,271.7 502.3,270 500.2,269.1M506.4,252.5 507.8,253.4 509,254.7 510.7,255 512.4,255.4 514,256.1 515.4,256.9 517,257.6 518.4,258.4M277.2,213.8 279,212.6 281,211.8 282.8,210.5 284.2,208.9M277.2,213.8 277.6,215.8 277,217.7 276.7,219.6 276,221.4M285.8,220.4 285.1,217.6 285,214.7 285.2,211.7 284.2,208.9M278.5,228.8 276.9,226.7M278.5,228.8 280.7,227.1 282.8,225.1 282.7,223.5 283.1,222 284.5,221.3 285.8,220.4M276,221.4 276.4,224 276.9,226.7M268.5,242.6 270,244.4 272.3,244 273,246.2 275.1,246.9M268.5,242.6 267,244.7 265.8,246.9 265.3,249.3 264.3,251.6M264.3,251.6 265.4,254.4 265.8,257.3M265.8,257.3 267.9,257.8 269.8,259.1 271.5,260.5 272.5,262.5M275.1,246.9 276.1,249.7 275.8,252.6 276.4,254.2 277.4,255.5 276.9,257.3 275.6,258.4M275.6,258.4 274.5,260.8 272.5,262.5M280,235.6 279.1,234 278.3,232.4 278.3,230.6 278.5,228.8M267.5,234.1 268.3,232.7 269.1,231.3 270.7,231 272.2,230.4 274.7,228.7 276.9,226.7M279.1,241.5 279.4,238.5 280,235.6M267.5,234.1 268.6,236 269.1,238.2 268.6,240.4 268.5,242.6M279.1,241.5 278.2,242.9 277,244.1 275.5,245.2 275.1,246.9M263.2,267.3 264.7,265.1 265,262.5 264.9,259.8 265.8,257.3M266.1,273.7 265.7,271.8 265.9,269.9 264.7,268.5 263.2,267.3M266.1,273.7 268.8,272.8 271.7,272.8M271.7,272.8 272.5,270.3 272.8,267.7 272.6,265.1 272.5,262.5M284.3,208.7 284.2,208.9M277.2,213.8 276.3,211.1 274.6,208.8 273.2,206.3 273.1,203.4M286.4,278.4 287.8,277.2 289.2,276 289.6,274.1 290.9,272.6M286.4,278.4 285,276.7 284,274.7 282,273.4 281.4,271.1M290.9,272.6 289.5,270.5 290,268 290.8,265.6 289.8,263.3M289.8,263.3 288,262.6 286.8,261.1 285.3,260 283.8,258.9M281.4,271.1 282.5,268.8 281.5,266.5 282.5,264.1 281.1,262M283.8,258.9 282,260.1 281.1,262M274.2,278.8 273.8,277.2 273,275.8 272.5,274.2 271.7,272.8M275.6,258.4 277,259.2 278.6,259.9 279.8,260.9 281.1,262M274.2,278.8 276.7,277.5 277.8,275 280.1,273.5 281.4,271.1M279.1,241.5 280,244 281.6,246.2 283.3,248.4 284.7,250.7M284.7,250.7 282.9,252.3 281.9,254.5 283.1,256.6 283.8,258.9M574.7,334.3 573,335.5 571.1,336M571,354.1 569.3,352.9 568,351.5M571,354.1 573.7,354.5 576.5,355 579.2,354.1 582,354.9M571.1,336 569.9,337.7 568.9,339.5 569.3,341.5 568.6,343.6 568.4,345.6 567.9,347.5 568.6,349.5 568,351.5M550.9,325.4 552.8,327.4 555.5,327.3 558,327.8 560.5,327.4M550.9,325.4 550.7,327 549.8,328.2 548.3,328.8 547.5,330.3 546.4,331.3 545.3,332.4 545,333.9 544,335.1M544,335.1 545,337.3M545,337.3 546.4,336.6 548,336.9 549.5,336.9 551,336.6 552.5,336.9 554,337.2 555.3,337.9 556.5,338.8M556.5,338.8 558.6,338 559.7,336.1 560.4,334 562.3,333M560.5,327.4 561.8,330.1 562.3,333M563.4,322.2 563.2,323.8 562.7,325.2 561.4,326.1 560.5,327.4M548.6,317.2 548.3,319.5 549.5,321.4 549.9,323.5 550.9,325.4M539.3,332.5 542.1,333.1 544,335.1M542.1,348.8 542.8,347.4 543.7,346.1 544.1,344.5 545.5,343.6 546.6,341.9 545.2,340.5 545.1,338.9 545,337.3M546.8,355.4 549.3,354.7 551.5,356M551.5,356 553.3,354 555.6,352.6 557.8,350.7 560.7,350.7M560.7,350.7 561.4,349.1 561.3,347.4 560.7,345.8 560.8,344 559.9,342.6 559,341.1 557.1,340.7 556.5,338.8M568,351.5 566.1,352.2 564.3,351.4 562.5,351.1 560.7,350.7M571.1,336 568.8,335 566.4,335.4 564.1,334.6 562.3,333M646,321.8 643.6,321.9 641.3,320.9 639.4,319.5 637.4,318.3M646,321.8 647.3,319.6 648,317.3 650.4,316.5 652.6,315.3M652.6,315.3 652.3,312.9 651.7,310.7 650.4,308.7 650.2,306.3M635.8,310.2 635.1,312.3 635,314.6 636.6,316.2 637.4,318.3M635.8,310.2 637.8,308.5 640.4,308.1 641.7,305.9 643.7,304.3M650.2,306.3 648.9,305.1 647.2,304.5 645.4,304.4 643.7,304.3M628.7,324 630.8,322.1 633.5,321.7 634.5,318.9 637.4,318.3M646.3,326.2 645.4,324 646,321.8M653.4,333.6 654.8,334.5 656.4,334.7 657.9,334.7 659.4,335.2 660.8,334.2 662.4,334.1 663.1,332.6 664.2,331.4M660,317.3 657.9,316.7 655.9,317.7 654.2,316.5 652.6,315.3M670.6,309.4 668.3,309 666.6,307.3 665.3,305.4 664.2,303.4 663.3,301.4 662.9,299.1 661.4,297.5 660.2,295.6M660.2,295.6 658.4,296.4 656.4,296.9 654.8,298.3 652.7,298.6 652.2,300.6 652.3,302.7 651,304.3 650.2,306.3M626.9,306.5 629.5,307.1 630.8,309.5 633.3,309.6 635.8,310.2M639.9,296.3 641.1,298.1 642,300.2 642.2,302.5 643.7,304.3M628.9,295.8 631.7,295.9 634.4,296.1 637.1,296.6 639.9,296.3M628.7,283.3 630.5,284.3 632.6,284.5 634.7,284.7 636.5,285.7 638.5,285.3 640.4,284.4 642.1,283.2 644.2,283.1M635,264.6 637.2,264.8 638.6,266.6 639.6,268.4 641.1,269.9 642.4,271.5 644.4,272.2 646,273.5 647.3,275.1M647.3,275.1 646.5,277.2 644.8,278.7 643.8,280.8 644.2,283.1M639.9,296.3 641.9,294.4 642.3,291.7 644,289.7 645.5,287.5M644.2,283.1 645.9,285 645.5,287.5M660.2,295.6 660.2,295.5M645.5,287.5 647.8,287.9 649.9,288.7 652.2,288.3 654.5,288.5 655.3,290.7 656.4,292.8 658.3,294.1 660.2,295.5M574,389.4 572,388.6 570,387.8M577.8,372.7 575.5,373 573.2,372.6 571.3,374.6 568.7,373.8M570,387.8 568.8,386.2 569.4,384.3 568.8,382.6 568.5,380.9 569.9,379.3 571,377.4 569.3,376 568.7,373.8M551.5,356 552.5,358.2 553.9,360.1 552.7,362.4 553.6,364.8 554.5,366.9 555.9,368.7 557.6,370.3 559.6,371.5M539.9,370.7 542.1,370.8 544.2,370.6 546.4,370.4 548.5,370.5 550.7,371 552.8,371.6 553.9,373.8 556.3,374.3M556.3,374.3 557.8,372.6 559.6,371.5M571,354.1 570.5,356.4 570.8,358.7 570.7,361.2 568.9,363 568.4,365.2 567.2,367.2 565.9,369.1 565.1,371.3M559.6,371.5 562.4,372.1 565.1,371.3M568.7,373.8 566.3,373.4 565.1,371.3M864.6,385.1 863.7,387.5 864.1,390 864.7,392.3 864.7,394.8M864.7,394.8 866.5,396.3 866.7,398.7 867.9,400.7 869.5,402.2M844.4,424.5 842.6,425.6 840.4,425.2 838.2,424.9 836.5,426.3 834.3,426.8 832,426.7 830.8,428.6 829.4,430.4M840,440.7 837.8,441.7 836.1,439.9 836.5,437.6 834.4,436.3 832.7,435.4 830.7,435.6 829.7,434 828.3,432.7M829.4,430.4 828.3,432.7M842.8,415.3 840.8,415.8 838.7,415.9 837.2,417.4 835.6,418.6 833.8,417.5 831.9,416.5 829.7,416.6 827.7,417.4M844,416 842.8,415.3M829.4,430.4 830,428.7 830.3,427 830.2,425.2 829.1,423.8 828.5,422.2 828.5,420.6 828.2,418.9 827.7,417.4M826.1,451.6 825.7,449.3 825.9,447.1 825.2,444.8 825.6,442.5 824.6,440.2 825.9,438 826.3,435.8 826.6,433.5M826.6,433.5 828.3,432.7M826.6,433.5 825,431.5 822.7,430.4 820.9,432.2 818.4,432.9M821.7,452.3 818.9,451.5 817.2,449.2 815.5,447.1 814.6,444.5M814.6,444.5 814.7,442.9 815,441.4 816.1,440.2 816.4,438.6 817.1,437.3 817.5,435.8 818.2,434.5 818.4,432.9M818.4,432.9 816,431.9 814.5,429.6M825.1,415.5 825.9,417 827.7,417.4M825.1,415.5 822.5,416.2 819.9,415.7M819.9,415.7 819.7,417.7 818.8,419.4 818.3,421.2 818.4,423.2 817.1,424.6 816.1,426.2 815.2,427.8 814.5,429.6M632.5,420.5 633.2,418.3 633.8,416.1 632.7,413.8 633.6,411.4M632.5,420.5 630.3,421 628.3,421.8 626.6,423.2 624.5,424.1 622.7,422.7 620.5,422 618.3,422 616.1,421.5M633.6,411.4 631.6,411 630.3,409.3 629.6,407.5 629.5,405.5 627.8,405 626,405.2 624.2,405.2 622.4,404.9M622.4,404.9 620.8,406.5 620.6,408.6 620.4,410.6 619.8,412.6 618.4,414.2 616.5,415.1 615.3,416.6 613.8,418.1M616.1,421.5 615.4,419.5 613.8,418.1M616.1,433.9 616.3,432.2 615.7,430.7 614.7,429.4 615,427.7 615.9,426.3 615.9,424.6 616.6,423.1 616.1,421.5M605.9,441.9 607.6,440.8 609.4,439.8 610.5,437.7 609.3,435.7 610.7,434.5 612.5,434 614.3,433.9 616.1,433.9M606.3,415.8 607.8,417.1 609.9,417.6 611.8,417.8 613.8,418.1M652.5,424.8 652.6,426.4 653.3,428 653.8,429.6 653.4,431.2 654,433 655.5,434.1 655.1,435.8 655,437.6M652.5,424.8 650.5,423.2 648,422.8M648,422.8 645.4,424.1 642.7,424.8 640.2,426.4 637.3,426.6M655,437.6 652.5,436.5 649.7,436.4 646.9,436.7 644.3,437.5 641.8,438.4 639.1,439 636.6,440 633.9,440.3M637.3,426.6 636.6,428.3 636.4,430.1 635.7,431.9 636.6,433.7 635.6,435.2 635.4,437 634.7,438.7 633.9,440.2M633.9,440.2 633.9,440.3M632.5,420.5 633.2,422.4 634.7,423.7 636.7,424.5 637.3,426.6M616.1,433.9 618.2,431.5 621.3,431.6 622.9,434.1 625.5,435.5 627.9,436 629.8,437.7 631.8,439 633.9,440.2M626.5,454.2 626.6,452 628.5,450.8 630.7,450.5 631.9,448.6 633.1,447 634,445.2 634.5,443.2 633.9,441.1M633.9,441.1 633.9,440.3M637.2,357.5 637.5,359.2 638.4,360.7 638.3,362.4 637.4,363.9 635.6,364.6 633.9,365.1 631.8,366.5 633,368.7M619.3,357.7 621.2,359.9 623.7,361.2 623.2,364 622.7,366.7M633,368.7 630.3,368.9 627.8,368.2 625.4,366.9 622.7,366.7M633,368.7 632.7,370.4 633.1,372.1 634,373.5 635.1,374.9M635.1,374.9 633.4,375.1 632,376.1 630.3,375.7 628.6,376.1 627.6,377.4 626.3,378.4 626.2,380.2 624.6,381.3M622.7,366.7 621.9,368.5 620.1,369.5 619.3,371.2 618,372.6M624.6,381.3 622.3,379.4 622,376.4 620.8,373.7 618,372.6M595.1,380.5 598,380.9 600.9,381.6 602.3,382.2 603.7,382.7 605.2,383 606.7,382.8M606.5,363.7 606.9,366.4 607.6,369.1 609.7,370.8 611.6,372.8M606.7,382.8 608.3,380.5 609.3,377.9 610,375.2 611.6,372.8M611.6,372.8 613.3,373.3 614.8,372.4 616.3,373.2 618,372.6M622.2,403.7 622.8,402.2 623.4,400.6 623.9,399 623.8,397.3 624.8,395.7 625.8,394.2 627.7,394.1 629.5,393.8M622.2,403.7 620.4,402.4 618.9,400.9 616.8,401.8 614.6,401.5 614.2,399.4 612.7,397.8 610.7,397.2 609.3,395.6M629.5,393.8 627.8,391.9 626.3,389.8 624.6,387.8 623.2,385.6M623.2,385.6 621.4,385.5 619.7,386.3 618.4,387.5 617.2,388.8 615.3,389 613.8,390.3 612.1,389.6 610.5,388.6M609.3,395.6 611.1,394.4 610.9,392.3 610.3,390.5 610.5,388.6M602.9,400.9 604.4,399.4 606.2,398.4 607,396.1 609.3,395.6M622.4,404.9 622.2,403.7M624.6,381.3 623.8,383.4 623.2,385.6M606.7,382.8 608.1,383.9 609.3,385.3 609.5,387.1 610.5,388.6M682.7,324.5 681.8,326.3 681.5,328.3 682,330.2 681.9,332.2 681.7,334.2 682.4,336.1 682.7,338 683.1,339.9M692.6,346.7 691.2,346.1 689.8,345.6 688.6,344.6 687.9,343.3 686.3,343.1 684.9,342.4 683.5,341.5 683.1,339.9M665.1,331.8 666,333.4 666.4,335.2 668,336.1 669,337.7 669.3,339.4 669.5,341.2 670,342.9 669.5,344.7M683.1,339.9 681.2,340.5 679.5,341.4 678.4,343 677,344.4 675.2,345.4 673.2,344.6 671.3,344.6 669.5,344.7M653.9,348.9 656,348.2 658,348.8 660.1,348.5 662.1,349 663.7,347.6 665.9,347.4 668,346.9 669.3,345.1M669.5,344.7 669.3,345.1M633.6,411.4 636,410.4 637.9,408.5 640,406.9 642.3,405.6M648,422.8 646.5,421.4 646.6,419.3 645.3,417.9 643.6,417 645.3,415.9 647.1,414.8 646.2,412.7 647.1,410.7M647.1,410.7 645.4,409.9 644,408.8 643.6,406.9 642.3,405.6M661,420.9 659,422.2 656.9,423.2 654.5,423.5 652.5,424.8M661,420.9 660.1,419.1 660.7,417.1 662.1,415.9 663.7,415 663.2,413.4 662.6,411.9 662.5,410.2 661.6,408.8M647.1,410.7 648.7,409.4 650.6,408.5 652.3,407.4 653.9,406.1 656,405 658.3,405.9 660.2,407.1 661.6,408.8M633.7,393.9 631.6,393.7 629.5,393.8M633.7,393.9 635.2,395.1 636.9,396.1 638.5,397.4 640.4,397.9 640.3,399.9 640.8,401.9 640.9,404 642.3,405.6M642.3,405.6 642.3,405.6M654.9,382.9 652.9,383.6 651.5,385.2 649.4,385.3 647.4,386.1M654.9,382.9 654.6,380.7 655.1,378.6 656.3,376.6 658.4,375.6M650.8,367.7 652.9,369.5 654.9,371.3 656.8,373.3 658.4,375.6M650.8,367.7 649.7,369.5 647.6,369.7 646.4,371.3 644.5,371.9 642.7,372.7 641.6,374.3 640.1,375.6 639,377.1M647.4,386.1 645.1,385 642.7,384.5M642.7,384.5 641,382.9 639,381.7 638,379.4 639,377.1M635.1,374.9 636.8,376.4 639,377.1M650.7,365.1 650.8,367.7M650.3,397.3 650.4,398.9 649.6,400.3 648.2,401.1 647.6,402.6 646.3,403.5 645.1,404.5 643.5,404.4 642.3,405.6M650.3,397.3 649.3,396.1 648.6,394.7 647.9,393.2 646.7,392.2 647.6,390.8 647.2,389.2 647.4,387.7 647.4,386.1M633.7,393.9 635.3,393.4 636.9,392.8 638.3,391.8 639.6,390.6 640.2,388.9 641.4,387.7 642,386.1 642.7,384.5M598.2,285.3 596.1,283.9 593.9,282.6M598.2,285.3 599.1,286.7 599.2,288.4 599.8,289.9 599.8,291.5 600.1,293.2 599.9,294.8 600.7,296.3 601.5,297.8M593.9,282.6 591.6,284.2 588.8,284.5 587,286.5 585.6,288.9M585.6,288.9 586.5,290.7 587.5,292.6 586.6,294.6 587.1,296.7 586.6,298.7 586.7,300.7 586.4,302.6 586.2,304.6M601.5,297.8 599.5,298.7 597.4,298.7 595.2,299 593.4,300.2 591.2,300.6 589,301 587.4,302.7 586.2,304.6M614.3,279.1 612,279.8 610.1,281.3 608.7,283.2 607.4,285.1 604.4,285.4 602.8,287.8 600.6,286.4 598.2,285.3M591.2,274.3 590.4,276.6 590.7,279 592.5,280.6 593.9,282.6M607.2,301.2 605.7,300.5 604.4,299.4 603,298.6 601.5,297.8M574.7,287.3 577.6,287.6 580.4,286.6 582,286.2 583.6,286.3 585.6,286.9 585.6,288.9M586.2,304.6 586.2,304.6M683.5,490.9 686.1,490.2 688.7,489.7 691.3,488.9 693.9,488.3M693.9,488.3 693.1,490.5 692,492.5 690.8,494.5 690.9,496.9 692.3,498.9 691.8,501.3 692.5,503.5 693.3,505.6M639.3,478.4 640.5,477.2 642.2,476.6 644,476.7 645.4,477.7 647.2,477.4 648.5,476.3 648.9,474.6 649.6,473.1M651.1,488.3 651.7,485.4 652.9,482.6 652.6,481.1 652,479.6 653.5,478.6 653.4,476.7M649.6,473.1 652.4,474 653.4,476.7M661.2,490.3 661.7,488.6 662.1,486.8 662.2,485 663.1,483.5 663.5,481.7 664.3,480.1 664.3,478.2 663.8,476.5M653.4,476.7 656,477.1 658.6,476.7 661.2,477 663.8,476.5M676.3,484.1 676.3,483.8M676.3,483.8 674.3,483 672.9,481.4 671.9,479.3 673.1,477.3 671.7,476.1 670.1,475.3 668.7,473.6 666.7,474.1M663.8,476.5 665.2,475.2 666.7,474.1M228.7,332.9 227.4,335.2 225.5,337.1M229.5,323.4 228.1,322.2 227.8,320.4 227.3,318.6 227.4,316.9M218.8,321.3 218.8,324.2 218.8,327 219.4,329.8 219.3,332.7M218.8,321.3 220.1,319.5 222,318.1 224.2,317.5 225.8,315.7M225.8,315.7 227.4,316.9M214.9,314.9 216.4,316.2 217.6,317.7 218.6,319.3 218.8,321.3M225.8,315.7 225.7,314 225.4,312.3 224.9,310.6 224.2,309 223.3,307.2 221.5,306.3 222.1,304.4 222,302.5M198.6,356.9 199.3,354.9 200.2,353 200.7,351 200.9,348.9 200.2,346.9 199.5,344.8 199.2,342.6 200.1,340.6M212.2,346.9 210.3,346.7 209.4,345 207.8,344.4 206.4,343.5 204.9,342.6 203.4,341.7 201.9,341 200.2,340.5M586.2,184.3 586.5,183.3M586.2,184.3 587.8,185.8 589.4,187.2 591.6,187.6 593.5,188.7 595.9,189 597.1,191.1 598.4,192.8 599.8,194.4M586.5,183.3 587.6,181.6 589.3,180.6 590.5,179.1 591.5,177.5 592.7,176 593.8,174.4 595.7,173.8 597.2,172.5M599.8,194.4 601.7,193.2 603.9,193.9M603.9,193.9 605.8,191.9 607.7,189.9 607,187.2 606.3,184.6 605,181.9 603.7,179.3 606.1,177.4 607.8,175M597.2,172.5 599.8,172.1 602.2,173.3 604.7,172.3 607.2,173.4M607.2,173.4 607.8,175M584,185.6 586.2,184.3M581.8,204.2 582.4,201.8 582.7,199.3 581.2,197.2 580.7,194.6 582.3,192.7 583.6,190.5 582.1,187.9 584,185.6M592.1,205.4 589.5,204 587.3,202 586.2,203.2 585,204.3 583.4,204.1 581.8,204.2M592.1,205.4 593.1,204 594.2,202.7 595.3,201.3 596.8,200.4 597.4,198.8 597.9,197.2 598.9,195.8 599.8,194.4M579.8,169.4 581.4,171.1 581.5,173.4 581.6,175.6 580.5,177.6 581.9,179.5 584.3,179.6 585.1,181.7 586.5,183.3M583.7,164 583.2,165.7 582.1,166.9 581.2,168.3 579.8,169.4M592.2,164.2 594.1,165.8 595.3,168 595.2,170.7 597.2,172.5M625.2,185.9 622.1,184.8 618.8,185.1 618,182.1 617.4,178.9 615.2,177.5 612.9,176.1 610.4,175.6 607.8,175M606.8,195.6 605.4,194.7 603.9,193.9M611.4,166.8 609.8,168.1 608.9,169.9 608,171.6 607.2,173.4M595.4,211.8 594.8,213.4 593.3,214.2 592,215 590.6,215.8 589.4,217.1 588.2,218.3 588.7,220 588.9,221.7M595.4,211.8 597.2,214.2 600.1,214.9 601.4,215.7 603,215.7 604.1,214.5 605.7,214.3M607,219.2 606.6,221.2 606.8,223.2 605.6,224.7 604.1,226 602.7,227.5 601.1,228.5 600.5,230.3 599.7,232.1M607,219.2 607,216.6 605.7,214.3M588.9,221.7 590.4,223.7 591.4,225.9 592.4,228.2 592.7,230.6M592.7,230.6 594.5,230.6 596.3,230.9 598.2,231 599.7,232.1M611.6,205.8 609.8,207.6 608.3,209.8 607.3,212.3 605.7,214.3M592.1,205.4 593.2,207.2 595.2,207.9 595.4,209.8 595.4,211.8M619.5,223.7 617.8,223.5 616.1,223.1 614.4,223 612.7,223 611.2,222.1 609.5,221.6 608.4,220.3 607,219.2M600.4,232.9 599.7,232.1M582.4,238.4 583.1,236.9 584.5,235.8 586.1,235.4 587.3,234.2 588.8,233.5 590.1,232.6 591.4,231.6 592.7,230.6M565,217.6 567.1,219.3 568.4,221.7 570.5,223.3 572.9,224.6M565,217.6 566,215.2 567.2,212.9 566.8,210.3 566.7,207.7M578.6,206.1 578.4,207.9 578.2,209.6 579.4,211 580.6,212.3 580.4,213.9 580.6,215.6 580.3,217.3 581.3,218.8M578.6,206.1 576.4,204.7 574.4,203.1 571.9,203.7 569.5,204.7M572.9,224.6 574.5,222.5 576.4,220.7 578.9,220 581.3,218.8M566.7,207.7 568.9,207 569.5,204.7M555.5,230.8 553.7,228.8 555.2,226.6 555.5,224.6 555.3,222.5M555.3,222.5 557.8,221.4 560.1,219.9 562.4,218.4 565,217.6M572.7,232.7 572.9,230.6 572.1,228.6 572,226.5 572.9,224.6M562.7,237.3 560.5,236.1 558.1,235.1 556.7,233 555.5,230.8M555.3,222.5 554.2,220.7 552.6,219.3 550.8,218.4 549,217.4M549,217.4 548.6,214.6 548.7,211.8 548.4,210.2 548.6,208.6 549.2,206.5 551.3,206.8M551.3,206.8 552.8,208.4 554.8,209.2 556.9,209.5 558.8,210.6 560.9,209.8 562.5,208.3 564.6,208.4 566.7,207.7M581.8,204.2 580.4,205.5 578.6,206.1M588.9,221.7 586.8,221.8 584.6,221.4 583.2,219.7 581.3,218.8M534.2,206 535.2,204.4 536.5,203 538.6,202.5 539.3,200.5 541.6,200 542.3,197.8 544.4,198.3 546.4,197.8M546.4,197.8 546.8,195.8M529.3,188.8 528.5,190.3 528.8,192 528,193.4 527,194.7 526.5,196.2 525.9,197.7 525.5,199.4 524,200.2M529.3,188.8 531.1,190 533,191 535.1,191.5 537.2,191.7 539.3,192.3 541.1,193.6 543.3,194.1 545.4,193.8M524,200.2 525.7,200.4 526.7,201.8 527.6,203.1 528.3,204.5 529.7,205.3 531.1,205.8 532.6,206.6 534.2,206M545.4,193.8 546.8,195.8M529.3,188.8 528.4,186.4 527.9,183.8M540.2,176.3 542.8,176.3 544.4,178.3M545.4,193.8 545.3,191.8 545.6,189.8 546.2,187.9 546,185.9 546,183.9 545.1,182.1 545.3,180.1 544.4,178.3M579.8,169.4 578,168.4 576,169 574.2,169.6 572.3,169.7M572.3,169.7 571.5,168.3 571.1,166.8 570,165.8 568.8,164.8 569,163.2 568.2,161.8 568.1,160.3 568.1,158.8M544.4,178.3 546,178.2 547.5,177.8 549.1,177.9 550.5,177.2 551.1,175.5 552.8,175.2 554.1,174.2 555.4,173.5M555.4,173.5 555.4,171.7 555.3,169.9 554.9,168.1 554.3,166.4 553.9,164.6 553.9,162.8 553.9,160.8 554.9,159.2M467.6,187.7 467.8,189.8 469.6,190.7 469.5,192.6 468.5,194.1 469.7,195.2 470.4,196.7 471.6,197.9 473.2,198.4M481.9,184 481.2,185.6 481.5,187.4 480.8,189.1 479.2,190.1 479.8,191.7 479.9,193.4 481.4,194.4 481.7,196.2M481.7,196.2 479.5,196.4 477.4,197.1 475.6,198.5 473.2,198.4M456.5,199.4 457.4,198.2 458.2,196.8 457.4,195.5 457,193.9 455.9,191.2 457,188.4M459.2,186.8 457,188.4M456.5,199.4 458.1,200.3 459.3,201.7 460,203.4 460.3,205.2 461.9,206.1 463.6,206.6 465.3,206.9 467.1,206.8M473.2,198.4 471.7,200.5 470.6,202.9 468.8,204.7 467.1,206.8M452.8,170.8 451.4,173.2 448.7,174.3 446.7,176.2 445,178.4M457,188.4 454.7,190 452,189.8 449.5,188.5 448.6,185.9M448.6,185.9 448.4,183.6 446.7,182.2 445.8,180.3 445,178.4M437.9,164.6 437.4,166.1 437.9,167.7 438.9,169 438.6,170.7 437.9,172.6 439.4,174.1 438.3,175.5 436.9,176.6M445,178.4 442.9,178.5 440.9,177.8 438.9,177.2 436.9,176.6M420.1,168.1 420.8,170.1 421.8,172 423.8,173.1 424.8,175.1 426.8,176.1 428.3,177.7 430.3,178.5 432.3,179.1M436.9,176.6 434.4,177.4 432.3,179.1M422.4,187.3 424,187.1 425.2,186 426.7,186 428.1,185.5 429.9,183.1 431.8,180.7M418.7,186.6 420.5,187.5 422.4,187.3M432.3,179.1 431.8,180.7M433.6,213.6 432.1,212.9 430.8,211.8 430.1,210.3 429.7,208.7 428.5,207.6 427,207.1 425.9,206.1 424.7,205.1M433.6,213.6 435.4,214 437.1,213.3 438.7,212.8 440.3,212.1 441.4,210.7 442.1,209.1 443.5,208.1 444.9,207M444.9,207 444.4,204.8 446.1,203.3M446.1,203.3 444.6,201.1 442.3,199.7 440.9,197.5 440.5,194.8M437.6,194.1 440.5,194.8M437.6,194.1 436.1,194.4 434.8,195.4 433.4,196 432.3,197.1 431.1,198.4 430.3,199.8 428.6,199.9 426.9,200M424.7,205.1 424.8,203.5 424.5,202 425.6,200.9 426.9,200M412.4,222.1 413.6,224.1M420.4,205.9 422.4,205.1 424.7,205.1M433.6,227.8 433.3,225.7 434.3,223.9 432.8,222.5 431.9,220.7 432.4,218.9 432.9,217.2 432.8,215.3 433.6,213.6M455.7,220 454.2,218.3 452.1,217.6 451,215.7 449.1,214.5 447.9,212.8 446.7,210.9 445.4,209.2 444.9,207M461.6,217.2 462.9,216.1 464.1,214.9 464.1,213.2 463.5,211.6 464,210 464.2,208.4 465.8,207.8 467.1,206.8M456.5,199.4 454,200.9 451.2,201.1 448.3,201.4 446.1,203.3M467.1,206.8 467.1,206.8M448.6,185.9 447.2,186.5 446.1,187.6 445.1,188.9 444.6,190.4 444.5,192.1 443.2,193.2 441.8,193.9 440.5,194.8M431.8,180.7 433.6,181.6 434.9,183.1 435.2,185.1 436.7,186.5 438.3,188.3 440,190 438.2,191.7 437.6,194.1M422.4,187.3 423.5,188.7 424.1,190.4 424.1,192.1 424.1,193.9 425.4,195.1 426,196.7 426.2,198.5 426.9,200M376.1,144.9 373.7,145.4 371.4,146 369.9,147.8 368.9,150M382.4,147.5 382.5,149 382.7,150.6 382.5,152.3 383.9,153.4 383.8,155.1 384.8,156.4 384.2,157.9 384.5,159.5M384.5,159.5 383,161 381.2,162.2 381,164.4 381.3,166.5 379.9,167.8 378.3,169.1 376.3,169.1 374.6,170.2M368.9,150 369.1,152.1 368,154 366.5,155.6 366.5,157.8M373.7,170.3 374.6,170.2M373.7,170.3 372.4,168.1 370.5,166.4 368.7,164.5 367.3,162.4M367.3,162.4 367.1,160 366.5,157.8M358.5,138 359.9,139.8 361.6,141.2 360.9,143.5 361.9,145.6 363.5,147 365,148.4 367.3,148.5 368.9,150M389.3,163.4 388.1,162.3 386.5,162 385.4,160.8 384.5,159.5M383.5,183.8 383.2,181.7 382.1,179.9 380.6,178.4 379,177 377,175 378.5,172.5 376.4,171.6 374.6,170.2M354.9,155.3 355.7,153.6 355,151.8 355.1,149.9 356.4,148.5 355.5,147 355,145.3 354.9,143.6 354.6,141.8M354.9,155.3 357.9,155.4 360.8,156.2 363.7,156.6 366.5,157.8M368.2,181.7 369.3,180.4 370.4,179 369.8,177.3 370,175.6 371.3,174.4 372.9,173.7 372.9,171.9 373.7,170.3M359.4,175.9 359,173.8 359.3,171.7M359.3,171.7 360.3,170.4 361.8,169.8 362.5,168.4 363.4,167.1 364.3,165.8 364.8,164.3 366.2,163.5 367.3,162.4M359.3,171.7 358.4,170.4 357.8,168.9 357,167.5 356.4,166 355.1,165.1 354.2,163.6 353.6,162.1 352.3,161.1M354.9,155.3 354.3,156.8 353.3,158.1 352.9,159.6 352.3,161.1M354.1,186.8 352.5,188.5 351.1,190.4M362,201 360.9,202.1 359.8,203.1 359.3,204.6 359.4,206.2M353.2,209.2 354.7,208.3 356.3,207.6 357.8,206.7 359.4,206.2M353.2,209.2 352,208 350.7,206.8 350,205.3 349.9,203.5M349.9,203.5 349.5,201.5 350.9,200 350.2,198.2 348.9,196.8 349.9,195.4 350.6,193.8 350.4,192.1 351.1,190.4M342.7,145.6 343.7,147.4 344.2,149.4 344.5,151.5 344.1,153.5 344.4,155.7 343.2,157.6 343.7,159.7 344.9,161.4M331.7,155 333.1,157.1 333.9,159.5 335.7,161.4 336.4,163.8M344.9,161.4 343.1,162.8 340.9,163.6 338.6,162.8 336.4,163.8M352.3,161.1 350.2,162.9 347.5,163.8M344.9,161.4 345.9,162.9 347.5,163.8M354.2,183.7 353,182.6 352.4,181 351.6,179.5 350,178.9 349.5,177.4 348.8,176 347.8,174.8 347.1,173.3M347.5,163.8 347,166.7 344.7,168.5 345.3,171.2 347.1,173.3M326.3,174.7 328.4,174.4 330.6,173.8 332.7,174.4 334.7,175.2M336.4,163.8 336.7,165.3 337.4,166.7 336.4,168.1 336.9,169.7 336.1,172.6 334.7,175.2M269.7,370 270.5,371.9 270.6,374 271.7,375.6 272.6,377.5 271.2,379.2 269.2,380.3 269.5,382.5 269.1,384.6M279.1,385.6 278.8,383.4 280.1,381.6 280.1,379.5 280.3,377.4 279.3,375.5 279.7,373.3 279.6,371.3 279.8,369.2M269.7,370 271.8,368.7 274.3,368.2 276.7,368.2 279.2,368.4M279.2,368.4 279.8,369.2M269.7,370 268.4,367.9 267.2,365.7M259.4,383.7 260.5,382.1 262,380.7 261.6,378.7 260.7,377 260.9,375.2 260.5,373.5 260.6,371.7 261.3,370.1M261.3,370.1 262.3,368.3 263.2,366.5 265.4,367 267.2,365.7M268.3,351.5 269.2,349.4 267.8,347.5 267.7,345.5 267.7,343.4 267.4,341.3 268.6,339.5 269.7,337.7 269.4,335.5M268.3,351.5 270.6,351.8 272.9,351.8 275.2,352 277.5,352.2M279.4,347.9 279.4,350.4 277.5,352.2M279.4,347.9 278,346.5 276.9,344.8 275.8,343 276.1,341 276.5,339 277.7,337.3 277.9,335.3 277.3,333.4M269.4,335.5 271.1,335 272.5,333.7 273.9,332.7 275.7,332.1M277.3,333.4 275.7,332.1M263.6,328.6 263.3,331.1 261.6,332.9 259.9,334.5 258.2,336.1 259.1,338.6 257.6,340.8 258.5,343 258.3,345.4M258.3,345.4 259.5,347.3 258.9,349.4M263.6,328.6 265,330.5 267.1,331.6 268.1,333.6 269.4,335.5M258.9,349.4 261.1,350.3 263.3,350.8 265,352.5 266.8,353.9M266.8,353.9 268.3,351.5M279.2,368.4 278.5,366.3 279,364.2 278.3,362.2 277,360.4 276.5,358.4 277,356.3 276.5,354.1 277.5,352.2M266.8,353.9 267.1,355.4 267.7,356.8 267.7,358.3 267.4,359.8 268.1,361.3 268.5,362.8 267.2,363.9 267.2,365.7M247.7,337.9 247.3,336.3 246.8,334.8 245.6,333.7 244.5,332.6 243.7,331.2 243.1,329.8 242.4,328.4 241.8,326.9M247.7,337.9 247.3,339.9 248.5,341.5 248.4,343.4 248.2,345.2 247.7,347.1 246,348.2 246.3,350.3 244.7,351.7M235.4,337.1 234.2,338.5 233.6,340.3 232.8,342 233,343.9 234.1,345.3 235.7,346.3 236.6,347.8 237.5,349.4M244.7,351.7 243,350.8 241.2,350.1 239.2,350.5 237.5,349.4M226.9,354 228.5,354.6 230.2,354.7 231.9,355.8 233.6,354.6M233.6,354.6 234.8,353.5 235.4,351.9 236.3,350.5 237.5,349.4M233.6,354.6 232.9,356.9 232.1,359.1 233.2,361.4 232.5,363.9 233.5,366 233.8,368.4 234.4,370.7 236.2,372.4M227.4,316.9 229.2,314.7 230.6,312.2 231.4,309.5 232,306.8M237.1,319.5 237.3,316.9 236.8,314.3 235.8,311.8 236.7,309.1M236.7,309.1 234.6,307.5 232,306.8M232,306.8 232.6,305.2 232.9,303.5 232.8,301.8 233.2,300.1 233.4,298.1 231.7,297 230.3,296 229.1,294.7M474.8,376.9 476.6,375.8 477.8,374.2M459.9,361.5 461.4,360.3 463.4,360.5 464.2,358.7 465.9,357.8 467.7,357.7 469.5,358 471,359.1 472.7,359.9M472.7,359.9 473.5,361.7 473.8,363.6 473.8,365.6 473.9,367.5 474.5,369.4 475.4,371.1 477.2,372.2 477.8,374.2M423.6,314.9 424.2,312.8 423.7,310.6M440.9,302.8 441.5,304.2 442.1,305.5 442.6,307 443,308.4 442.6,310.1 443.1,311.7 444.3,312.8 445.3,314M429.7,321.9 431.1,321.2 432.6,320.9 434.1,320.4 435.2,319.4 436.8,319.4 438.4,319.3 439.8,319.9 441.2,320.6M445.3,314 444,316 444.7,318.2 442.9,319.4 441.2,320.6M440.2,340.5 442.7,338.9 445.3,337.4 446,336 446.8,334.7 447,333.2 446.8,331.6M441.2,320.6 441.1,322.3 441.2,323.9 441.9,325.4 442.3,327 443.8,327.7 444.7,329.1 445.9,330.2 446.8,331.6M458.7,347.5 457.2,349.5M458.7,347.5 459.9,345.5 459.1,343.2 457.8,341.6 456.2,340.2 455.9,338.3 455.7,336.3 455,334.5 454.6,332.6M446.8,331.6 448.7,332.3 450.6,332.4 452.6,332.1 454.6,332.6M456.2,313.5 453.5,312.8 450.8,313.6 448.1,314.1 445.3,314M445.1,297.2 447,297.6 448.7,298.5 450.6,298.6 452.4,299 454.5,299.1 456.1,300.3 458,299.6 459.9,299.1M456.2,313.5 458.2,312 460.3,310.7 461.4,308.4 461.8,305.9M459.9,299.1 460.2,301 461.6,302.3 461.5,304.1 461.8,305.9M472.7,359.9 473.2,357.4 473.7,355 475.8,353.6 477.8,352.1M458.7,347.5 460.2,347.5 461.8,347.4 463.2,346.3 464.8,347.3 466.2,346.2 466.8,344.6 468.5,344.4 470.2,344.6M470.2,344.6 471.5,347.1 472.7,349.7 474.9,351.7 477.8,352.1M479.7,313.9 481.9,315.1 483.3,317.2 485.7,318.1 487.6,319.7 489.2,321.7 489.9,324.1 490.2,326.6 491.4,328.8M479.7,313.9 481.8,312.2 483.7,310.3 486.3,309.7 488.9,309.1M488.9,309.1 490.4,310.4 492.3,311.4 494.1,310.3 496.2,310.6 497.9,311.5 499.3,312.7 501,313.7 502.8,314.1M502.8,314.1 500.7,315.4 499.1,317.4 496.8,318.3 494.4,319.2 494.9,321.7 494.2,324.1 492,325.9 492.4,328.7M492.4,328.7 491.4,328.8M515.3,320.3 513.7,319.6 512.3,318.4 510.6,318 508.9,317.5 507.8,316 506.1,315.4 504.5,314.8 502.9,314.1M502.9,314.1 502.8,314.1M507.1,336.5 504.7,336 502.4,336.7M502.4,336.7 501.5,335.3 500.4,334.1 499,333.2 498.1,331.8 496.5,331.3 495,330.7 494,329.3 492.4,328.7M519.7,301 517.7,300.7 515.9,299.8 514.3,301 512.8,302.4 511,302.9 509.3,302.4 507.6,301.7 505.8,301.8M502.9,314.1 503.6,311.2 504.4,308.3 504.5,305.4 505.1,302.4M505.8,301.8 505.1,302.4M516.3,284.6 514.1,284.2 511.9,283.7 509.9,285.4 507.4,284.4M505.8,301.8 506.2,299.5 507,297.3 506.7,294.8 505,293 504.9,290.5 504.2,288.1 505.9,286.3 507.4,284.4M488.9,309.1 489.3,307.2 488,305.7 488.9,304.1 488.4,302.3 489.1,300.7 490.1,299.3 491.1,297.7 490.8,295.9M505.1,302.4 503.1,301.3 502.1,299.3 500,300 497.8,299.5 495.9,298.9 494.4,297.6 492.8,296.2 490.8,295.9M503.7,271.7 503.9,273.3 503.9,274.8 503.8,276.4 503.9,278 505.2,279.1 506.4,280.3 506.3,282 506.5,283.7M518.9,265.6 520.1,266.6 521.1,267.8 521.5,269.5 523,270.3M506.5,283.7 507.4,284.4M505.5,391.2 504.7,389.2M505.5,391.2 503.9,392.7 502.4,394.2 501.2,396.3 501.8,398.5 500.9,400.5 499.1,401.8 497,402.3 495.3,403.6M495.3,403.6 492.9,402.3 490.5,400.8 487.8,400.3 485.1,399.9M484.8,392.6 486.9,392.4 487.6,390.4 487.5,388.6 488.2,386.8 489.9,386.6 491.4,385.9 493,385.2 494.3,384.1M504.7,389.2 503.1,387.9 503.5,385.9 501.7,385.8 500,385.6 498.7,384.9 497.3,384.2 495.8,384.5 494.3,384.1M519.9,373.6 518,373.5 516.2,372.6 514,372.5 512.7,374.3M526.8,385.6 525.9,387.4 525,389.3 524.3,391.3 524,393.3 521.6,392.8 519.2,393.2 517.7,395 516.6,397.1M516.6,397.1 515.2,397.2M505.5,391.2 506.8,392.4 507.9,393.7 509.6,393.7 511.2,392.9 512.4,393.8 513.8,394.5 514.7,395.8 515.2,397.2M504.7,389.2 504.9,387 506.1,385.1 507.6,383.6 509.1,382 508.8,379.7 509.9,377.7 511,375.7 512.7,374.3M478.7,374 477.8,374.2M478.7,374 480.4,375.5 482.6,376 483.8,378.1 486.1,378.7 487.2,381 489,382.7 491.4,382.8 493.9,383M493.9,383 494.3,384.1M537.8,413.4 537.4,415.4 536.9,417.3 536.6,419.3 535.5,421 533.8,422.3 532,423.6 532.1,425.8 531.5,427.9M531.2,406.8 533,408.5 533.8,410.9 535.9,411.9 537.8,413.4M531.5,427.9 528.7,427.8 526,428.7M529.8,406.8 528.1,408 527.9,410.1 526.1,411.1 525.5,413.1 524.2,414.6 522.5,415.6 521.3,417.1 519.9,418.4M531.2,406.8 529.8,406.8M519.9,418.4 520.8,419.7 521.3,421.3 522.8,421.8 523.8,423.1 524.7,424.4 524.7,426 525.4,427.3 526,428.7M557.9,420.5 555.3,419.7 552.7,419.3M557.9,420.5 557.8,423.6 559.3,426.2 557.3,428.4 556.6,431.3 558.2,433.6 559,436.2 559.9,438.8 560.3,441.5M552.7,419.3 552.3,421.8 552.3,424.4 550.1,426 549.6,428.7 547.6,430.1 545.3,431 542.9,431.8 540.9,433.3M560.3,441.5 559.2,442.3M559.2,442.3 556.9,442.1 554.7,441.6 552.6,442.8 550.2,443 547.7,443.3 545.6,441.9 543.9,440.2 542.5,438.3M542.5,438.3 541.7,435.8 540.9,433.3M564.8,417.4 562.6,417.6 561.6,419.6 559.7,420 557.9,420.5M570.9,441.6 569.3,441.7 567.7,442 566.9,443.4 565.6,444.4 564.1,443.9 562.7,443.4 561.2,442.9 560.3,441.5M531.5,427.9 534.5,428.4 536,430.9 538.1,432.9 540.9,433.3M548.1,414.5 545.5,414.8 542.9,414.7 540.3,414.1 537.8,413.4M548.1,414.5 550.2,415 550,417.2 551.1,418.6 552.7,419.3M553.7,462.9 554.5,460.4 555.3,457.8 556,455.3 556.5,452.6 558.4,450.3 560.4,448.1 560.8,445 559.2,442.3M534.1,451.6 536.5,450.8 538.8,449.9 541.2,448.9 543.7,448.3 543,445.8 543.4,443.2 543.8,440.6 542.5,438.3M547.9,464.8 545.1,464.7 543.8,462.2 541.9,460.8 539.8,459.4 538,457.7 537.3,455.3 536.1,453.1 534.1,451.6M385.7,203.9 384.7,205.3 384.3,207 383.3,208.5 383.5,210.3 383.7,212.1 383,213.7 382.6,215.3 381.7,216.8M372.1,206.1 373.4,207.6 374.3,209.3 373.6,211.1 372.4,212.6 373.4,214 373.9,215.6 373.9,217.4 373,219M381.7,216.8 379.6,217.7 377.4,218.1 375.3,219.2 373,219M358.4,237.9 358,235.6 357,233.4 355.8,231.4 355.5,229M355.5,229 356.6,227.9 357.9,227.1 358.6,225.7 359.8,224.7 360.8,223.5 362,222.5 363.6,222.2 364.8,221.1M358.4,237.9 360.8,238.6 362.9,240M364.8,221.1 366.7,220.5 368.6,219.8 369,222 371.1,222.9M372.3,232.3 372.6,231M372.6,231 371.7,229.1 371.5,227 371,225 371.1,222.9M359.4,206.2 359.6,208.2 360.2,210.1 360.7,212.1 361.5,213.9 360.8,216.1 361.5,218.3 363.5,219.4 364.8,221.1M371.1,222.9 372.2,221 373,219M381.7,216.8 383.2,218.3 383.9,220.3 385.2,222 387.2,222.7M392.5,203.9 392.8,205.7 392,207.2 391.4,208.9 392,210.6 392.2,212.2 392.5,213.9 393.4,215.3 393.5,217.1M387.2,222.7 388.3,220.5 390.7,220.3 391.7,218.4 393.5,217.1M406.4,219.8 403.7,220.6 401.3,221.8M401.3,221.8 399.2,220.8 397.6,219 395.5,218.2 393.5,217.1M385.2,243.6 384.5,240.9 383.1,238.5 383.7,235.7 384.8,233.2M385.2,243.6 386.8,244.8 388.7,245.2 389.8,246.9 391.3,248.1M394.6,247.4 393,248.2 391.3,248.1M394.6,247.4 395.5,246.1 396.1,244.6 396,243 395.5,241.5 396.1,240 397.4,239.1 397.3,237.5 398.1,236.1M398.1,236.1 398.2,234.2 396.6,233.1M396.6,233.1 394.1,234.2 391.5,233.3 388.9,232.5 387.3,230.3M384.8,233.2 385.9,231.6 387.3,230.3M375.6,251 377.3,250.9 379,250.6 380.8,250.7 382.4,249.9 383.1,248.2 383,246.4 384.5,245.3 385.2,243.6M372.6,231 374.5,230.6 376.3,231.1 377.6,229.7 379.3,228.9 380.4,230.3 381.5,231.7 383.2,232.4 384.8,233.2M401.8,254.1 400.7,251.8 398.5,250.4 396.1,249.4 394.6,247.4M401.9,257.4 400.4,258.3 399.5,259.7 399.2,261.4 399.3,263.1 398.5,264.7 396.7,264.9 395.5,265.9 393.9,266.2M393.9,266.2 392.8,263.9 391.8,261.6 389.4,261 386.9,260.7M386.9,260.7 387.2,259 387.7,257.4 387.9,255.7 388,254 389.8,253.3 390.8,251.7 391.2,249.9 391.3,248.1M409.8,238.5 409.2,236.8 407.4,236.3 405.9,235.9 404.4,235.2 403,236.2 401.4,236.8 399.6,237 398.1,236.1M401.3,221.8 401.6,223.9 400,225.2 398.1,225.4 396.7,226.5 396.1,228.1 395.6,229.8 395.6,231.6 396.6,233.1M387.2,222.7 387.4,224.8 386.3,226.5 387.6,228.2 387.3,230.3M393.9,266.2 395.1,267.5 395.3,269.3 394.1,270.8 394.6,272.6M410.9,266.6 409.3,268.2 408.5,270.3 408.9,272.7 407.4,274.7M394.6,272.6 396.3,273.1 398,272.9 399,274.6 400.8,275.1 402.5,274.8 404.1,275.3 405.8,275.2 407.4,274.7M419.6,284.3 418.1,283.9 416.6,283.7 415.5,282.7 414.2,281.9 412.5,282.2 411,281.7 409.5,281 408.7,279.5M407.4,274.7 407.9,277.1 408.7,279.5M386.9,260.7 384.6,259.1 382.4,260.7 380.3,261.5 378.2,262.3M375,253.1 376,255.2 376.1,257.4 376.3,259.7 377.3,261.7M377.3,261.7 378.2,262.3M352,253.2 353.3,251.3 352.8,249 353.6,247 355.2,245.5 356.5,243.8 358.1,242.2 358.7,240.1 358.4,237.9M365.8,251.8 363.8,253.5 361.5,254.7 361.1,257.4 359.5,259.5M352,253.2 352.2,254.6M359.5,259.5 357.2,259 355.2,257.9 353.6,256.3 352.2,254.6M341.1,272 343.1,272.1 345,272.4 346.9,271.8 348.9,271.6M341.2,258.9 340.7,260.9 342,262.6 341.2,264.4 339.5,265.4 340.1,267.3 341.7,268.4 341.9,270.3 341.1,272M341.2,258.9 344,258.4 345.6,256 348.3,255.3 350.8,256.6M348.9,271.6 348.8,269.6 347.9,267.8 348.5,265.9 348.1,263.9 348.1,261.9 348.9,260.1 350.7,258.8 350.8,256.6M339.1,275.1 340.2,273.6 341.1,272M341.2,258.9 340.6,258.1M339.1,275.1 336.5,275.7 334,274.9M334,274.9 333.2,273.2 332.2,271.7 332,269.8 332,268 331.3,266.1 332.1,264.4 331.8,262.6 331.4,260.8M340.6,258.1 338.3,259 335.8,259.1 334.1,261.3 331.4,260.8M352,253.2 351.1,252 350.3,250.6 349.5,249.3 348.5,248.2 348,246.7 347.5,245.3 346.5,244 346.1,242.5M352.2,254.6 350.8,256.6M346.1,242.5 344.2,243.1 342.7,244.4 340.9,245 339.2,246.1M340.6,258.1 340.4,256.6 340.7,255 339.8,253.7 339.8,252.1 340.2,250.5 339.5,249.1 339,247.6 339.2,246.1M263.6,328.6 263.4,327.7M250.7,336.3 252.6,338.7 254.3,341 256,343.5 258.3,345.4M250.7,336.3 250,334.7 251,333.3 251.6,331.9 252.8,330.8 253.5,329.5 254.3,328.2 255,326.8 254.5,325.2M254.5,325.2 256,325.7 257.5,326.4 258.4,327.8 258.1,329.5 260.9,329.1 263.4,327.7M274,314.8 271.7,315.6 269.5,314.6 267.5,315.7 265.3,316.3M274,314.8 275.5,316.6 276.5,318.7 275.9,321 276.8,323.3 275.7,325.4 274.4,327.5 275,329.8 275.7,332.1M263.4,327.7 262.9,326.2 261.9,324.9 262.8,323.4 262.8,321.8 263.1,320.2 263.2,318.7 264.4,317.6 265.3,316.3M269,293.6 270.4,292.2 272,291 273.7,289.4 273.1,287.2 273.1,285.2 273,283.3 272.9,281.2 274.2,279.6M269,293.6 270.3,295 271,296.9 272.7,298 273.7,299.7M273.7,299.7 274.4,297.8 276.3,296.9 278.2,296.4 280.1,296.7M274.2,279.6 275.8,281.6 277.6,283.4 279,285.5 280.4,287.7M280.4,287.7 281.3,289.9 280.3,292.2 279.3,294.4 280.1,296.7M274.2,314.4 275.6,312.8 276.9,311.2 277.1,309 277.4,306.9 277,304.9 276,303.1 274.5,301.6 273.7,299.7M274,314.8 274.2,314.4M267.3,293.9 266.7,296 267.1,298.2 266.6,300.3 265.5,302.2 264.8,304.3 265,306.5 264.2,308.5 263.5,310.5M267.3,293.9 269,293.6M265.3,316.3 265.1,314.5 263.5,313.7 262.7,312.1 263.5,310.5M280.6,313.4 278.9,313.2 277.5,314.3 275.9,314.3 274.2,314.4M283.4,301.2 284.1,303.1 282.5,304.3 283.2,305.9 283.1,307.5 282.6,309.3 283.1,311 282.3,312.6 280.6,313.4M283.4,301.2 281.9,298.9 280.1,296.7M286.2,281.2 286.4,278.4M274.2,278.8 274.2,279.6M286.2,281.2 284.2,282.4 281.9,283.2 280.8,285.3 280.4,287.7M290.1,292.4 289.2,291.1 288.3,289.8 288.4,288.2 288.4,286.7 287.5,283.9 286.2,281.2M288.3,300.7 287.7,298.4 289.2,296.5 289.5,294.4 290.1,292.4M288.3,300.7 285.9,301.2 283.4,301.2M285.8,220.4 287.8,222.2 289.7,224M280,235.6 282,235.3 284.1,234.8 286,235.5 288.1,235.8M289.7,224 289.6,225.5 289.7,227.1 290.1,228.5 290.1,230 289.4,231.4 288.5,232.7 289.2,234.4 288.1,235.8M660.2,266.8 658.1,268.9 657,271.6M657,271.6 659.2,273.1 660.8,275.1 662.6,277 664.6,278.6 665.5,281.1 665.1,283.7 664.4,286.4 665.6,288.9M671.4,266 673.2,266.9 675,267.9 676.6,269.3 677.7,271 676.8,272.9 677,275 677.5,277 677.8,279M677.8,279 676.3,281.2 676.5,283.8 674.8,285.6 673.1,287.5M673.1,287.5 671.1,286.1 669.3,287.7 667.1,287.5 665.6,288.9M647.3,275.1 650.1,274.4 652.9,275.3 655,273.5 657,271.6M660.2,295.5 661.6,293.7 662,291.4 663.4,289.6 665.6,288.9M689.4,277.5 688,278.2 686.5,278.6 685.1,278.1 683.5,277.7 682.3,278.7 680.9,279.5 679.4,278.8 677.8,279M683.2,296.9 681.4,296.2 680.6,294.5 679.5,293.1 677.8,292.5 676.5,291.4 675.7,289.8 674.1,289 673.1,287.5M560.5,398.7 560.8,396.7 560.2,394.8 561,393.1 562.2,391.6M560.5,398.7 558,399.4 555.4,399.9 553.1,401.1 550.5,401.5M562.2,391.6 559.3,390.8 556.8,389.3 556.3,387.8 556,386.3 554.9,385.3 553.7,384.3M550.5,401.5 549.1,400.3 547.2,400.3 546.1,398.7 544.1,398.8 542.6,397.6 541,396.5 540.2,394.6 540.8,392.7M553.7,384.3 551.8,384.5 550,384.4 548.2,385.1 547,386.6 545.1,386.2 543.1,386.3 541.5,387.6 540.5,389.3M540.5,389.3 540.6,391 540.8,392.7M566,405.8 564.8,403.6 564.6,401.1 562,400.8 560.5,398.7M570,387.8 568.1,388.9 566,389.4 564.4,391 562.2,391.6M548.1,414.5 546.9,412.9 546,411.2 546.7,409.2 545.6,407.3 546.9,405.7 548.8,405 550.2,403.5 550.5,401.5M556.3,374.3 557.1,377.1 555.3,379.3 554.8,381.9 553.7,384.3M531.2,406.8 533.4,405.6 535.8,405.1 535.4,402.5 537.1,400.4 537,398.2 538,396.1 540.1,395 540.8,392.7M538,386.8 539.2,388 540.5,389.3M529.8,406.8 528.3,405.1 526.1,404.7 524.9,402.9 523.7,401.2 521.9,400.3 520.2,399.2 518.3,398.4 516.6,397.1M842.8,415.3 843.6,413.7 843.3,411.9 843.7,410 842.6,408.4 842.1,406.5 840.2,406 838.6,405.1 837.5,403.8M825.1,415.5 824.9,413.9 825.3,412.3 825.3,410.7 825.4,409.1 827.2,408.3 828.8,407.4 828.8,405.5 828.7,403.6M837.5,403.8 835.1,403.6 833.1,404.9 831.1,403.5 828.7,403.6M827,382.7 826.6,384.3 825.3,385.4 823.7,386 822.7,387.4 822,389.1 820.3,389.9 818.5,389.9 816.8,389.6M823.2,398.9 820.7,397.2 819.7,394.4 818.5,393.3 817,392.7 816.4,391.2 816.8,389.6M827,382.7 827.5,385.2 828.2,387.6 829.4,389.9 830.6,392.1M823.2,398.9 825.2,399.3M830.6,392.1 829,393.9 828.5,396.2 827.2,398.1 825.2,399.3M793,448.2 794.6,449.9 796.1,451.6 798.2,452.4 800.5,452.6M793,448.2 792.1,445.7 790.9,443.3 791.2,440.6 790.6,438M800.5,452.6 801.1,450.1 802.5,448 805,447.1 806,444.7M806,444.7 806.2,442 805.5,439.4 805,436.7 803.3,434.6M790.6,438 792.3,438.1 793.9,437.9 795.5,437.2 797.1,436.9 798.7,436.1 799.8,434.7 801.5,434.7 803.3,434.6M814.6,444.5 812.7,443.1 810.3,443.3 808.2,444.2 806,444.7M802.2,459 803.4,457.4 802.9,455.4 802.3,453.5 800.5,452.6M806,429.1 808.1,430.1 810.2,431.1 812.1,429.7 814.5,429.6M806,429.1 805.4,430.6 804.9,432 804.3,433.4 803.3,434.6M797,467.3 795.5,467.6 794,467.6 792.4,467.7 790.9,468.1 789.6,467.3 788.1,466.8 786.4,466.6 785.6,465.1M793,448.2 790.7,449 788.2,449.6 786.1,450.8 784.1,452.3M785.6,465.1 785.5,463.5 785.4,461.8 785.2,460.1 784.3,458.7 784.1,457.1 784.3,455.5 784.4,453.9 784.1,452.3M830.3,357.4 831.2,358.9 831.1,360.6 829.8,361.7 829.2,363.3 828.8,365.1 828.9,366.9 830.7,367.5 832.1,368.7M832.1,368.7 830.4,370.5 828.3,371.9 827.1,374.1 826,376.2M818.2,359.7 819.4,361.4 819.8,363.4 819.9,365.5 819.1,367.4 819.8,369.2 820.6,371 821,372.9 822.3,374.4M826,376.2 823.9,375.8 822.3,374.4M843.2,372.2 841.9,371 840.2,370.8 838.6,371.3 837.1,372.2 835.8,371.4 834.2,371 833.1,369.9 832.1,368.7M843.5,372.6 841.7,374.8 840.9,377.6 838.6,379.3 836.8,381.4M827.7,380.8 826.5,378.7 826,376.2M836.8,381.4 834.4,381 832.4,379.6 829.9,379.6 827.7,380.8M813.4,388.9 815,389.6 816.8,389.6M827.7,380.8 827,382.7M813.3,376.4 811.6,377.8 810.3,379.6 810.4,381.9 810.3,384.1M813.3,376.4 815.6,375.9 817.7,374.8 819.9,373.7 822.3,374.4M810.3,384.1 812,386.4 813.4,388.9M802.5,383.1 805.1,383.1 806.1,385.6 807.9,384.1 810.3,384.1M813.3,376.4 813.3,374.8 812.9,373.2 812.1,371.8 811,370.6 809.8,369.4 809.4,367.7 807.7,367.4 806.4,366.3M802.5,383.1 800.5,382.9 799.3,381.2 798.7,379.5 797.7,377.9 797.4,376.2 797.4,374.4 797.5,372.7 796.9,371M654.9,382.9 656.2,384.1 657.4,385.2 658,387 659.7,387.7 661.5,388 662.9,389.2 663.4,391 664.8,392.1M650.3,397.3 652.9,398.1 655.6,398.8 658.3,399 661,399.7M664.8,392.1 664.1,394.2 663.6,396.3 662.7,398.3 661,399.7M661.6,408.8 663.2,406.6M663.2,406.6 662,405.2 661.5,403.3 661.6,401.4 661,399.7M658.4,375.6 660.3,374.8 662.4,374.6M656,359.4 657.7,360.4 659.4,361.5 661.3,360.6 663.4,360.7M662.4,374.6 663.3,373 664.1,371.4 665.3,370 666.2,368.3M663.4,360.7 664,362.6 664.1,364.7 665.6,366.2 666.2,368.3M669.3,345.1 669,347.2 669.6,349.2 669.9,351.3 671.6,352.7M663.4,360.7 663.9,359.1 664.9,357.9 666.5,357.4 668.1,357.3 670.3,355.4 671.6,352.7M693.3,351.3 690.5,350.5 687.6,350.7 684.5,350 682.8,347.3 680.6,349.1 678.9,351.3 677.2,353.6 674.6,354.9M671.6,352.7 672.9,354 674.6,354.9M649.8,469.4 651.5,468.8 653.3,468.6 655.1,468 656.3,466.7 657.7,465.5 658.9,464.3 660.2,463 660.9,461.3M649.8,469.4 648.2,467.1 647.3,464.4 644.6,463.5 642.1,462.1M660.9,461.3 659.4,459.9 658.3,458.2 657.7,456.2 656.5,454.6 654.5,454.6 652.5,454.3 650.6,453.3 648.5,453.4M642.1,462.1 642,460.5 642.8,459.2 644.4,459.4 645.8,458.6 646,456.1 646.7,453.7M646.7,453.7 648.5,453.4M661,461.3 662.4,462.3 663.6,463.5 665,464.5 666.8,464.7 668.2,466.1 669.1,467.9 668.7,469.9 667.3,471.3M666.7,474.1 667.3,471.3M661,461.3 660.9,461.3M649.6,473.1 649.7,471.3 649.8,469.4M632.6,465.4 635.3,465.2 637.2,463.4 639.8,463.4 642.1,462.1M657.4,441.6 658.9,442 660.1,442.9 661.2,444 661.9,445.4 664.1,447.3 666.5,449M667.1,453 666.9,451 666.5,449M667.1,453 665.2,454.9 663.2,456.5 661,458.4 661,461.3M657.4,441.6 655.8,442.6 654.5,444 653.7,445.7 652.3,447 651.3,448.7 651,450.6 650.4,452.6 648.5,453.4M633.9,441.1 636.4,441.4 637.8,443.5 639.6,445 640.7,447 641.3,449.4 642.3,451.6 644.8,452 646.7,453.7M657.4,441.6 656.7,439.1M656.7,439.1 655,437.6M214.4,337.1 214.3,335.4 213.7,333.9 212.2,332.8 211.8,331.1 210.9,329.7 209.5,328.7 209.3,327 208.3,325.6M568.9,174.6 567.7,173 566.4,171.5 564.5,172 562.6,172.5 561,172.9 559.4,173.3 557.9,174.2 556.2,174.1M568.9,174.6 569.7,176 569.6,177.6 569.9,179.1 570.3,180.6 571,182 572,183.1 573,184.3 573.8,185.6M556.2,174.1 557.4,176 558.7,177.9 557.8,180.2 558.6,182.5 559.2,184.6 559.1,186.9 560.3,188.8 560.5,191M573.8,185.6 571.5,187.3 570.6,190.1 568,191.2 565.6,192.6M565.6,192.6 563.1,191.6 560.5,191M572.3,169.7 571.5,171 570.9,172.3 569.6,173.2 568.9,174.6M555.4,173.5 556.2,174.1M584,185.6 583.5,187.2 582.1,188 580.4,187.9 578.9,188.5 577.9,187.4 576.8,186.2 575.4,185.5 573.8,185.6M546.8,195.8 547.8,193.8 548.5,191.7 550.3,190.4 552.1,189.1 554.3,189 556.4,189.9 558.5,190.2 560.5,191M569.5,204.7 568.6,203.4 567.8,202 567.6,200.4 566.8,198.9 566.6,197.3 566.2,195.8 566,194.2 565.6,192.6M551.3,206.8 550,204.6 549.1,202.2 547.2,200.3 546.4,197.8M498.3,188.7 497.2,190.1 497.9,191.8M481.7,196.2 482.9,196.8M497.9,191.8 495.9,192.3 494.4,193.7 492.4,194.4 490.9,195.9 489.1,197 487,197.5 484.9,197.3 482.9,196.8M340.1,196.2 340,194.1 340.9,192.2 342.4,190.9 343.9,189.4M340.1,196.2 338.4,196 337,195.1 335.7,193.9 333.9,193.7M333.7,193.2 333.5,190.9 333.7,188.7 332.6,186.7 331.3,184.9 332.6,183 332.7,180.7 334,179 335.5,177.4M333.7,193.2 333.9,193.7M343.9,189.4 342.9,188.1 341.4,187.4 342.6,186.1 342.7,184.4 343.3,181.9 342.8,179.3M342.8,179.3 341,178.9 339.1,178.6 337.3,178 335.5,177.4M349.9,203.5 347.9,203.4 346,203 344,203.3 342.2,202.5M351.1,190.4 349,190.1 347.7,188.5 346,189.7 343.9,189.4M342.2,202.5 341.1,201 341.7,199.2 341.3,197.5 340.1,196.2M342.2,202.5 342.7,203.9 343.1,205.4 342.9,207 343.1,208.5 342,209.8 340.4,210.4 340.3,212.1 340,213.7M330.8,208.2 333.1,209.7 335.5,210.8 337.7,212.3 340,213.7M330.8,208.2 331,205.9 333.3,205.1 334.6,203.5 335.4,201.6 334.4,199.8 334.2,197.8 334.7,195.7 333.9,193.7M334.7,175.2 335.5,177.4M327.3,190.4 328.7,191.6 330.6,191.6 332.2,192.2 333.7,193.2M330.8,208.2 330.2,208.9M321.1,200.1 321.9,201.5 322.8,202.9 324.1,203.9 325.6,204.5 326.5,206.1 328.3,206.3 329.5,207.4 330.2,208.9M320.7,197.8 321.1,200.1M347.1,173.3 345.4,174.4 345.2,176.5 344.1,178 342.8,179.3M353.2,209.2 354.5,211 354.8,213.2 352.9,214.7 352.9,217.1 351.8,218.8 350.2,220.1 350.3,222.2 349.5,224.1M340,213.7 340.1,214.1M340.1,214.1 340.9,215.8 341.2,217.7 342.9,218.5 344.5,219.4 346.1,220.2 346.9,221.9 348.8,222.3 349.5,224.1M355.5,229 353.8,228.3 352.3,227.3 351.3,225.7 349.6,224.9M346.1,242.5 346.1,240.9 346.2,239.3 346.6,237.7 346.8,236.1 345.8,234.5 346.7,232.8 347.2,231.3 347.1,229.6M347.1,229.6 346.9,228.1 346.9,226.5 348.1,225.4 349.6,224.9M349.5,224.1 349.6,224.9M241,373.4 241.5,371 242.5,368.7 242.6,366.2 244,364.1 243,361.7 243.6,359.1 244.2,356.6 245.5,354.4M250.4,379.1 251.5,377.2 252.7,375.4 253,373.3 253.3,371.2 253.8,369.1 254.6,367 254.4,364.9 253.8,362.7M245.5,354.4 247.5,355.8 249.4,357.5 251.4,358.9 253.5,360.3M253.5,360.3 253.8,362.7M244.7,351.7 245.5,354.4M261.3,370.1 258.8,369 256.4,367.6 254.5,365.5 253.8,362.7M258.9,349.4 258.6,351.1 259.2,352.7 258.4,354.1 257.7,355.6 257.3,357.4 255.7,358.1 254.1,358.7 253.5,360.3M247.7,337.9 248.9,336.5 250.7,336.3M506.1,456.8 507.5,458.5 509.6,458.7 511.5,459.3 513.3,460.2 515.1,458.8 517.4,459.1 519.2,460.4 521.3,460.8M506.1,456.8 505.7,455.3 504.6,454.2 504.2,452.7 503.3,451.6M503.3,451.6 505.3,450.7 507.4,449.8 508,447.6 508.7,445.5 509.9,443.9 511.4,442.5 512,440.4 513.4,438.8M521.3,460.8 521.9,459.1 522.9,457.6 524.1,456.2 525.8,455.7 526.9,454.1 527.7,452.4 529.6,452.5 531.3,451.5M531.3,451.5 529.5,450.1 527.9,448.4 525.7,447.6 524.1,445.9 523.2,443.8 521.9,441.9 520.7,439.9 519.2,438.2M513.4,438.8 514.8,439.2 516.4,439.2 518,439.2 519.2,438.2M502.6,472.2 503.3,470 505.2,468.9 505.3,466.7 504.9,464.6 505,462.6 504.8,460.6 504.9,458.5 506.1,456.8M523.5,474 521.7,473.2 520.7,471.5 520.1,469.7 519.2,468 518.6,465.6 520.8,464.6 520.7,462.6 521.3,460.8M493.4,449.3 495.3,451.4 498.2,451.2 500.7,451.3 503.3,451.6M534.1,451.6 531.3,451.5M526,428.7 524.3,428.8 522.7,429.5 521.5,430.6 520.6,432 521,433.6 520.9,435.3 520.2,436.8 519.2,438.2M496.8,349.6 498,350.5 499.1,351.6 500.4,352.4 501.8,353.1 502.8,354.3 503.9,355.4 504.5,356.9 506.1,357.5M496.8,349.6 494.1,350.7 491.2,350.4 488.4,350.9 485.7,351.7M485.7,351.7 485.7,351.7M485.7,351.7 485.5,353.5 485.8,355.1 486.4,356.7 486.9,358.3 487.5,359.9 488,361.5 488.2,363.3 489.2,364.7M489.2,364.7 491.3,365.7 493.3,367 495.9,366.3 497.8,368.1M506.1,357.5 506.9,359.7 506.5,362.1 504.9,363.9 503.9,366M503.9,366 502.4,366.9 501.3,368.3 499.6,367.9 497.8,368.1M502.4,336.7 502,338.6 500.9,340.3 498.8,340.6 497.6,342.3 498.9,344.5 500.6,346.4 499.5,349 496.8,349.6M512.4,354 510.4,353.7 508.9,355 507.3,356 506.1,357.5M486.3,333 487.9,332.5 489.2,331.4 490.7,330.4 491.4,328.8M486.3,333 483.4,334.7 484.2,337.9 483,340.3 481.2,342.2 482.2,344.7 484,346.7 484.1,349.5 485.7,351.7M477.8,352.1 479.8,351.8 481.7,351.8 483.7,351.8 485.7,351.7M478.7,374 480.3,372.7 480.1,370.6 481.5,369.4 483.1,368.4 484.4,367 485.6,365.6 487.3,364.7 489.2,364.7M493.9,383 493.3,380.9 493.8,378.8 493.9,376.6 492.8,374.7 495.4,374.5 497.6,373.1 498.3,370.6 497.8,368.1M512.7,374.3 512,372.8 511,371.4 510.4,369.9 510.1,368.2 508.5,367.8 507.1,366.9 505.4,366.9 503.9,366M457.6,330.6 459.3,330.7 460.8,329.8 460.3,328.1 460.9,326.5 460.6,323.9 460.7,321.2M457.6,330.6 459.2,331.7 460.4,333.4 462.2,334.4 464.1,335 466.1,334.9 468.1,334.7 470,334.9 472,335.1M460.7,321.2 463.5,320.9 466.2,320 467.9,320.3 469.3,319.3 470.5,320.3 471.7,321.3M471.7,321.3 471.1,322.8 471.3,324.4 472.1,325.8 472.1,327.4 472.8,328.8 473.2,330.3 473.7,331.8 473.8,333.3M472,335.1 473.8,333.3M456.2,313.5 457.8,315.2 459.5,316.8 460.7,318.8 460.7,321.2M454.6,332.6 456.6,332.3 457.6,330.6M470.2,344.6 470.2,342.1 470.1,339.6 471.6,337.6 472,335.1M475.1,308.9 472.9,309.5 470.8,308.5 470,306.5 469.1,304.6 467.2,304.2 465.3,304.7 463.4,305.1 461.8,305.9M478,313.5 477.3,316 475.2,317.6 473.9,319.9 471.7,321.3M478,313.5 476.7,311.1 475.1,308.9M486.3,333 484.5,332.7 483.4,331.2 481.7,331.4 480,331 478.5,331.9 476.8,331.9 475.5,333.1 473.8,333.3M478,313.5 479.7,313.9M475.1,308.9 476.1,307.5 477.2,306.1 478.4,304.7 478.9,303 478.7,301.2 478.3,299.5 477.9,297.7 478.5,295.9M459.9,299.1 460.9,297.2 461,295.1 463.1,294 463.5,291.7M478.5,295.9 476.7,294.7 475.5,293 473.6,291.9 471.5,292.1 469.3,291.2 467.4,292.7 465.5,291.9 463.5,291.7M449.6,284.6 451.7,284.4 453.3,285.7 454.1,287.5 455.5,288.8 457.5,289.6 459.5,290.1 461,288.7 462.7,287.4M457.5,266.6 459.5,268.5 462.2,268.9 462.2,271.6 461.5,274.1 461.4,276.5 461.7,278.9 463.9,280 465.7,281.5M465.7,281.5 463.9,282.2 462.7,283.7 462.7,285.6 462.7,287.4M462.7,287.4 461.6,289.8 463.5,291.7M509.8,411.7 510.4,413.5 510.2,415.4 512,416 513.5,417M509.8,411.7 508.3,412 506.8,411.6 505.3,411.3 503.8,411.7 502.2,411.5 500.8,410.7 499.1,410.7 497.8,411.7M513.5,417 512,418.3 510.1,418.7 510.1,420.8 508.7,422.3 507.8,423.8 507,425.5 505.5,426.9 505.9,428.9M497.8,411.7 496.1,411.7 494.8,412.7 493.3,413.6 492.7,415.2 491.8,416.8 490.5,418 491.6,419.5 491.9,421.3M505.9,428.9 504.5,427.6 502.7,427.9 501.1,428.2 499.5,428.7 498.3,427.6 496.9,426.7 495.3,426.2 493.7,426.2M491.9,421.3 492,424 493.7,426.2M515.2,397.2 517.1,399 516.9,401.6 516.9,403.9 517.3,406.2 515.1,407.4 514.1,409.7 511.8,410.4 509.8,411.7M519.9,418.4 518.1,419 516.3,419.5 514.6,418.7 513.5,417M495.3,403.6 496.8,405.3 498.2,407.1 497.2,409.4 497.8,411.7M513.4,438.8 512.6,437.5 511.6,436.3 511.1,434.7 510.1,433.5 509.2,432.2 508,431.2 507,430 505.9,428.9M478.9,416.5 480.7,417.1 481.6,418.9 483.2,419.9 484.5,421.1 486.5,420.3 488.2,418.9 489.4,421.1 491.9,421.3M489.1,436.3 489.7,433.6 490.9,431.1 492,430 493.3,429.2 494.1,427.8 493.7,426.2M378.2,262.3 377.5,265.1 379.1,267.5 379.9,270.3 378.2,272.7 378.6,275.4 379.6,278 382.7,278.4 384.1,281.3M394.6,272.6 392.8,274.3 393.1,276.7 391.8,278.4 390.6,280.2M390.6,280.2 389,279.4 387.2,279.7 385.5,280.3 384.1,281.3M371.1,283 370.4,285.9 369.9,288.8 368.9,290 367.8,291.1 367.8,292.6 367.1,294.1M371.1,283 374,283.7 376.5,285.1 379.4,284.9 382.1,283.9M370.1,301.8 371.9,302 373.6,301.6 375.2,302.5 377,302.7 378.3,301.5 379.5,300.2 380.7,298.9 382,297.8M370.1,301.8 369.3,301.2M382.1,283.9 381.4,285.5 381.9,287.3 382.2,289.1 382.3,290.8 382.8,292.6 382.1,294.3 381.9,296 382,297.8M369.3,301.2 369,299 367.1,298 366.9,296 367.1,294.1M359.9,261.4 359.4,263.3 359.3,265.3 358.7,267.2 357.7,268.9 357.6,271 358.1,273 357.3,275 356,276.5M359.9,261.4 361,263 362.1,264.5 363.9,265.1 365.8,265.1 366.4,267 367.9,268 368.9,269.6 368.7,271.5M368.7,271.5 368.5,273 368.4,274.5M368.4,274.5 367.3,275.6 366.3,276.7 365,277.5 363.6,278.1 362.5,279.2 361.2,280 359.6,279.7 358.1,280.1M356,276.5 357.1,278.3 358.1,280.1M359.5,259.5 359.9,261.4M348.9,271.6 349,273.7 350.6,275.2M350.6,275.2 353.5,274.8 356,276.5M377.3,261.7 375.5,262.1 374.8,263.9 374.2,265.4 373.2,266.8 371.4,267.2 370.2,268.4 369.6,270 368.7,271.5M382.1,283.9 382.9,282.4 384.1,281.3M371.1,283 370.9,280.8 370.6,278.5 370.4,276 368.4,274.5M358.3,290.1 360.9,289.3 363.5,290.4 365.9,291.6 367.1,294.1M358.3,290.1 358.5,287.4 357,285.2 358.4,282.8 358.1,280.1M282.4,368.7 279.8,369.2M282.4,368.7 284.1,369.6 285.4,371.1 286.3,372.8 287.4,374.4 287.5,376.5 289.1,377.9 290.6,379.1 291.9,380.6M291.9,380.6 291.9,380.9M282.4,368.7 283.3,367.5 284.5,366.5 285.1,365 286.3,364.1 286.6,362.4 287.9,361.4 288.5,359.9 288.2,358.3M279.4,347.9 281.6,347.5 283.9,348.2 286.1,348.9 288.4,348.6M288.4,348.6 288.7,351.1 289.8,353.4 289.6,356.1 288.2,358.3M291.9,380.6 292.3,379.1 292.8,377.7 292.8,376.1 293.5,374.7 294.2,373.3 294.7,371.9 295.5,370.6 295.9,369.1M288.2,358.3 290.4,356.5 293.1,357 294.6,359.1 297,360.2 297.8,362.6 299,364.9 296.7,366.5 295.9,369.1M277.3,333.4 280,332.1 282.3,330.4 283.4,329.2 285,329 285.9,327.8 286.7,326.5M288.4,348.6 289.7,346.7 290.5,344.6M290.5,344.6 290.7,341.8 291.9,339.3 293.8,337.2 294.3,334.4 292.5,332.1 291.5,329.5 288.9,328.3 286.7,326.5M280.6,313.4 281.8,314.6 283,315.9 284.3,317.1 285.3,318.5 286,320.1 286,321.9 286.2,323.6 287,325.2M286.7,326.5 287,325.2M288.3,300.7 288,302.7 289.6,304 290.8,305.4 291,307.3M291,307.3 290.2,309.4 290.2,311.7 288.7,313.3 288.1,315.5 289.4,317.6 289,320 288.3,322.1 287.7,324.3M287,325.2 287.7,324.3M324.7,310.8 324.9,312.5 325.6,314.1 327.1,315.1 328.1,316.4 329.6,317.5 330.3,319.2 330.6,320.9 330.2,322.7M324.7,310.8 325.6,309.4 326.2,307.9 327.2,306.6 327.8,305.1 328.9,303.8 329,302.1 329.8,300.5 329.5,298.8M336.6,309.3 335,308.8 333.8,307.6 332.8,306.3 332.2,304.7 331.6,303.3 331.5,301.7 330.6,300.3 330.4,298.7M336.6,309.3 335.9,311 334.7,312.4 333.7,314 333.2,315.7 332.7,317.5 332.2,319.3 331,320.7 330.9,322.7M330.9,322.7 330.2,322.7M329.5,298.8 330.4,298.7M319.8,312.1 322.4,311.9 324.7,310.8M317.1,301.3 318.6,302 320,302.9 320.3,304.5 320.6,306.1 320,307.6 319.5,309 318.6,310.6 319.8,312.1M323.2,292.8 325.2,293.8 326.8,295.3 327.2,297.9 329.5,298.8M317.1,301.3 318.2,298.8 318.8,296.1 320.8,294.2 323.2,292.8M336.8,333.2 335.9,331.8 334.6,330.8 333.2,330 332,328.9 331.3,327.5 330.7,325.9 330.7,324.3 330.9,322.7M341.2,331.8 339.1,332.8 336.8,333.2M343.3,321.9 341.9,320.8 340.9,319.4 340.5,317.6 339.1,316.3 339.3,314.6 339.1,312.9 339.4,311.1 338.8,309.4M341.2,331.8 340.2,329.2 341.5,326.7 342.3,324.3 343.3,321.9M338.8,309.4 336.6,309.3M549,217.4 547.2,218.7 545.6,220.2 543.3,220.3 541.4,219M534.2,206 533.6,208.1 533.3,210.2 533.8,212.3 534.8,214.2M541.4,219 540.1,217.1 537.8,216.9 536,215.9 534.8,214.2M526.4,250.7 525.9,248.8 525.7,246.8 525.3,244.8 523.8,243.4M526.4,250.7 528.3,251.2 529.8,252.5 531.8,252.4 533.7,252.3M523.8,243.4 525,242.2 525.9,240.9 526.5,239.3 527.6,238 528.3,236.5 529,234.9 530.7,234.3 531.5,232.7M533.7,252.3 533.7,250.6 534.7,249.3 536,248.5 537.3,247.8 540.2,247.5 543,246.8M543,246.8 542.1,244.2 542.9,241.6 542.4,239 542,236.4M542,236.4 539.6,235.1 538,232.8M538,232.8 536.3,232.9 534.8,233.9 533,233.6 531.5,232.7M518.4,258.4 520.1,258.6 521.6,257.7 523.1,257.2 524.8,257 526,255.7 527.1,254.3 526,252.6 526.4,250.7M505.8,241.9 504.3,242.6 503.7,244.2 503.4,245.8 503.1,247.3M505.8,241.9 507.4,240.5 509.1,239.3 511.2,238.8 513.2,238.3M513.2,238.3 513.7,240 515.1,241.2 516.8,241.2 518.5,240.8 521.3,241.9 523.8,243.4M536.2,262.2 535,259.6 536.1,257 534.8,254.7 533.7,252.3M516.1,227 516.4,228.5 516.7,230 516.4,231.5 516,233 514.4,235.5 513.2,238.3M516.1,227 518,226.9 519.8,226.2 521.5,225.3 522.9,223.9M522.9,223.9 524,225.4 523.7,227.2 525,228.2 526.4,229.1 527.7,230.1 529.4,230.3 530.7,231.3 531.5,232.7M550.3,250.7 548.6,249.4 547.1,247.8 545.3,246.5 543,246.8M555.5,230.8 553.6,231.9 551.5,231.9 550.8,233.8 549.4,235.4 547.6,235.9 545.8,236.5 543.9,235.8 542,236.4M541.4,219 542.2,220.7 542.4,222.6 541,224.3 541.6,226.3 541.5,228.3 540.8,230.1 539.6,231.7 538,232.8M524,220.4 523.9,222.3 522.9,223.9M534.8,214.2 532.9,215.1 532.8,217.1 532.5,219 531.1,220.3 529.4,220.4 527.6,220.6 525.8,220.3 524,220.4M267.5,234.1 266.3,232.3M276,221.4 273.7,220 271.6,218.6 269.9,219 268.2,219.2 267.5,217.7 267.1,216M294.7,213.8 297.2,212.6 299,210.6 301.6,209.6 303.8,208.1M294.7,213.8 294.9,215.8 295.4,217.8 295,219.9 293.7,221.6M293.7,221.6 295.6,223.2 297.1,225.2 298,227.4 298.7,229.8M298.7,229.8 301.2,228.6 302.1,226 303.9,224.2 305.1,221.9M305.1,221.9 304.1,220.3 302.7,219 303.2,217.2 302.7,215.3 303.9,213.9 304.8,212.2 304.7,210.3 304.2,208.5M303.8,208.1 304.2,208.5M300.2,194.3 300.4,196.1 300.1,198 300.9,199.6 301.6,201.3 302.3,203 302.4,204.8 303.4,206.3 303.8,208.1M290.8,204.1 291.4,206.6 292.4,209 293.7,209.8 294.9,210.8 295.7,212.3 294.7,213.8M289.7,224 291.9,223.2 293.7,221.6M312.1,197.9 311.5,200 311.8,202.1 310.3,203.7 309.5,205.7M309.5,205.7 308.3,206.8 307.2,207.8 305.8,208.4 304.2,208.5M298.7,234 298.8,235.6 297.6,236.9 296.5,237.9 295.5,239 294.2,239.9 293.1,240.9 291.7,241.8 291.3,243.4M298.7,234 299.2,236.2 300.3,238.1 301.3,240.2 302.8,241.8M302.8,241.8 302.3,243.7 303.5,245.2 303.3,247 302.9,248.7M302.9,248.7 301.9,250.6 300.8,252.4 299.2,253.9 298.3,255.9M294.5,253.9 292.8,251.6 293.6,249 291.7,247.2 291.2,244.6M294.5,253.9 296.3,255 298.3,255.9M291.2,244.6 291.3,243.4M298.7,229.8 299.2,231.9 298.7,234M288.1,235.8 289.7,237.3 290.8,239.1 290.8,241.3 291.3,243.4M310.2,235.6 309,233.5 308.8,231.1 309.5,228.8 309.4,226.5M310.2,235.6 308.4,237.2 306.7,238.9 305.1,240.8 302.8,241.8M309.4,226.5 308.4,225.2 307.7,223.7 306.3,222.9 305.1,221.9M289.8,263.3 290.8,260.7 290.8,257.9 292.6,255.9 294.5,253.9M284.7,250.7 285.6,248.5 287,246.6 289.1,245.5 291.2,244.6M839.4,400.5 839,398.6 839.1,396.6 837.7,395 837.7,392.9M839.4,400.5 842.1,399.4 844.7,398 846.1,398.8 847.5,399.5 848.9,398.8 850.5,398.7M837.7,392.9 839.8,390.8 841.3,388.2M841.3,388.2 843,388.3 844.8,388.6 846.4,387.9 848.2,388.1M848.2,388.1 849.1,390.4 849.2,392.9 850.6,394.9 851.1,397.4M851.1,397.4 850.5,398.7M837.5,403.8 838.6,402.2 839.4,400.5M825.2,399.3 827.4,401.1 828.7,403.6M830.6,392.1 832.5,391.6 834.3,391 835.8,392.4 837.7,392.9M853.6,411.2 852.5,409.5 850.5,408.7 849.5,406.9 847.7,406 848.5,404.2 849.6,402.5 849.4,400.4 850.5,398.7M836.8,381.4 838.1,383 839,384.8 840.3,386.4 841.3,388.2M850,385.9 848.2,388.1M864.7,394.8 863.6,396.4 861.9,397.5 859.9,397.7 858.1,397.1 856.3,397.2 854.6,397.6 852.8,397.8 851.1,397.4M759.7,444.9 759.5,446.9 760.2,448.8 761.4,450.4 762.6,452M759.7,444.9 761.2,443.1 763.2,441.9 765.2,440.5 765.7,438.1M762.6,452 763.3,450.5 764.9,450 766.2,450.9 767.8,451 770.6,450.7 773.1,452M776.9,448.7 774.6,449.9 773.1,452M776.9,448.7 776.8,446.5 776.1,444.5 776.7,442.4 776.7,440.3M765.7,438.1 767,439.3 768.4,440.3 770,439.6 771.4,438.5 774,439.4 776.7,440.3M787.9,436 789.8,436.2 790.6,438M784.1,452.3 782.1,451.4 780.1,451.3 778.6,449.8 776.9,448.7M787.9,436 786.1,436.4 784.2,436.4 782.4,436 780.5,435.9M780.5,435.9 779.3,437.1 779.4,438.8 778.1,439.6 776.7,440.3M765.7,438.1 766.1,436.6 766.7,435.1 766.4,433.6 766.1,432.1 764.5,431.4 763,430.6 762,429.1 762.5,427.3M759.7,444.9 757.3,444 754.8,443.4M754.8,443.4 753.6,441.5 754.3,439.4 752.7,437.9 750.7,437.5 750.2,435.7 750.5,433.9 751.2,432 750.2,430.3M750.2,430.3 751.9,430.5 753.5,430.7 755.3,430.2 756.3,428.7 758,428.6 759.6,428.8 761.1,428.2 762.5,427.3M787.9,436 788.2,434.3 788.7,432.7 789.6,431.1 789.9,429.4 790.8,427.7 790.4,425.8 791.7,424.6 792.6,423M806,429.1 805.5,427 803.8,425.6M803.8,425.6 802.5,426.6 800.9,426.7 799.3,426.2 797.7,426.5 796.4,425.6 794.8,425.3 793.3,424.5 792.8,422.9M792.6,423 792.8,422.9M823.2,398.9 821.1,400.7 818.4,401.5 816.7,403.7 814.4,405.1M813.4,388.9 812.8,390.6 811.1,391.2 810.1,392.6 809.9,394.2 808.2,394.8 807.5,396.5 806.9,398 806.2,399.5M806.2,399.5 808.3,401 810.9,401.3 812.9,403.1 814.4,405.1M803.8,425.6 804.3,423 805.6,420.9 805.9,418.3 806.2,415.8M819.9,415.7 818.3,416.1 816.7,415.6 815.4,414.4 815.4,412.6M806.2,415.8 808.6,415 810.4,413.1 813,413.9 815.4,412.6M814.4,405.1 815,406.9 815.4,408.8 815,410.7 815.4,412.6M784.4,465.6 781.9,465 779.3,464.5 776.7,464.3 774.3,463.4M784.4,465.6 784.2,467.8 783.8,469.9 783.1,471.9 782.2,473.9 780.6,475.4 779.3,477.2 778.7,479.3 777.8,481.3M770.6,478.2 770.7,476.5 770.5,474.8 771.4,473.3 772.3,471.9 772.8,470.2 771.8,468.7 771.4,467.1 771,465.5M771,465.5 773,464.9 774.3,463.4M785.6,465.1 784.4,465.6M773.1,452 772.8,453.5 772.1,454.9 772.3,456.4 773.2,457.7 773.8,460.6 774.3,463.4M693.9,488.3 694.8,487.1M676.3,483.8 678.1,483.7 679.2,482.2 679.7,480.7 680.5,479.3 682,478.9 683.3,478 684.4,476.8 685.5,475.8M694.8,487.1 693.5,485.7 693.2,483.8 691.7,482.6 690.8,481 689.1,479.9 687.1,479.4 685.3,478.1 685.5,475.8M737.6,462.5 735.1,461.1 734,458.6M734,458.6 731.6,458.8 729.4,460 727,460.8 724.6,460.3M735.7,471.5 736.7,469.1 738.7,467.5 737.5,465.2 737.6,462.5M735.7,471.5 732.7,471.5 730.7,469.3 728.1,470.1 725.4,470.7M724.6,460.3 724.8,463 724.1,465.6 725.1,468 725.4,470.7M754,385.6 756.7,385.7 758.9,387.1M758.9,387.1 761.8,386.7 763.7,384.7 765.4,382.4 765.3,379.5 767.2,377.6 769.8,377.5 772.4,377.8 774.8,376.9M774.8,376.9 775.7,374.4 776.5,371.8M666.2,368.3 668.4,367.6 670.7,367.1 673,367.7 675.3,367.6M674.6,354.9 676.6,356.7 676.2,359.3 677.2,361.5 677.2,363.8M677.2,363.8 675.2,365.2 675.3,367.6M662.4,374.6 663.7,376.9 665.6,378.5 668,379.5 670.3,380.5M677.8,374 676.8,372.6 675.9,371.1 675.2,369.4 675.3,367.6M677.8,374 677.5,376.3 676.4,378.2M670.3,380.5 671.9,380.1 673.4,379.4 674.8,378.6 676.4,378.2M664.8,392.1 666.4,391.1 668.3,390.6M670.3,380.5 669.4,382.9 668.5,385.4 668.2,388 668.3,390.6M497.9,191.8 499.1,193.9M513.3,181.9 513.9,184 514.2,186.3 514.3,188.5 514.4,190.8 514.7,193 515,195.3 515.2,197.5 515.1,199.8M499.1,193.9 500.6,195.7 502.6,196.9 505,197.6 507.2,196.5 509.4,197.1 511.5,197.2 512.9,199.1 515.1,199.8M524,200.2 521.9,201.1 520,200 518.4,201 516.8,202.1M524,220.4 524.5,218.1 523.8,215.8 522.5,214 521,212.2 520.1,210.2 518.8,208.3 517.4,206.5 515.3,205.6M515.3,205.6 516.4,204 516.8,202.1M515.1,199.8 516.8,202.1M488.7,208.9 490.8,210.4 493.2,209.5 494.9,208 497.1,207.2M488.7,208.9 486.5,210.1 486.4,212.6 485.4,214.6 484,216.3M497.1,207.2 498.9,209.1 501.6,209.2 504,210.2 505.4,212.3M491.1,226.6 494,226.7 496.8,226.6M491.1,226.6 488.6,226.4 487.2,224.4 486.7,221.9 484.5,220.8M496.8,226.6 498.5,224.6 500.4,222.9 502.7,221.8 504.8,220.2M484.5,220.8 484.6,218.5 484,216.3M504.8,220.2 505.4,218.2 504.5,216.2 505.8,214.5 505.4,212.3M482.9,196.8 484.4,197.9 484.5,199.8 485.4,201.1 486.1,202.7 488,203.5 489.6,204.9 488.7,206.8 488.7,208.9M499.1,193.9 498.3,195.4 498.2,197.2 497.7,198.8 497.5,200.4 497.3,202.2 496.6,203.8 496.8,205.5 497.1,207.2M467.1,206.8 470.1,207.3 472.6,205.6 475,206.9 477.5,208.1 480.3,208.9 482.3,211 484.7,213.2 484,216.3M515.3,205.6 513,207.5 510.4,209 509.1,210.1 507.4,209.9 506.4,211.1 505.4,212.3M485.5,242 486.2,240 487,238.1 488.2,236.1 487.4,233.9 488.5,232.1 488.6,229.9 489.7,228.1 491.1,226.6M505.8,241.9 503.3,241.4 501.3,239.8 500.7,237.4 500.3,234.9 499.1,233 498.4,230.8 497.9,228.6 496.8,226.6M473.4,227.2 474.3,225.8 475.9,225.1 476.9,223.7 478.6,223.4 479.7,222.2 481.1,221.2 482.8,221.1 484.5,220.8M516.1,227 514.7,226 513.3,225.1 511.6,225.1 510,224.4 508.8,223.1 507.8,221.8 506.1,221.3 504.8,220.2M321.1,200.1 320.2,201.9 319.7,203.8 319.2,205.7 319,207.7 319.8,209.7 319.3,211.7 319,213.7 318.5,215.6M330.2,208.9 329.7,211 329.2,213 329.1,215.2 328.2,217.2M328.2,217.2 325.5,216.8 323.1,218 320.6,217.1 318.5,215.6M309.5,205.7 310.2,207.4 310.9,209.1 311.4,210.9 311.6,212.7 312.2,214.7 313.2,216.5 315.3,216.7 317.1,217.6M318.5,215.6 317.1,217.6M309.4,226.5 311.5,224.6 313.5,222.6 315.7,220.7 317,218.2M317.1,217.6 317,218.2M313,239.6 313.9,238.3 314,236.7 315.4,236.1 316.8,235.5 318.4,233.2 320.4,231.1M313,239.6 313.6,241.7 313.2,243.8 314.1,245.8 314,247.9M322.8,247.7 320.7,247.2 318.5,247.7 316.6,248.8 314.3,248.3M322.8,247.7 324.8,245.6 323.9,242.9M323.9,242.9 322.3,242 321,240.9 321.3,239.1 321.6,237.4 321.4,235.8 320.6,234.5 320.9,233 320.7,231.4M320.4,231.1 320.7,231.4M314,247.9 314.3,248.3M317,218.2 317,220.2 315.5,221.6 315.9,223.4 316.2,225.3 317.6,226.9 319.7,227.2 320.8,229.1 320.4,231.1M310.2,235.6 311.9,237.3 313,239.6M308,253.3 309.4,251.5 311.7,251.3 312.5,249.4 314,247.9M308,253.3 306.4,252.3 304.5,252 304.2,250.1 302.9,248.7M335.3,224.5 335.8,226.4 335.9,228.3 337,229.9 337.7,231.7M335.3,224.5 333.9,223.9 332.4,223.6 330.8,223.9 329.4,223M329.4,223 329,224.7 328.4,226.2M328.4,226.2 329.3,227.6 329.8,229.2 330.2,230.8 330.2,232.5 330,234.2 330.5,235.8 330.7,237.4 330.4,239M337.7,231.7 336.4,234.3 337,237.2 335.3,239.4 334.8,242.2M330.4,239 333,240.1 334.7,242.2M334.7,242.2 334.8,242.2M340.1,214.1 339.4,217 337.2,219.1 336.7,222 335.3,224.5M347.1,229.6 344.7,230 342.5,231.1 340.2,232 337.7,231.7M328.2,217.2 329,218.5 329.4,220 329.2,221.5 329.4,223M320.7,231.4 323.1,231 324.8,229.1 326,227 328.4,226.2M323.9,242.9 325.1,241.4 326.9,240.6 329.1,240.7 330.4,239M339.2,246.1 337.9,245.3 336.6,244.6 335.8,243.3 334.8,242.2M330,258.8 330.4,256.7 330.8,254.6 331.7,252.6 332.5,250.6 333.5,248.6 334.7,246.7 334.7,244.5 334.7,242.2M325.8,258.4 327.9,258.8 330,258.8M325.8,258.4 324.5,255.9 324.2,253.1 323.8,250.3 322.8,247.7M330,258.8 331.4,260.8M236.7,309.1 237.9,308.1 239.2,307.3 239.4,305.8 240.1,304.4M229.4,293.7 231.6,293.2 233.4,294.4 235.3,293.7 237.3,293.3M240.1,304.4 240.7,302.8 241.1,301.3 240.3,299.9 239.1,298.7 237.6,296.2 237.3,293.3M246,317 244.7,314.7 245.2,312.2 245.9,309.9 245.4,307.5M246,317 248.3,316.8 250.6,316.9 251.7,318.9 253.4,320.5M245.4,307.5 248.1,307.9 250.5,306.5 252.9,305.5 254.6,303.5M253.4,320.5 253.4,318.8 253.6,317.2 252.3,315.5 253.8,313.9 254,312.2 254.4,310.6 255.2,309.1 256.2,307.7M256.2,307.7 255.2,305.7 254.6,303.5M241.8,326.2 241.6,323.5 243.3,321.4 244.1,318.8 246,317M240.1,304.4 242.1,304.6 244.1,305.1M244.1,305.1 245.4,307.5M254.5,325.2 254.4,322.8 253.4,320.5M263.5,310.5 262,309.2 260,308.6 258.2,307.7 256.2,307.7M490.4,295.3 490.6,292.8 491.4,290.5 492.8,288.4 494.8,286.9M490.4,295.3 487.9,295.8 485.4,296.4 483.2,295.1 480.9,294.1M480.9,294.1 481,292.1 481.4,290.1 481.9,288.1 481.4,286 480.8,284.1 480.2,282.1 479.9,280 478.3,278.5M494.8,286.9 493.4,285.3 491.6,284.2 491.9,282.2 491.6,280.1 490.3,278.8 489.1,277.3 487.3,276.6 486.2,275.1M486.2,275.1 484.3,274.3 482.4,275.2 480.9,276.2 479.3,277.2M479.3,277.2 478.3,278.5M506.5,283.7 505.1,284.5 503.5,284.5 502,284.7 500.5,284.8 499,285.2 497.4,285.3 496.1,286.1 494.8,286.9M490.8,295.9 490.4,295.3M478.5,295.9 479.7,295.1 480.9,294.1M465.7,281.5 467.3,281.1 468.9,280.9 470.7,280.7 471.9,279.5 473.3,278.3 474.8,277.3 476.8,277.1 478.3,278.5M491.5,268.3 490.4,270.2 488.9,271.7 487.3,273.2 486.2,275.1M470.3,261.5 472.1,263.6 471.6,266.2 472,268.7 471.7,271.1 472.9,273.3 475.1,274.7 477.3,275.7 479.3,277.2M341.9,305.4 341.9,303.5 342,301.5 341,299.8 340.8,297.8 341.3,295.8 342.7,294.3 342.6,292.2 342.2,290.2M341.9,305.4 344,304.3 346,305.7 348.1,305.6 350.1,306M353.4,295.4 352.7,297.1 351.7,298.7 352.2,300.5 352.9,302.2M353.4,295.4 352,293.1 349.5,292.3 348.9,289.8 346.8,288.1M346.8,288.1 345,288.1 343.1,288.5M350.1,306 351.1,303.8 352.9,302.2M343.1,288.5 342.2,290.2M338.8,309.4 340.9,307.9 341.9,305.4M332.8,292.3 331.4,293.5 331,295.3 331.1,297 330.4,298.7M332.8,292.3 335.1,291.3 337.5,291.4 339.8,290.3 342.2,290.2M350.2,318.9 351.2,317.4 350.5,315.6 350.3,314 351.1,312.4 351.1,310.7 351.8,309 350.7,307.6 350.1,306M343.3,321.9 345.4,321.6 347.5,322.1 347.7,319.6 350.2,318.9M369.3,301.2 368.2,302.4 367,303.6 366.2,305.1 366,306.7 364.5,307.5 363.6,309 362,309.5 360.5,310M360.5,310 359.9,308.5 360.1,307 359.1,305.8 358,304.8 355.4,303.6 352.9,302.2M358.3,290.1 357.2,291.7 355.4,292.3 354.4,293.8 353.4,295.4M350.6,275.2 349.8,276.8 348.8,278.3 349,280 349.2,281.8 348.2,283.2 346.9,284.5 347.3,286.3 346.8,288.1M339.1,275.1 340.3,276.8 339.3,278.7 340.1,280.3 340.8,281.9 341.4,283.6 342.3,285.1 343.1,286.7 343.1,288.5M360.4,316 360.3,313 360.5,310M352.8,321.9 351.6,320.3 350.2,318.9M352.8,321.9 354.9,320.7 356.6,318.9 359.5,318.7 360.4,316M332,278.2 331.7,279.9 331.7,281.7 331,283.5 331.9,285.3 330.9,287 330.7,289 332,290.5 332.8,292.3M334,274.9 333,276.5 332,278.2M393.5,309 390.6,308.7 389.6,306M393.5,309 396.4,308.4 399.2,309.1 402.1,308.3 405,308.9M389.6,306 390.1,303.6 389.7,301.2 391,299.3 392.7,297.6 393.8,295.2 396.4,294.8 396.3,292.3 397.8,290.3M410.7,299.9 410,298.2 408.4,297.4 407.5,295.9 407.3,294.1 406,293 404.2,292.8 403.2,291.4 401.9,290.2M410.7,299.9 410.3,301.4 410.5,303 410.6,304.5 410.5,306.1 409.1,306.9 407.5,307 406.3,308 405,308.9M401.9,290.2 399.9,289.8 397.8,290.3M399.6,329.2 397.3,327.9M397.3,327.9 395.7,325.8 394.7,323.5 394.6,320.6 392.2,319.1 392.5,316.4 393.8,314.1 393.3,311.6 393.5,309M409.9,320.7 409,319.3 409,317.6 408.2,316.2 407.2,314.9 406.2,313.5 406.3,311.8 405.6,310.4 405,308.9M390.6,280.2 392.3,281.1 392.2,282.9 393.1,284.2 394.4,285.2 395.3,286.5 396.6,287.4 396.6,289.1 397.8,290.3M382,297.8 383.5,300.4 384.3,303.3 386,302.7 387.3,303.9 388.5,304.9 389.6,306M389.6,306 389.6,306M414.8,299.4 412.8,300 410.7,299.9M408.7,279.5 407.6,280.8 406.3,281.8 404.8,282.6 403.7,283.8 402.4,285.3 403.1,287.1 402,288.5 401.9,290.2M374,317.2 376,316.7 378.1,316.7 380.1,317.4 382.2,317.1M374,317.2 372.2,319.5 370.6,322 370,324.9 368.3,327.4M382.2,317.1 382.1,318.9 382.9,320.4 383.9,321.8 384.7,323.3 385.6,324.7 386.4,326.2 386.3,328 386.4,329.7M373,336.3 371.3,334.4 369.8,332.3 368.7,330 368.3,327.4M373,336.3 375.7,336.4 378.1,337.6 380.8,337.3 383.2,336.3M383.2,336.3 382.9,334.2 384.4,332.8 385.5,331.3 386.4,329.7M370.1,301.8 370.1,304 371.2,305.7 370.4,307.7 370.8,309.8 371.6,311.8 372.9,313.3 372.7,315.5 374,317.2M389.6,306 388.4,307.2 387.4,308.5 387.2,310.3 386.1,311.7 385.9,313.5 384.3,314.5 383.1,315.7 382.2,317.1M367.9,327.4 368.3,327.4M367.9,327.4 367.1,325.8 366.7,324.1 365.9,322.6 364.9,321.2 363.9,319.6 363.7,317.6 361.9,317.2 360.4,316M397.3,327.9 395.7,328.1 394.6,329.3 393.3,330.2 392.2,331.2 390.7,331.2 389.3,330.5 387.7,330.6 386.4,329.7M377.7,358.9 376.8,357.5 376.5,355.8 375.5,354.5 375.3,352.8 374.4,351.4 373.3,350.2 371.9,349.3 370.7,348.2M370.7,348.2 370.7,346.6 371.1,345.2 371,343.6 371.3,342.1 371.9,340.8 372.3,339.3 372.1,337.6 373,336.3M388.6,350.3 386.4,349.5 385.6,347.3 387,345.4 386.5,343.1 385.2,341.5 385.3,339.5 385,337.4 383.2,336.3M337.9,392.2 337.1,390.8 337.1,389.1 337.2,387.5 337.2,385.9 335.9,384.8 335.5,383.2 334.9,381.7 334.9,380.1M337.9,392.2 339.9,392 341.8,392.1 343.7,391.6 345.6,391M334.9,380.1 336.3,379.3 337.2,377.9 338.3,376.7 338.6,375.1 340.3,374.6 341,373.1 341.4,371.5 342.6,370.4M342.6,370.4 343.4,371.9 344.2,373.4 345,375 345.5,376.6 346.2,378.5 348.1,379.1 348.6,380.8 349.3,382.4M345.6,391 347.6,389.3 349.8,387.8 349.4,385.1 349.3,382.4M350.3,406 349.5,404.1 349.4,402.1 349.1,400 349.5,398 348.8,396 348.5,394 347.2,392.3 345.6,391M335,398.9 336.8,397.7 336.7,395.6 337.4,393.9 337.9,392.2M331.6,377.4 332.9,379.2 334.9,380.1M331.6,377.4 332,375.4 332,373.4 330.5,372 328.8,370.9 328.3,369.1 328.9,367.3 329.8,365.7 329.9,363.9M329.9,363.9 329.9,363.7M329.9,363.7 332.5,362.4 334.7,360.6 336.8,358.8 339.1,357.1M339.1,357.1 340.7,358.2 342.6,358.5M342.6,358.5 342.8,360.2 342.7,361.8 341.5,363 340.7,364.5 342.1,365.5 342.6,367.1 342.6,368.7 342.6,370.4M359.2,386.2 358.1,384.5 356.4,383.4 355,382 353.5,380.7M353.5,380.7 351.3,381.3 349.3,382.4M295.9,369.1 297.5,368 298.9,366.6M298.9,366.6 299.1,364.1 300.6,361.9 301.1,359.3 299.8,357M290.5,344.6 293.4,344.7M299.8,357 299.7,355.2 299.5,353.4 299.1,351.6 297.9,350.2 296,349.6 294.7,348.3 294.1,346.5 293.4,344.7M254.9,295.4 253.9,294 252.7,292.8 252.4,291.1 251.9,289.4M254.9,295.4 257.3,293.9 258.5,291.3 260.9,290 263.6,289.5M251.9,289.4 253.9,288.3 253.5,286 254.4,284.3 254.5,282.3 255.6,280.6 256.7,278.9 256.2,277 256.2,274.9M256.2,274.9 256.7,276.5 257.4,278 257.5,279.7 257.2,281.3 258.7,282 260.2,282.5 261.6,283.3 262.9,284.3M262.9,284.3 263.1,286.9 263.6,289.5M254.6,303.5 254.7,301.3 255.9,299.5 255.5,297.4 254.9,295.4M267.3,293.9 265.9,291.3 263.6,289.5M266.1,273.7 265.8,276.6 266.2,279.5 265,280.4 263.9,281.4 262.9,282.7 262.9,284.3M237.3,293.3 239.2,292 239.3,289.8 239.4,287.8 240.3,286M239,278.2 239.7,280.2 240.9,281.9 240,283.9 240.3,286M244.1,305.1 246.1,303.9 248,302.6 249,300.1 247.5,297.9 246.5,295.7 248,293.9 247.6,291.8 246.6,290M240.3,286 241.9,287.3 244,287.2 244.9,289 246.6,290M251.9,289.4 250.3,288.8 248.7,288.5M248.7,288.5 246.6,290M264.3,251.6 262,251.6 259.9,250.6M259.9,250.6 259.6,248.4 258.7,246.4 257.7,244.3 255.5,243.5M316.5,265 315.4,266.3 314.4,267.6M316.5,265 319.2,264.6 321.9,265.6M314.4,267.6 313.9,269.2 314.1,270.8 314.9,272.2 315.8,273.5 314.9,275 315.6,276.7 314.6,277.9 314.1,279.4M321.9,265.6 321.8,267.5 323.3,268.6 323.5,270.2 324.1,271.7 323.8,273.4 323.4,275 323.6,276.7 324.1,278.3M321.9,284 323.3,283 323.8,281.4 324.1,279.9 324.1,278.3M321.9,284 320.3,283.9 318.8,284 317,284.2 315.9,282.8M315.9,282.8 315.6,280.8 314.1,279.4M314.3,248.3 314.4,250.6 315.6,252.5 314.4,254.5 314.3,256.8 314.7,259 314.3,261.2 315.6,263 316.5,265M308,253.3 308,254.8 308.2,256.4 307.4,257.8 308,259.4 307.2,260.8 307.7,262.4 308,263.9 308.1,265.4M308.1,265.4 309.7,265.8 311.2,266.6 313,266.4 314.4,267.6M325.8,258.4 324.3,260.1 324.3,262.3 322.8,263.7 321.9,265.6M332,278.2 330,278.4 328.1,279 326.1,278.7 324.1,278.3M323.2,292.8 322.5,290.7 322.6,288.4 322.5,286.2 321.9,284M317.1,301.3 314.3,300.4 311.9,298.5M311.9,298.5 313,296.3 315.5,295.7 315.6,293.4 316.4,291.3 315.7,288.9 314,287.2 314.7,284.9 315.9,282.8M301.3,271.3 303.2,271.1M301.3,271.3 300.1,273.8 298.5,276.1M303.2,271.1 304.6,272 305.1,273.5 306.3,274.5 307.4,275.4 307.9,277 309,278.2 309.9,279.8 308.6,281.3M298.5,276.1 297,277.1 296.4,278.7 295.3,280.1 295.2,281.9 295.8,283.4 296.4,284.9 296.9,286.6 298.2,287.8M299.4,290.3 298.2,287.8M299.4,290.3 301.6,290.2 303.1,291.9 305.1,291.3 307.1,292M307.1,292 307.1,289.1 308.8,286.8 309.2,284 308.6,281.3M298.3,255.9 297.7,258.3 299.7,259.6 300.4,261.5 300.9,263.4 301.4,265.4 302.2,267.3 300.8,269.1 301.3,271.3M308.1,265.4 307.9,267.6 306,268.6 304.6,269.9 303.2,271.1M290.9,272.6 292.4,274.2 294.4,275 296.3,275.9 298.5,276.1M314.1,279.4 311.3,280.1 308.6,281.3M290.1,292.4 292.5,292.2 294.7,290.9 297,290 298.2,287.8M298.9,307.8 297,306.6 295,307.7 292.9,308.5 291,307.3M298.9,307.8 298.7,305.4 297.2,303.6 297.3,301.3 297.2,299 297.3,296.7 297.5,294.4 298.8,292.5 299.4,290.3M310.7,299 311.9,298.5M310.7,299 309.4,297.5 308.8,295.6 308,293.7 307.1,292M331.6,377.4 330.2,378.3 328.6,378.9 327.1,379.8 326.6,381.5 325.7,383 324,383.6 323.5,385.2 322.7,386.7M322.7,386.7 322.4,388.4 322.4,390.1M780.5,435.9 779.3,434.9 777.9,434.3 777.9,432.7 778.1,431.1 776.6,428.7 776.8,425.9M792.6,423 791.1,422.7 789.6,422.8 788.8,421.5 787.4,420.8 784.6,420.4 781.8,420.3M781.8,420.3 780.7,421.9 779,422.9 778.1,424.5 776.8,425.9M762.5,427.3 763.6,425 765.3,423.1M776.8,425.9 775.3,425.5 774,424.8 772.6,424 771.4,423.1 770,422.4 768.4,422.3 766.7,422.3 765.3,423.1M806.2,399.5 803.9,400.3 801.4,400.4M806.2,415.8 805.1,414.7 804.5,413.3 803.5,412 802,411.6 800.6,410.8 799.1,410.2 798.1,409 797.9,407.3M801.4,400.4 800.8,402.2 800.2,404.1 799,405.7 797.9,407.3M802.5,383.1 800,384.5 798.3,386.8 796.3,388.8 794.9,391.3M801.4,400.4 800.1,399.3 798.8,398.4 798.9,396.8 799.1,395.1 798.5,393.7 797.8,392.3 796.4,391.6 794.9,391.3M792.8,422.9 792.3,421 793.3,419.3 794.2,417.7 794.9,416.1 794.4,414.2 793.6,412.6 794.5,410.9 794.4,408.9M794.4,408.9 796.2,408.2 797.9,407.3M762.6,452 760.4,453.2 759,455.2 757.4,457.4 758.6,459.9M771,465.5 768.3,465.6 765.7,464.6 762.9,464.5 760.5,462.9M758.6,459.9 760,461.1 760.5,462.9M656.7,439.1 658.5,437.5 660,435.6 660.5,433.3 661.5,431.1 663.7,430.3 666,429.8 668.5,429.4 670.7,430.4M661,420.9 662.6,422.6 664,424.5 666.4,424.2 668.7,424.9M668.7,424.9 669.5,426.2 670.2,427.5 670.6,428.9 670.7,430.4M666.5,449 666.8,447.1 668.6,446.3 668.7,444.6 668.7,442.9 670.2,442.4 671.8,442 673,440.8 674.8,440.7M674.8,440.7 674.3,439.3 673.7,437.9 672.4,437.2 670.9,436.8 671.1,434 672.4,431.6M672.4,431.6 670.7,430.4M676.4,378.2 677.3,379.5 678.1,380.8 679.1,382.1 679.8,383.5 681,384.6 682.6,385.2 683.5,386.5 684.9,387.4M668.3,390.6 670.1,390.8 671.8,390.9 673,389.5 674.7,389.1 676,390.2 676.9,391.6 678,392.8 678.7,394.3M684.9,387.4 684.4,389.4 683.9,391.5M683.9,391.5 681.2,392.7 678.7,394.3M696.2,486.7 696.6,484.8 698.4,484 699.7,482.8 700.9,481.5M696.2,486.7 698.8,487.2 701.4,487.5 702.1,490.2 704.3,491.8 704.9,494.5 707.4,495.5 709.2,497.1 711.2,498.3M700.9,481.5 703.8,481.2 706.6,480.3 709.4,481.4 712.2,482.2M712.2,482.2 712,484.4 712.1,486.7 710.3,488.1 709.3,490.2 710.6,492 711.6,493.9 712,496.1 712,498.3M694.8,487.1 696.2,486.7M667.1,453 668.6,452.6 670.1,452.3 671,453.6 672.3,454.4 674.7,455.5 677.3,456.4M667.3,471.3 670,470.6 672.8,470 675.4,468.8 677.8,467.2M677.8,467.2 678.1,464.3 676.6,461.8 676.8,459.1 677.3,456.4M685.5,475.8 686.3,473.5 685.9,471.1M677.8,467.2 680.4,467.4 681.6,469.7 683.5,471.2 685.9,471.1M718.3,443.6 719.6,444.5 721.2,444.3 722.5,443.3 723.9,442.7 725.3,445.3 727.9,446.7M722.2,458 723.8,457.3 724.7,455.8 726.2,454.8 726.6,453.1 726.8,451.5 726.8,449.8 727.5,448.3 727.9,446.7M722.2,458 720.6,456.8 718.7,457.4M718.3,443.6 717.2,445.4 716.1,447.1 716.3,449.3 715.1,451.1M715.1,451.1 715.3,453.2 715,455.3 716.5,456.9 718.7,457.4M711.5,469.6 713.2,469.3 714.8,468.8 716.4,469.7 718.2,469.5 720,470.3 721,471.9 722.8,471.4 724.7,471.4M711.5,469.6 711.9,471.1 712.1,472.6 712.4,474.1 712.7,475.7 713.9,477 713.7,478.8 713.1,480.3 712.5,481.9M712.5,481.9 715.3,481.5 717.8,482.8 720.1,481.2 722.9,481.1M724.7,471.4 725.1,474 725.4,476.5 723.9,478.7 722.9,481.1M729.3,489.2 728.8,486.5 727.5,484.1 724.8,483.3 722.9,481.1M712.2,482.2 712.5,481.9M742.5,478.6 741,476.5 738.6,475.5 736.6,473.9 735.7,471.5M725.4,470.7 724.7,471.4M689.1,372.5 690.1,370.4 689.2,368.2 689.2,366 689,363.9M689.1,372.5 690.4,374.5 692.7,375 694.3,376.8 694.1,379.1M694.2,379.1 694.2,376.6 696.1,374.9 698,373.7 699.8,372.2 701.4,370.5 703.8,370 705.8,368.9 707.2,367.1M694.2,379.1 694.1,379.1M694.6,356.3 692.7,357.8 691.8,360.1 689.7,361.5 689,363.9M677.8,374 680.7,373.6 683.4,373 686.3,373.1 689.1,372.5M677.2,363.8 678.9,363.5 680.3,364.4 681.6,365.4 683.1,365.9 684.6,365.4 686.1,365 687.9,365.3 689,363.9M684.9,387.4 686.2,386.5 687.6,385.8 688.5,384.5 689.9,383.7 691.5,383.3 692.7,382 693.7,380.7 694.1,379.1M713.8,382.1 712.1,382 710.7,382.7 709.6,383.9 709,385.4 708.4,386.9 707,387.6 705.5,388 704,388.3M704,388.3 702.5,386.9 702.8,384.9 701.6,383.5 700.9,381.8 699,381.2 697.9,379.4 696.1,379.3 694.2,379.1M683.9,391.5 686.1,393.4 688.6,394.9 690.5,397 692.8,398.7M704,388.3 704.6,390 704.2,391.8 704.2,393.7 703.3,395.2M692.8,398.7 694.8,396.5 697.7,396.1 700.6,396.1 703.3,395.2M344.2,357 345.8,357.5 347.5,358 349.2,358.1 350.7,359.1 352.3,359.5 354,359.7 355.7,360 357.2,360.8M344.2,357 344,354.7 344.3,352.4 344.1,350.1 345.1,347.9 344.6,345.5 346,343.4 347.1,341.3 346.9,339M346.9,339 348.9,338.4 350.7,337.8 352.4,336.5 354.3,335.8M360.2,352.1 359.6,350.1 360.4,348.2 359.9,346.3 359.9,344.3 358.5,342.9 357.4,341.2 356.7,339.3 356.5,337.3M360.2,352.1 359.9,354.2 360,356.4 358.8,358.3 357.9,360.3M354.3,335.8 356.5,337.3M357.9,360.3 357.2,360.8M353.5,380.7 354.3,378.1 355.5,375.7 354.1,373.3 353.9,370.5 353.6,367.8 353.7,365 355.1,362.5 357.2,360.8M342.6,358.5 344.2,357M336.8,333.2 335,334.9 334.9,337.4 334.4,339.7 333.8,341.9M339.1,357.1 337.8,355.5 337.3,353.5 337.2,351.4 336,349.7 336.2,347.6 336,345.5 334.6,343.9 333.8,341.9M341.2,331.8 343.2,333.1 344.7,334.9 346.2,336.7 346.9,339M352.8,321.9 353.5,323.6 353.4,325.4 353.8,327.1 353.6,328.9 353.6,330.6 353.6,332.4 353.5,334.2 354.3,335.8M367.9,327.4 367.1,329.2 365.4,330.2 364.5,332 363,333.3 361,333.5 359.4,334.7 358,336 356.5,337.3M370.7,348.2 367.8,347.9 364.9,348.6 362.3,350 360.2,352.1M370.6,371.9 368.6,370.5 366.2,370 363.7,370.1 361.4,369.2 360,367.2 359.3,364.9 358,362.8 357.9,360.3M333.8,341.9 332.7,343.4 331.1,344.4 329.4,343.5 327.5,344M330.2,322.7 328.5,324.6 326.2,325.9 324.3,327.7 323.6,330.3M323.6,330.3 324.1,332 324.1,333.8 324.3,335.6 324.6,337.4 324.2,339.4 324.4,341.4 326.2,342.4 327.5,344M329.9,363.7 329.9,361.5 329.9,359.3 330.3,357.2 330.4,355 329,353.2 327.6,351.5 327.2,349.3 326.3,347.2M326.3,347.2 327.1,345.7 327.5,344M301.6,312.4 300.8,313.9 300.2,315.4 299.4,316.8 299.1,318.5 298.8,320.1 298.1,321.6 298.3,323.4 296.8,324.6M301.6,312.4 302.3,312.6M302.3,312.6 302.5,314.9 301.7,317.2 301.6,319.6 302.7,321.7 303.5,323.9 304.9,325.8 306.2,327.7 307.8,329.4M296.8,324.6 296.4,326.1 295.7,327.5 295.8,329.1 296.5,330.6 296.6,332.1 297.5,333.4 298.6,334.5 299.5,335.8M307.8,329.4 307.5,331.5 306.2,333.2 305.2,335 304.3,336.8M299.5,335.8 302,335.5 304.3,336.8M287.7,324.3 289.9,324.9 292.2,325.5 294.5,325.4 296.8,324.6M298.9,307.8 300.6,309.9 301.6,312.4M308,307.3 308,305.1 308.6,302.9 310.3,301.3 310.7,299M308,307.3 306.2,308.2 304.3,309 303.6,311 302.3,312.6M293.4,344.7 295.6,343 297,340.6 298.9,338.5 299.5,335.8M306.7,349.2 306.2,347.7 306.5,346.1 306.3,344.4 305.4,343 304.9,341.4 305.6,339.8 304.6,338.4 304.3,336.8M306.7,349.2 303.9,349.9 301.9,351.9 300,354.1 299.8,357M248,253.1 248.8,255.1 248.9,257.3 251.2,257.6 252.7,259.2 253.5,261.2 255.3,262.3 255.4,264.3 255.9,266.3M255.9,266.3 256.2,269M247.1,272.5 246,270.7 244.4,269.4M247.1,272.5 249.3,271.6 251.1,270.2 253.4,271 255.7,271M256.2,269 255.7,271M259.9,250.6 261.1,252.6 260.9,254.9 260.2,257.2 261.3,259.3 259.6,260.8 258.5,262.7 257.6,264.8 255.9,266.3M263.2,267.3 261.3,267.6 259.5,267.3 257.8,268.1 256.2,269M248.7,288.5 248.9,286.4 248.2,284.4 247,282.7 246.6,280.6 247.3,278.2 249.3,276.7 247.6,275 247.1,272.5M256.2,274.9 256,272.9 255.7,271M306.5,374.6 308,376.3 307.4,378.6M306.5,374.6 306.7,372.4 307,370.3 309.4,369.9 310.4,367.7 311.9,366.1 312.2,364 311.7,361.9 311.2,359.9M307.4,378.6 309,379.2 310.6,379.8 312.1,379.1 313.8,378.8 314.7,377.3 315.8,376.1 317.4,375.4 319.1,375.3M311.2,359.9 313.5,360.4 315.4,361.6 317.1,363.2 319.2,364.1M319.1,375.3 319.3,372.8 317.8,370.7 318.7,368.5 320.1,366.6M320.1,366.6 319.2,364.1M309.6,351.5 310.7,353.8 312.9,355.2 311.5,357.3 311.2,359.9M309.6,351.5 307.8,350.8 306.7,349.2M298.9,366.6 300.8,368.6 302.4,370.9 303.8,371.4 305.2,371.8 305.6,373.3 306.5,374.6M309.6,351.5 311.4,349.8 312.8,347.7 314.1,345.6 315.9,343.9M315.9,343.9 317.5,345 318.4,346.8 319.4,348.5 320.7,349.9M320.7,349.9 320.2,351.9 318.6,353.4 316.9,354.6 316.4,356.6 317.9,358.2 319.4,359.7 318.4,361.9 319.2,364.1M322.7,386.7 323,385.1 322.4,383.7 322.5,382.1 321.7,380.8 320.3,379.9 319.6,378.4 319.4,376.8 319.1,375.3M329.9,363.9 327.4,364.7 325.3,366.3 322.7,366.5 320.1,366.6M320.7,349.9 322.1,349.1 323.1,347.9 324.6,347.2 326.3,347.2M307.4,378.6 307.7,380.5 307.5,382.4 306.6,384.1 306.8,386.1M781.8,420.3 782.2,417.9 782,415.6 781.1,413.4 780.9,411M765.2,422.7 765.3,423.1M765.2,422.7 765.9,421 766.2,419.3 767.9,418.5 768.8,416.8 769.4,415.2 770.2,413.7 771.9,412.5 771.6,410.5M780.9,411 778.5,410.8 776.2,410.6 773.9,410.6 771.6,410.5M794.4,408.9 791.8,408.2 789.2,409.3 786.6,408.8 784.5,407.1M780.9,411 781.7,408.2 784.5,407.1M758.7,406.4 758,408.7 758.9,410.9 758.7,413.2 758.2,415.4M765.2,422.7 763.6,420.5 763,417.8 760.7,416.3 758.2,415.4M758.7,406.4 760.8,405.9 762.5,404.7 764.3,403.6 766.3,403M771.6,410.5 770.3,408.6 768.6,407 767.9,404.7 766.3,403M758.7,406.4 757.2,405.3 755.7,404.4 753.7,404.5 752.1,403.5M749.6,389.8 749.9,391.8 748.6,393.5 747.7,395.3 747.4,397.2 748.2,399.2 748.6,401.2 750.4,402.3 752.1,403.5M758.9,387.1 760.2,388.3 761.6,389.5 761.1,391.4 762.4,393 763.7,394.4 764.5,396.1 766.4,396.6 768.3,396.2M766.3,403 767.3,401.5 767.6,399.7 768,398 768.3,396.2M760.5,462.9 759.5,464.5 758.3,466 758.7,467.8 759,469.6 758.8,471.4 759.4,473.2 758.3,474.7 758.3,476.5M749.3,459.7 751.7,459.2 754,458.6 756.2,459.7 758.6,459.9M748.7,460.4 749.3,459.7M748.7,460.4 747.2,462.2 746.4,464.3 746.2,466.7 744.9,468.7 746.2,470.7 746.3,473.1 745.7,475.4 746.3,477.8M737.6,462.5 740.4,462 743.2,461.6 746.1,461.8 748.7,460.4M746.2,428.6 744.4,428 742.6,427.6 741,426.7 739.4,425.9 737.9,424.7 736,424.4 734.9,422.8 733.1,422.1M746.2,428.6 746.8,427.1 747.6,425.9 746.7,424.5 746.8,422.9 747.2,420.1 747.6,417.3M747.6,417.3 746.8,415.5 745.7,413.8 744.3,412.2 743.2,410.5M733.9,412.2 735.5,411.7 737.2,412.1 738.7,411.2 739.4,409.6M733.9,412.2 733.5,414.8 731.6,416.6M743.2,410.5 741.4,409.7 739.4,409.6M731.6,416.6 731.8,419.5 733.1,422.1M750.2,430.3 748.3,429.5 746.4,428.9M746.4,428.9 746.2,428.6M758.2,415.4 757.1,416.5 755.7,417.2 754.1,417.6 753.4,419.1 751.8,419.1 750.4,418.4 749.2,417.4 747.6,417.3M752.1,403.5 749.2,404.3 747.1,406.4 745.5,408.8 743.2,410.5M739.4,436.8 737.6,436.6 735.8,436.2 734.4,437.5 732.5,437.7M739.4,436.8 740.6,438 741.1,439.7 741.6,441.2 742.1,442.8 741.7,444.6 742.6,446.3 743.7,447.8 745.4,448.5M732.5,437.7 731,439.4 730,441.5 730.3,443.8 729.4,446M729.4,446 730.8,447.7 732.4,449.3 733.8,451.1 736,451.9M736,451.9 738.2,450.9 740.4,450.3 742.7,449.7 745,449.4M745.4,448.5 745,449.4M746.4,428.9 745,431.2 742.6,432.6 741.6,435.1 739.4,436.8M726.8,432 728.4,429.5 730.6,427.5 730.8,425.9 731,424.4 731.6,422.8 733.1,422.1M726.8,432 728,433.8 728.6,435.9 730.7,436.5 732.5,437.7M754.8,443.4 752.1,444.1 749.5,444.8 747.4,446.7 745.4,448.5M723.3,431.6 725,432 726.8,432M717.6,442.2 717.4,440.6 717.5,438.9 718.3,437.5 719.6,436.4 720.6,435.4 721.6,434.2 722.9,433.2 723.3,431.6M717.6,442.2 718.3,443.6M727.9,446.7 729.4,446M724.6,460.3 723.6,458.9 722.2,458M734,458.6 734.2,456.7 734.1,454.9 735,453.4 736,451.9M749.3,459.7 747.7,459.5 746.9,458 746,456.7 745.3,455.4 745.3,453.7 746.2,452.4 745.5,451 745,449.4M689.9,408.7 688.1,409.2 686.3,409.7 684.4,409.5 682.9,408.3 681.1,408.5 679.4,407.8 677.6,408.2 676,407.5M689.9,408.7 688.4,409.2 687.3,410.3 686.3,411.9 687.4,413.4 687.8,416 688.7,418.5M688.7,418.5 687.4,419.2 685.9,419.7 684.4,419.8 682.9,420.4M682.9,420.4 681,419.5 679,418.8 677.7,417.2 675.9,416.1M675.9,416.1 675,414.2 674.3,412.3 673.7,410.1 675.1,408.2M675.1,408.2 676,407.5M692.8,398.7 693.6,401.2 692.1,403.4 691.1,405.5 690.9,407.9M690.9,407.9 689.9,408.7M678.7,394.3 677.6,395.7 676.6,397.2 675.9,398.9 675,400.4 675.7,402.1 676.2,403.8 676,405.6 676,407.5M681.3,429.1 682,427 681.7,424.7 681.8,422.4 682.9,420.4M687.6,432.5 686,431.6 684.5,430.8 682.8,430.2 681.3,429.1M694.9,425.8 694.6,423.7M694.9,425.8 692.6,427 690.4,428.2 688.6,430.1 687.6,432.5M694.6,423.7 692.8,422.9 691.1,421.8 689.7,420.3 688.7,418.5M672.4,431.6 674.7,431 677,430.8 679.1,430 681.3,429.1M668.7,424.9 670,424.2 671.4,423.7 672.8,422.9 673.4,421.4 674.6,420.4 675.4,419.1 676.2,417.7 675.9,416.1M663.2,406.6 664.7,406.5 666.3,406.3 667.8,405.9 669.3,405.8 670.9,406.4 672.6,406.1 673.4,407.7 675.1,408.2M677.3,456.4 679,455.7 680.6,454.9 682,453.7 683.6,452.7M674.8,440.7 676,441.9 677,443.2 678.7,443.1 680.4,443M683.6,452.7 681.8,450.6 682,447.8 681.9,445.2 680.4,443M687.6,432.5 688.6,434.9 688.3,437.5M680.4,443 682,440.9 684.5,440.5 686.8,439.4 688.3,437.5M707.9,407.7 706.7,409.1 706.5,410.9 704.6,411.3 703.6,413M707.9,407.7 709.7,409.5 712.3,409.8 714.8,409.1 717.2,410.1M717.2,410.1 717.4,412.3 719.1,413.8 719,415.9 719.8,417.9M703.6,414.6 705.5,415.5 706.4,417.4 708.4,417.7 710,418.8 711.3,420.3 711.9,422.1 711.9,424.1 712.7,425.9M703.6,414.6 703.6,413M719.8,417.9 719.4,420.1 718.4,422.1 716.5,423.3 715.5,425.4M712.7,425.9 715.5,425.4M703.3,395.2 704.8,397.2 706.7,398.8M706.7,398.8 706.5,401.1 707.1,403.3 706.8,405.6 707.9,407.7M690.9,407.9 692.6,408.7 694.4,408.8 695.9,409.9 696.8,411.5 698.7,411.5 700.1,412.7 701.8,413.4 703.6,413M723.7,403.2 723.2,401.4 723.3,399.4 724.4,397.6 723.7,395.6M706.7,398.8 708.7,397.1 711.4,396.7 713.6,395 714.3,392.3 716.7,392.9 718.9,394.1 721.2,395.2 723.7,395.6M723.7,403.2 722.4,404.3 722,405.8 721.5,407.5 722.7,408.8 719.8,408.7 717.2,410.1M731.6,416.6 728.6,416.7 725.7,417.2 724.1,417.1 722.6,416.6 721.4,417.7 719.8,417.9M723.7,403.2 725.6,402.9 727.6,403.2 728.9,404.7 730.4,405.9 731.3,407.7 733.1,408.6 733.6,410.4 733.9,412.2M705.3,433.3 707.1,431.3 709.3,429.9 711.6,428.4 712.7,425.9M705.3,433.3 703.5,433.7 701.6,433.8 699.7,433.3 698.4,431.9 696.7,430.9 695.2,429.6 695.6,427.7 694.9,425.8M694.6,423.7 695.7,422.5 697.2,421.7 697.9,420.2 698.9,419 699.8,417.5 701.5,417.1 702.6,415.9 703.6,414.6M723.3,431.6 721.4,430 719.7,428.2 718.3,425.8 715.5,425.4M704.9,437.6 705.5,435.5 705.3,433.3M704.9,437.6 706.6,438.3 707.9,439.5 709.4,440.4 710.7,441.6 712.6,441.9 714.1,443.1 716,443.4 717.6,442.2M723.7,395.6 723.8,395.5M739.4,409.6 738.9,407.4 738,405.5 736.7,403.7 736.8,401.4 736.4,399.2 736.9,397.1 737.5,395 737,392.8M323.2,330.1 322.6,333 320.1,334.6 318.1,336.4 316.1,338.1M323.2,330.1 323.2,328.3 322.9,326.6 322.6,324.8 322.8,323.1 320.8,322.6 320.1,320.7 319.2,319.2 318,317.8M316.1,338.1 315.5,335.4 314.2,333.1 312.4,331 310.8,328.8M310.8,328.8 311.5,326.2 311.3,323.6 313,321.5 314.6,319.5M318,317.8 316.3,318.6 314.6,319.5M315.9,343.9 316.3,341 316.1,338.1M323.6,330.3 323.2,330.1M319.8,312.1 319.1,313.4 319,315 318.4,316.4 318,317.8M307.8,329.4 309.3,329.2 310.8,328.8M308,307.3 309.3,308.5 310.6,309.7 312,311 312.1,312.9 313.4,314.3 314.1,315.9 314.6,317.7 314.6,319.5M777.3,386.8 775.4,388.5 774.1,390.6 772.4,392.6 772,395.2M777.3,386.8 778.9,387.1 780.5,386.9 782,387.4 783.4,388.3 784.8,389.4 786.5,388.8 788.1,388.5 789.6,389.2M772,395.2 773.8,395.6 775.6,395.5 777.1,394.2 779,394.5 780,396.1 780.4,397.9 781.2,399.6 782.8,400.5M782.8,400.5 784,399.4 785.1,398.2 786.6,397.3 787,395.7 787.3,394 787.7,392.3 788.7,390.8 790.5,390.3M789.6,389.2 790.5,390.3M774.8,376.9 773.8,379.7 775.6,382 776.7,384.3 777.3,386.8M768.3,396.2 770.2,395.8 772,395.2M788.1,373.4 788.5,375.4 788.5,377.5 788.2,379.5 787.7,381.4 788.5,383.4 789.9,385 790.2,387.1 789.6,389.2M784.5,407.1 784.1,405.4 782.8,404 783,402.3 782.8,400.5M794.9,391.3 792.7,390.8 790.5,390.3M683.6,452.7 685.3,453.2 686.7,454.3 688.5,454.7 690.2,454.2M688.3,437.5 690.2,438.3 691.8,439.6 693.6,440.5 695,442.1M690.2,454.2 690.5,452.3 689.4,450.7 690.4,449.2 691.4,447.7 693.6,447.2 693.4,445 694.6,443.8 695,442.1M704.9,437.6 703.3,440M715.1,451.1 712.8,451.1 710.5,451.1 708.2,450.6 706,449.8M706,449.8 705.5,447.3 705.3,444.7 703.8,442.6 703.3,440M703.3,440 701.6,441.5 699.4,441.9 697.2,443.5 695,442.1M692.8,466.3 692.1,464.2 693.5,462.6 693.3,460.7 693.9,458.9M692.8,466.3 694.5,468.1 695.7,470.3 697.7,472.1 700.4,471.8M693.9,458.9 696.3,458.3 698.1,456.7 700.4,456.1 702.8,456.3M702.8,456.3 704,458.8 706,460.7 708.6,461.5 710.8,463.2M700.4,471.8 702.9,470.3 704.8,468.2 707.6,467.7 710.4,468.4M710.4,468.4 709.9,465.7 710.8,463.2M685.9,471.1 687.6,469.8 689.7,469.2 690.8,467.3 692.8,466.3M690.2,454.2 691.7,456.8 693.9,458.9M700.9,481.5 699.9,479.1 700.5,476.6 700.2,474.2 700.4,471.8M706,449.8 704.8,451.2 703.7,452.7 704.5,454.8 702.8,456.3M718.7,457.4 716.8,459.1 715.6,461.4 713.2,462.4 710.8,463.2M711.5,469.6 710.4,468.4"/>
</g>
<path d="M146.2,371.2 147.6,369.3 149.6,368.2 151.7,367.1 153.8,366.2 156.2,365.9 158.3,364.7 160.4,363.6 162.5,362.5 164.5,360 167.1,358.3 170,357 172.5,355 175.4,354.6 178.2,354 179.9,351.5 182.5,350 185.3,349 187.1,346.6 189.8,345.9 192.5,345 194.5,342.6 196.5,340.3 199.3,338.9 202.5,338.8 203.8,335.6 205.6,332.7 207.5,329.8 210,327.5 212.2,324.5 214.4,321.6 215.6,318.1 217.5,315 219.9,312.9 221.6,310.3 222.5,307.1 225,305 226.3,302.1 228.5,299.8 230.4,297.4 232.5,295 231.4,292.9 230.2,290.8 230.1,288.4 230,286 231.6,284.7 233.7,284 235.5,283.1 237.5,282.5 239.3,280.2 242,279 244.8,278.4 247.5,277.5 248.2,274.3 247.5,271 249.1,268.2 250,265 248.8,261.9 247.3,258.9 247.5,255.5 249,252.5 251.1,251.9 253.3,251.3 255.2,249.9 257.5,250 257.9,247.4 258.5,244.9 259.7,242.6 260,240 262.2,238.8 264.1,237 266.4,236 269,236 268.9,234.5 269.3,233 270,231.6 270,230 271.4,226.9 270.1,223.7 269.9,220.5 269,217.5 270.8,216 272.1,214.1 272.8,212 274,210 275.9,208.5 277,206.2 278.3,204.2 280,202.5 281.9,200.7 283.9,198.9 285.9,197.1 287.5,195 289.1,192.3 290.9,189.8 293.1,187.5 295,185 297.4,183.7 300,183.1 302.7,182.4 305,181 307,179 309.6,178.1 312.2,177.2 315,177.5 316.5,175.1 318.4,172.9 318.7,170.1 320,167.5 321.6,165.1 322.9,162.5 324.9,160.3 327.5,159 329.9,157.4 331.9,155.4 334.6,154.1 337.5,154 339.9,152.6 342.4,151.2 344.8,149.9 347.5,149 350.5,147.6 352.5,145 354.8,142.7 357.5,141 359.5,139.1 362.3,138.9 364.9,138.8 367.5,139 369.2,140.5 370.9,141.8 372.6,143.3 374,145 376.2,145.2 378.4,145.9 380.5,146.5 382.5,147.5 386.2,147 390,147.1 393.8,146.7 397.5,146.2 398.2,148 399.1,149.6 401.1,150 402.5,151.2 406.2,152.7 410,153.6 413.6,151.8 417.5,151.2 423.2,151.6 429,151.8 434.3,149.7 440,148.8 442.6,148.6 445.1,149.4 447.6,150.4 450,151.2 454.3,152.5 458.5,154.2 463,154.3 467.5,153.8 467.7,155.2 468.8,156.2 467.6,157.1 466.5,158 465.2,158.5 463.8,158.8 465.3,161.9 465.7,165.5 465.4,169 465,172.5 466.6,174.7 467.8,177.1 469.5,179.2 471.2,181.2 472.4,181.8 473.7,182.2 474.9,182.6 476.2,182.5 477.7,181.5 479,180.2 480.5,179.2 481.2,177.5 482.1,175.7 482.9,173.9 483.6,172 483.8,170 485.3,169.6 486.9,169.5 488.4,170 490,170 490.2,172.2 491.4,174 492.6,175.7 493.8,177.5 493.5,180.2 495.1,182.5 493.9,184.9 493.8,187.5 495,188.6 496.6,188.9 497.7,190.1 498.8,191.2 498.9,189.8 499.2,188.3 500.1,187.2 501.2,186.2 501.3,183.3 502.2,180.4 501,177.8 500,175 500.5,173.7 501.1,172.4 501.6,171.1 502.5,170 507,170.4 511.3,169.1 515.7,168.8 520,167.5 524.7,165.3 529.9,165.2 534.9,165.8 540,166.2 543,165.2 546.2,164.8 549.4,164 552.5,165 553.7,164.1 554.6,162.9 554.6,161.4 555,160 555.4,161.6 556.5,162.8 558.1,163.4 558.8,165 562.2,164.4 565.6,164.3 569,165.1 572.5,165 573.4,163.7 574.3,162.5 575.3,161.2 576.2,160 576.2,161.8 577.3,163.1 578.7,163.9 580,165 581.5,165.1 582.4,164 583.7,163.6 585,163.8 584.8,161.9 584.6,160 585,158.1 585,156.2 588.2,156.7 591.4,156.8 594.3,155.4 597.5,155 602.5,155.4 607.6,155.3 612.8,156.2 617.5,153.8 619,154.4 620,155.6 621.4,156.3 622.5,157.5 623.5,159.6 624,161.9 626.3,162.8 627.5,165 629.5,166.4 631.6,167.7 632.9,169.9 635,171.2 636.1,172.8 637.4,174 637.8,175.9 638.8,177.5 637.5,179.6 636.1,181.6 633.8,182.7 632.5,185 632.1,187.4 632.4,189.8 633.6,191.8 635,193.8 637.2,195.8 639.4,197.9 642.2,198.9 645,200 646.3,202 647.6,204.1 648.2,206.4 648.8,208.8 648,210.3 647.2,211.9 647.6,213.6 648.8,215 646.6,215.9 644.4,216.6 642.5,218 641.2,220 641.9,222.6 642.6,225.2 640.9,227.4 640,230 642.7,231.5 644.7,233.9 644.3,237 645,240 646.2,242.3 646.5,244.9 647.2,247.4 647.5,250 649,252.6 651.1,254.7 652.2,257.5 653.8,260 655.1,262.3 655.9,264.9 656.7,267.4 657.5,270 658.3,272.2 660,273.8 662.6,273.6 665.1,272.8 667.5,272 670,271.2 671.7,270.3 673.6,269.8 675.5,270.1 677.5,270 680.1,270 682.5,270.7 685.1,270.3 687.5,271.2 688.8,272.8 689.9,274.4 691.3,275.9 692.5,277.5 694.4,278.7 696.4,279.8 698.1,281.2 700,282.5 698.8,284.8 698.5,287.4 698,290 698.8,292.5 696.4,294.2 693.8,295.6 691.9,297.8 690,300 688.7,301.5 687.2,302.9 685.9,304.5 685,306.2 685.5,308.5 685.3,310.9 687.1,312.6 687.5,315 687.6,317.6 687.7,320.3 688.5,322.8 690,325 688.6,326.3 688.1,328.1 686.4,328.8 685,330 686.7,331.1 688.2,332.4 689.7,333.7 691.2,335 689.9,337.6 688.3,340.1 687.1,342.9 685,345 685.7,347.8 686.4,350.6 688.2,352.8 690,355 692.8,356.4 693.7,359.4 695.4,361.8 697.5,363.8 699.9,365.1 702.1,366.6 704.1,368.3 706.2,370 706.3,372.6 707.1,375 707,377.6 706.2,380 708.5,381.6 710.1,383.9 711.2,386.3 712.5,388.8 713.4,390.4 714,392.1 715.5,393.3 716.2,395 717.9,396 719,397.5 720.6,398.5 722.5,398.8 725,398.7 727.5,399.3 730,399.4 732.5,400 735.1,400 737.6,399.2 740,398.2 742.5,397.5 744.6,397.2 746.1,395.5 747.3,394 748.8,392.5 750.5,392.5 752.1,393.1 753.8,393.7 755,395 756.7,393.9 758.6,393.3 760.5,392.4 762.5,392.5 761.7,391.3 762.1,389.9 761.4,388.8 761.2,387.5 760.9,386.1 760.1,384.9 758.8,384.2 757.5,383.8 759.4,383.5 760.8,382.1 762.4,381.2 763.8,380 763.7,378.4 764.4,376.9 764.7,375.3 765,373.8 766.8,372.9 768.8,372.5 769.7,373.6 770.3,374.8 770.8,376.2 771.2,377.5 773.5,377.4 775.6,376.6 777.8,375.9 780,376.2 781,377.6 782.6,378 783.8,379 785,380 786.6,379.6 787.9,378.7 789.2,377.7 790,376.2 791.4,377.1 792.3,378.5 793.7,379.2 795,380 796.4,378.1 798.6,377.2 800.4,376 802.5,375 803.4,372.6 805.5,371 807.8,370 810,368.8 812.3,367.2 815,366.2 817.3,364.6 820,363.8 823,362.6 826.1,361.9 829.3,361.3 832.5,361.2 835.2,360.1 838.1,359.3 841,358.6 843.8,357.5 845.1,359.3 846.6,360.9 848.5,362.1 850,363.8 851,365.9 852.4,367.9 853.1,370.2 853.8,372.5 857.6,371.9 860.6,374.3 864.5,373.6 867.5,376.2 870.1,375.6 872.6,374.7 875.3,374.2 877.5,372.5 879.9,373.2 882.4,373.8 885,373.8 887.5,373.8 889.9,374.8 892.5,375.1 894.6,376.7 896.2,378.8 895.4,380.5 894.7,382.4 894.1,384.3 893.8,386.2 891.7,387.7 889.5,388.8 888,390.7 886.2,392.5 884.2,393.6 882.1,394.4 879.7,394 877.5,395 875.5,395.7 873.9,397.1 871.8,397.6 870,398.8 866.7,398.8 863.5,399.8 860.7,401.7 857.5,402.5 854.8,402.2 852.4,403.4 850.1,404.5 847.5,405 846.5,407 845,408.8 843.7,410.6 842.5,412.5 841.7,414.4 842,416.5 841.1,418.3 840,420 838.9,422 839.2,424.3 837.4,425.6 836.2,427.5 837.5,429.3 839.1,430.9 840.9,432.2 842.5,433.8 844,435.1 845.7,436.1 847,437.7 848.8,438.8 846.5,438.6 844.3,438.6 842.2,439.5 840,440 838,440.3 836.3,441.4 834.3,441.4 832.5,442.5 830.2,444.1 827.7,445.3 824.8,445.8 822.5,447.5 819.7,448.1 817.2,449.3 815.2,451.5 812.5,452.5 810.2,453.8 807.6,454.7 805,455.4 802.5,456.2 799.9,457.4 798.1,459.6 795.3,459.7 792.5,460 791.7,461.4 790.4,462.4 789.6,463.7 788.8,465 789.5,467 789.1,469.1 790.1,470.8 791.2,472.5 789.7,474.1 787.7,475.2 786.1,476.8 785,478.8 783.3,477.5 781.1,477.1 779.4,475.9 777.5,475 775.3,473.4 772.6,473.5 770.1,472.6 767.5,472.5 764.2,472.1 761.4,470.4 758.2,471.2 755,471.2 751.8,470.9 748.6,471.6 745.5,472.7 742.5,473.8 740,475.5 737.1,476.2 734.7,478 732.5,480 730.9,482.2 729.5,484.5 727.4,486.2 725,487.5 723.6,489.5 722.3,491.6 720,492.7 718.8,495 716.4,495 714.1,494.5 712.3,493.1 710,492.5 706.3,493.7 704,496.7 700.7,498.2 697.5,500 694.3,501.3 691.2,503 687.6,503.7 685,506.2 681.6,507.1 678.4,508.6 675.4,510.4 672.5,512.5 670.2,515.4 667.1,517.4 663.4,517.1 660,518.8 658.5,519.7 657.1,520.9 655.9,522.2 655,523.8 648.9,528.1 643.3,533.1 637.2,537.6 630,540 625.1,543.1 619.6,544.9 614.9,548.3 610,551.2 606.2,554 602,556.3 598.2,559 595,562.5 592,565.9 589.4,569.6 586.2,573 585,577.5 585.6,579.9 584.9,582.2 583.5,584.1 582.5,586.2 579.3,587.1 577.4,589.9 575.2,592.2 573.8,595 571.8,596.8 569.5,597.9 567.6,599.8 566.2,602 564.5,599.7 563.7,596.9 561.5,595 560,592.5 559.4,590.6 558.7,588.8 557.1,587.2 557.5,585 556.7,582.8 555.7,580.6 554.6,578.5 553.8,576.2 552.1,577 550.5,578 549.2,579.3 547.5,580 545.3,578.7 543.3,577.2 540.8,576.5 538.8,575 535.9,576.5 534.2,579.2 532.7,582 530,583.8 527.6,583.3 525.9,581.6 525.6,579.1 523.8,577.5 524.3,575.6 524.8,573.7 525.3,571.7 526.2,570 525.2,568.2 525.6,566.2 526,564.4 526.2,562.5 526.8,559.9 529,558.2 529.7,555.8 531.2,553.8 530.1,552.6 529,551.5 528.3,550.1 527.5,548.8 523.9,547.1 520,547.2 516.1,547.3 512.5,548.8 507.9,548 504.1,545.4 499.6,546.3 495,546.2 491.8,545.8 488.6,545.6 485.6,546.5 482.5,547.5 479.8,549.2 476.7,548.9 474.1,547.2 471.2,546.2 469.7,545.3 468.2,544.2 466.6,543.5 465,542.5 464.2,540.7 463.2,538.9 463.8,537 463.8,535 465.1,534 466.4,533.1 466.9,531.5 467.5,530 468.5,528.1 468.6,525.9 470.5,524.6 471.2,522.5 469.6,520.7 467.7,519.1 466.4,517 465,515 462.3,513.8 461.4,510.9 459.9,508.7 458.8,506.2 456.8,504.2 456.1,501.5 454,499.8 452.5,497.5 449.5,495.3 445.8,494.7 445.7,491.1 445,487.5 443.3,485.1 441.9,482.5 440,480.2 438.8,477.5 439.2,474.3 439.9,471.2 440.4,468.1 441.2,465 440.4,461.9 439.3,458.8 439.3,455.4 437.5,452.5 436.8,449.3 435.9,446.2 436.3,443 437.5,440 435,437.5 435,434 435.3,430.8 435,427.5 432.8,425.9 431.1,423.7 430.1,421.1 428.8,418.8 426.2,417.3 423.6,415.9 421.8,413.6 420,411.2 418.3,408.3 415.6,406.2 412.5,404.8 410,402.5 407.5,401.8 405.1,401.1 402.5,401.1 400,401.2 398.5,401.4 397,402 395.6,402.6 394,402.5 389.5,401.7 385.1,402.7 380.7,403.5 376.2,403.8 372.7,402.6 369.6,400.6 366,401.4 362.5,402.5 359.4,403.1 356.2,403.1 353.1,403.4 350,402.5 348.8,403.3 347.6,404 346.4,404.7 345,405 343.6,404 342,403.9 340.3,404.3 338.8,403.8 338.7,402.1 338.6,400.5 338.1,399 337.5,397.5 336.8,394.9 335.1,392.7 332.6,391.8 330,391.2 328.9,390.2 328.8,388.7 328.3,387.4 327.5,386.2 326.5,388.3 325,390 322.5,389.3 320,388.6 317.6,387.6 315,387.5 313,385.6 310.5,384.4 307.7,384.1 305,385 302.5,383.6 299.9,382.7 297.6,381 295,380 292.3,379.7 290,381.3 287.4,381 285,380 283,380.5 281.5,382.1 279.4,381.5 277.5,382.5 275.6,382.6 273.7,382.3 272.1,380.8 270,381.2 267.3,381.5 265,379.9 262.4,379.6 260,378.8 257.3,376.7 254.2,375.2 250.8,375.3 247.5,376.2 245.6,373.9 243.2,372 240.3,371.2 237.5,370 235.5,369.9 233.5,370.1 231.5,369.4 230,368 228.1,369 226.2,370 225,372 224.2,374.2 224.6,376.5 225,378.8 223.7,378.9 222.5,379.3 221.2,379.5 220,380 218.5,379.3 217.1,378.7 216.4,377.2 215,376.2 211.2,376.3 207.5,375.2 203.8,376.2 200,376.2 196.6,377 193.1,376.7 190.9,373.8 187.5,372.5 184.5,374 181.3,374.5 178.2,375.7 175,376.2 171.8,375.4 168.7,374.5 165.5,373.7 162.5,372.5 160.6,372.9 158.8,373.6 156.9,373.2 155,373.8 153.4,375.4 151.5,376.6 149.3,377.3 147.5,378.8 145.9,377.8 145,376.2 145.1,375 145.4,373.7 145.8,372.5ZM796.2,470 798.1,469.8 800,469.9 801.9,470 803.8,470 805.1,471.3 806,472.9 807.1,474.4 807.5,476.2 806.7,477.9 805.4,479.2 804.5,480.8 803.8,482.5 804.5,483.9 805.5,485.1 806.5,486.3 807.5,487.5 806.3,488.1 805.1,488.6 803.8,489.1 802.5,489.5 801.5,488.4 800.3,487.5 799.4,486.3 798.8,485 796.5,484.8 794.3,484.8 792.2,485.6 790,486.2 789.9,485 789.5,483.7 788.9,482.5 788.8,481.2 790.1,480 791.7,479.1 793.4,478.3 795,477.5 795.4,475.6 795.8,473.8 795.9,471.9Z" fill="none" stroke="#6a6a6a" stroke-width="0.9" stroke-linejoin="round"/>
<path fill="#46961e" stroke="#1d3a10" stroke-width="0.9" d="M326.8,171.2l2.6,2.6l-2.6,2.6l-2.6,-2.6zM346.8,173.2l2.6,2.6l-2.6,2.6l-2.6,-2.6zM357.8,176.9l2.6,2.6l-2.6,2.6l-2.6,-2.6zM370.8,179.9l2.6,2.6l-2.6,2.6l-2.6,-2.6zM382,176.9l2.6,2.6l-2.6,2.6l-2.6,-2.6zM330,189.9l2.6,2.6l-2.6,2.6l-2.6,-2.6zM353.8,192.4l2.6,2.6l-2.6,2.6l-2.6,-2.6zM357.8,211.2l2.6,2.6l-2.6,2.6l-2.6,-2.6zM290.8,229.2l2.6,2.6l-2.6,2.6l-2.6,-2.6zM315,250.2l2.6,2.6l-2.6,2.6l-2.6,-2.6zM330.8,257.1l2.6,2.6l-2.6,2.6l-2.6,-2.6zM368,254.2l2.6,2.6l-2.6,2.6l-2.6,-2.6zM273,269.1l2.6,2.6l-2.6,2.6l-2.6,-2.6zM276.8,278.1l2.6,2.6l-2.6,2.6l-2.6,-2.6zM354.5,286.1l2.6,2.6l-2.6,2.6l-2.6,-2.6zM315,295.1l2.6,2.6l-2.6,2.6l-2.6,-2.6zM362,316.1l2.6,2.6l-2.6,2.6l-2.6,-2.6zM371.8,325.4l2.6,2.6l-2.6,2.6l-2.6,-2.6zM287.5,330.9l2.6,2.6l-2.6,2.6l-2.6,-2.6zM315,377.4l2.6,2.6l-2.6,2.6l-2.6,-2.6zM340,390.4l2.6,2.6l-2.6,2.6l-2.6,-2.6zM360.8,387.4l2.6,2.6l-2.6,2.6l-2.6,-2.6zM369.2,377.4l2.6,2.6l-2.6,2.6l-2.6,-2.6zM373,379.9l2.6,2.6l-2.6,2.6l-2.6,-2.6zM387,386.9l2.6,2.6l-2.6,2.6l-2.6,-2.6zM457,156.2l2.6,2.6l-2.6,2.6l-2.6,-2.6zM407,187.9l2.6,2.6l-2.6,2.6l-2.6,-2.6zM406,206.7l2.6,2.6l-2.6,2.6l-2.6,-2.6zM430,218.2l2.6,2.6l-2.6,2.6l-2.6,-2.6zM447.8,222.2l2.6,2.6l-2.6,2.6l-2.6,-2.6zM463.2,225.2l2.6,2.6l-2.6,2.6l-2.6,-2.6zM548,181.2l2.6,2.6l-2.6,2.6l-2.6,-2.6zM613.8,176.2l2.6,2.6l-2.6,2.6l-2.6,-2.6zM621.8,199.7l2.6,2.6l-2.6,2.6l-2.6,-2.6zM529,213.2l2.6,2.6l-2.6,2.6l-2.6,-2.6zM520,229.2l2.6,2.6l-2.6,2.6l-2.6,-2.6zM495,255.4l2.6,2.6l-2.6,2.6l-2.6,-2.6zM571.8,247.4l2.6,2.6l-2.6,2.6l-2.6,-2.6zM590,253.2l2.6,2.6l-2.6,2.6l-2.6,-2.6zM624.2,237.2l2.6,2.6l-2.6,2.6l-2.6,-2.6zM624.2,251.2l2.6,2.6l-2.6,2.6l-2.6,-2.6zM642.5,250.7l2.6,2.6l-2.6,2.6l-2.6,-2.6zM633.8,260.1l2.6,2.6l-2.6,2.6l-2.6,-2.6zM610.8,276.6l2.6,2.6l-2.6,2.6l-2.6,-2.6zM604,313.1l2.6,2.6l-2.6,2.6l-2.6,-2.6zM400,271.9l2.6,2.6l-2.6,2.6l-2.6,-2.6zM422,283.6l2.6,2.6l-2.6,2.6l-2.6,-2.6zM483.8,288.1l2.6,2.6l-2.6,2.6l-2.6,-2.6zM656,276.1l2.6,2.6l-2.6,2.6l-2.6,-2.6zM667,288.1l2.6,2.6l-2.6,2.6l-2.6,-2.6zM680,292.4l2.6,2.6l-2.6,2.6l-2.6,-2.6zM649.5,302.1l2.6,2.6l-2.6,2.6l-2.6,-2.6zM652.8,303.1l2.6,2.6l-2.6,2.6l-2.6,-2.6zM667,307.1l2.6,2.6l-2.6,2.6l-2.6,-2.6zM676.8,316.9l2.6,2.6l-2.6,2.6l-2.6,-2.6zM678,325.1l2.6,2.6l-2.6,2.6l-2.6,-2.6zM410,339.1l2.6,2.6l-2.6,2.6l-2.6,-2.6zM441.7,348.1l2.6,2.6l-2.6,2.6l-2.6,-2.6zM473.5,355.1l2.6,2.6l-2.6,2.6l-2.6,-2.6zM579.3,366.7l2.6,2.6l-2.6,2.6l-2.6,-2.6zM620,366.1l2.6,2.6l-2.6,2.6l-2.6,-2.6zM526.7,383.4l2.6,2.6l-2.6,2.6l-2.6,-2.6zM604,381.4l2.6,2.6l-2.6,2.6l-2.6,-2.6zM620,386.9l2.6,2.6l-2.6,2.6l-2.6,-2.6zM635,391.1l2.6,2.6l-2.6,2.6l-2.6,-2.6zM659,380.1l2.6,2.6l-2.6,2.6l-2.6,-2.6zM677.5,379.1l2.6,2.6l-2.6,2.6l-2.6,-2.6zM681.2,379.1l2.6,2.6l-2.6,2.6l-2.6,-2.6zM650,397.4l2.6,2.6l-2.6,2.6l-2.6,-2.6zM613.5,405.1l2.6,2.6l-2.6,2.6l-2.6,-2.6zM670,404.9l2.6,2.6l-2.6,2.6l-2.6,-2.6zM695,402.4l2.6,2.6l-2.6,2.6l-2.6,-2.6zM705.8,397.4l2.6,2.6l-2.6,2.6l-2.6,-2.6zM715.2,393.1l2.6,2.6l-2.6,2.6l-2.6,-2.6zM711.8,409.1l2.6,2.6l-2.6,2.6l-2.6,-2.6zM694.2,415.4l2.6,2.6l-2.6,2.6l-2.6,-2.6zM702,416.6l2.6,2.6l-2.6,2.6l-2.6,-2.6zM707.8,419.1l2.6,2.6l-2.6,2.6l-2.6,-2.6zM662.5,421.1l2.6,2.6l-2.6,2.6l-2.6,-2.6zM667,421.9l2.6,2.6l-2.6,2.6l-2.6,-2.6zM676.8,422.4l2.6,2.6l-2.6,2.6l-2.6,-2.6zM639.2,412.4l2.6,2.6l-2.6,2.6l-2.6,-2.6zM775.8,383.1l2.6,2.6l-2.6,2.6l-2.6,-2.6zM788,398.1l2.6,2.6l-2.6,2.6l-2.6,-2.6zM820,443.1l2.6,2.6l-2.6,2.6l-2.6,-2.6zM788.8,458.1l2.6,2.6l-2.6,2.6l-2.6,-2.6zM763.8,464.9l2.6,2.6l-2.6,2.6l-2.6,-2.6zM795.8,474.4l2.6,2.6l-2.6,2.6l-2.6,-2.6zM787.8,481.1l2.6,2.6l-2.6,2.6l-2.6,-2.6zM712.8,482.1l2.6,2.6l-2.6,2.6l-2.6,-2.6zM662.5,476.1l2.6,2.6l-2.6,2.6l-2.6,-2.6zM650,483.1l2.6,2.6l-2.6,2.6l-2.6,-2.6zM643,513.1l2.6,2.6l-2.6,2.6l-2.6,-2.6zM656.8,516.1l2.6,2.6l-2.6,2.6l-2.6,-2.6zM425,399.9l2.6,2.6l-2.6,2.6l-2.6,-2.6zM435,397.9l2.6,2.6l-2.6,2.6l-2.6,-2.6zM440,411.1l2.6,2.6l-2.6,2.6l-2.6,-2.6zM459.5,411.1l2.6,2.6l-2.6,2.6l-2.6,-2.6zM458.8,422.9l2.6,2.6l-2.6,2.6l-2.6,-2.6zM450,428.1l2.6,2.6l-2.6,2.6l-2.6,-2.6zM459,433.1l2.6,2.6l-2.6,2.6l-2.6,-2.6zM469,449.9l2.6,2.6l-2.6,2.6l-2.6,-2.6zM453,475.9l2.6,2.6l-2.6,2.6l-2.6,-2.6zM477.8,478.1l2.6,2.6l-2.6,2.6l-2.6,-2.6zM462,499.1l2.6,2.6l-2.6,2.6l-2.6,-2.6zM513,437.1l2.6,2.6l-2.6,2.6l-2.6,-2.6zM541,412.4l2.6,2.6l-2.6,2.6l-2.6,-2.6zM569,455.1l2.6,2.6l-2.6,2.6l-2.6,-2.6zM564.8,465.1l2.6,2.6l-2.6,2.6l-2.6,-2.6zM542.8,489.1l2.6,2.6l-2.6,2.6l-2.6,-2.6zM504,531.1l2.6,2.6l-2.6,2.6l-2.6,-2.6zM490,541.9l2.6,2.6l-2.6,2.6l-2.6,-2.6zM505,541.9l2.6,2.6l-2.6,2.6l-2.6,-2.6zM524.8,537.4l2.6,2.6l-2.6,2.6l-2.6,-2.6zM579,521.1l2.6,2.6l-2.6,2.6l-2.6,-2.6zM585.8,530.1l2.6,2.6l-2.6,2.6l-2.6,-2.6zM585.8,534.4l2.6,2.6l-2.6,2.6l-2.6,-2.6zM572.8,546.1l2.6,2.6l-2.6,2.6l-2.6,-2.6zM582.8,549.1l2.6,2.6l-2.6,2.6l-2.6,-2.6zM579,574.4l2.6,2.6l-2.6,2.6l-2.6,-2.6zM615,484.9l2.6,2.6l-2.6,2.6l-2.6,-2.6zM617.8,513.1l2.6,2.6l-2.6,2.6l-2.6,-2.6z"/>

<rect x="93" y="56" width="870" height="704" fill="none" stroke="#000" stroke-width="4"/>
<text x="267" y="87.7" font-size="26.67"  text-anchor="start" fill="#000" textLength="484" lengthAdjust="spacingAndGlyphs">Diferença de Temperatura Máxima do Ar</text>
<text x="490.6" y="120.2" font-size="13.33" font-weight="bold" text-anchor="middle" fill="#000" textLength="98.5" lengthAdjust="spacingAndGlyphs">Agosto de 2014</text>
<text x="180" y="541.7" font-size="18" font-weight="bold" text-anchor="start" fill="#000" textLength="92.7" lengthAdjust="spacingAndGlyphs">LEGENDA</text>
<text x="112" y="574" font-size="17.3" font-weight="bold" text-anchor="start" fill="#000" textLength="228.7" lengthAdjust="spacingAndGlyphs">Dif de Temp Max do Ar (ºC)</text>
<rect x="112.6" y="585.2" width="24" height="16" fill="#0000ff" stroke="#6e6e6e" stroke-width="1"/>
<text x="141.2" y="596.9" font-size="13.33"  text-anchor="start" fill="#000" >(-2,40) a (0,62)</text>
<rect x="112.6" y="608.6" width="24" height="16" fill="#38beff" stroke="#6e6e6e" stroke-width="1"/>
<text x="141.2" y="620.3" font-size="13.33"  text-anchor="start" fill="#000" >(0,62) a (1,20)</text>
<rect x="112.6" y="632.0" width="24" height="16" fill="#a0ff78" stroke="#6e6e6e" stroke-width="1"/>
<text x="141.2" y="643.7" font-size="13.33"  text-anchor="start" fill="#000" >(1,20) a (1,30)</text>
<rect x="112.6" y="655.4" width="24" height="16" fill="#ffff00" stroke="#6e6e6e" stroke-width="1"/>
<text x="141.2" y="667.1" font-size="13.33"  text-anchor="start" fill="#000" >(1,30) a (1,88)</text>
<rect x="112.6" y="678.7" width="24" height="16" fill="#ff0000" stroke="#6e6e6e" stroke-width="1"/>
<text x="141.2" y="690.4" font-size="13.33"  text-anchor="start" fill="#000" >(1,88) a (4,90)</text>
<rect x="112.6" y="702.1" width="24" height="16" fill="#ffffff" stroke="#6e6e6e" stroke-width="1"/>
<text x="141.2" y="713.8" font-size="13.33"  text-anchor="start" fill="#000" >Limite_Municípios de SP</text>
<path d="M124,729.4l3.3,3.3l-3.3,3.3l-3.3,-3.3z" fill="#3f8a1c" stroke="#1d3a10" stroke-width="0.9"/>
<text x="141.2" y="736.8" font-size="13.33"  text-anchor="start" fill="#000" >Postos Meteorológicos</text>
<rect x="452" y="710" width="227" height="12.4" fill="#fff" stroke="#000" stroke-width="1"/>
<rect x="452" y="710" width="14.20" height="6.2" fill="#000"/>
<rect x="466.2" y="716.2" width="14.20" height="6.2" fill="#000"/>
<rect x="480.4" y="710" width="14.20" height="6.2" fill="#000"/>
<rect x="494.6" y="716.2" width="14.15" height="6.2" fill="#000"/>
<rect x="508.75" y="710" width="56.75" height="6.2" fill="#000"/>
<rect x="565.5" y="716.2" width="56.75" height="6.2" fill="#000"/>
<rect x="622.25" y="710" width="56.75" height="6.2" fill="#000"/>
<text x="451.4" y="703.8" font-size="11.2"  text-anchor="middle" fill="#000" >0</text>
<text x="479.79999999999995" y="703.8" font-size="11.2"  text-anchor="middle" fill="#000" >37,5</text>
<text x="508.15" y="703.8" font-size="11.2"  text-anchor="middle" fill="#000" >75</text>
<text x="564.9" y="703.8" font-size="11.2"  text-anchor="middle" fill="#000" >150</text>
<text x="621.65" y="703.8" font-size="11.2"  text-anchor="middle" fill="#000" >225</text>
<text x="678.4" y="703.8" font-size="11.2"  text-anchor="middle" fill="#000" >300</text>
<text x="682" y="721.6" font-size="12.3"  text-anchor="start" fill="#000" >Km</text>
<text x="516" y="747.7" font-size="16.4"  text-anchor="start" fill="#000" textLength="88.5" lengthAdjust="spacingAndGlyphs">1:5.000.000</text>
<g><path d="M572.88,659.10A9.6,9.6 0 0 1 571.17,663.24" fill="none" stroke="#000" stroke-width="2.8"/><path d="M569.04,665.37A9.6,9.6 0 0 1 564.90,667.08" fill="none" stroke="#000" stroke-width="2.8"/><path d="M561.90,667.08A9.6,9.6 0 0 1 557.76,665.37" fill="none" stroke="#000" stroke-width="2.8"/><path d="M555.63,663.24A9.6,9.6 0 0 1 553.92,659.10" fill="none" stroke="#000" stroke-width="2.8"/><path d="M553.92,656.10A9.6,9.6 0 0 1 555.63,651.96" fill="none" stroke="#000" stroke-width="2.8"/><path d="M557.76,649.83A9.6,9.6 0 0 1 561.90,648.12" fill="none" stroke="#000" stroke-width="2.8"/><path d="M564.90,648.12A9.6,9.6 0 0 1 569.04,649.83" fill="none" stroke="#000" stroke-width="2.8"/><path d="M571.17,651.96A9.6,9.6 0 0 1 572.88,656.10" fill="none" stroke="#000" stroke-width="2.8"/><line x1="563.4" y1="657.6" x2="574.36" y2="668.56" stroke="#222" stroke-width="0.8"/><line x1="563.4" y1="657.6" x2="552.44" y2="668.56" stroke="#222" stroke-width="0.8"/><line x1="563.4" y1="657.6" x2="552.44" y2="646.64" stroke="#222" stroke-width="0.8"/><line x1="563.4" y1="657.6" x2="574.36" y2="646.64" stroke="#222" stroke-width="0.8"/><g transform="rotate(0 563.4 657.6)"><path d="M563.4,657.6L563.4,638.3000000000001L560.8,651.6Z" fill="#000"/><path d="M563.4,657.6L563.4,638.3000000000001L566.0,651.6Z" fill="#fff" stroke="#000" stroke-width="0.5"/></g><g transform="rotate(90 563.4 657.6)"><path d="M563.4,657.6L563.4,638.3000000000001L560.8,651.6Z" fill="#000"/><path d="M563.4,657.6L563.4,638.3000000000001L566.0,651.6Z" fill="#fff" stroke="#000" stroke-width="0.5"/></g><g transform="rotate(180 563.4 657.6)"><path d="M563.4,657.6L563.4,638.3000000000001L560.8,651.6Z" fill="#000"/><path d="M563.4,657.6L563.4,638.3000000000001L566.0,651.6Z" fill="#fff" stroke="#000" stroke-width="0.5"/></g><g transform="rotate(270 563.4 657.6)"><path d="M563.4,657.6L563.4,638.3000000000001L560.8,651.6Z" fill="#000"/><path d="M563.4,657.6L563.4,638.3000000000001L566.0,651.6Z" fill="#fff" stroke="#000" stroke-width="0.5"/></g></g>
<text x="563.3" y="637" font-size="6.8" font-weight="bold" text-anchor="middle" fill="#000" >N</text>
<text x="563.2" y="685" font-size="6.8" font-weight="bold" text-anchor="middle" fill="#000" >S</text>
<text x="539.3" y="660" font-size="6.8" font-weight="bold" text-anchor="middle" fill="#000" >W</text>
<text x="586.6" y="660" font-size="6.8" font-weight="bold" text-anchor="middle" fill="#000" >E</text>
<g><text transform="translate(844.5,586.2) skewY(-11) scale(1.12,1)" font-size="22" font-weight="bold" fill="#24382a">A</text><text transform="translate(845.5,585.9) skewY(-11) scale(1.12,1)" font-size="22" font-weight="bold" fill="#24382a">A</text><text transform="translate(846.5,585.6) skewY(-11) scale(1.12,1)" font-size="22" font-weight="bold" fill="#24382a">A</text><text transform="translate(847.5,585.3) skewY(-11) scale(1.12,1)" font-size="22" font-weight="bold" fill="#24382a">A</text><text transform="translate(848.5,585) skewY(-11) scale(1.12,1)" font-size="22" font-weight="bold" fill="#2f7f2f" stroke="#52e052" stroke-width="1">A</text><text transform="translate(830.5,591.8000000000001) skewY(-11) scale(0.97,1)" font-size="28" font-weight="bold" fill="#24382a">P</text><text transform="translate(831.5,591.5) skewY(-11) scale(0.97,1)" font-size="28" font-weight="bold" fill="#24382a">P</text><text transform="translate(832.5,591.2) skewY(-11) scale(0.97,1)" font-size="28" font-weight="bold" fill="#24382a">P</text><text transform="translate(833.5,590.9) skewY(-11) scale(0.97,1)" font-size="28" font-weight="bold" fill="#24382a">P</text><text transform="translate(834.5,590.6) skewY(-11) scale(0.97,1)" font-size="28" font-weight="bold" fill="#2f7f2f" stroke="#52e052" stroke-width="1">P</text><text transform="translate(813,598.8000000000001) skewY(-11) scale(0.84,1)" font-size="36" font-weight="bold" fill="#24382a">E</text><text transform="translate(814,598.5) skewY(-11) scale(0.84,1)" font-size="36" font-weight="bold" fill="#24382a">E</text><text transform="translate(815,598.2) skewY(-11) scale(0.84,1)" font-size="36" font-weight="bold" fill="#24382a">E</text><text transform="translate(816,597.9) skewY(-11) scale(0.84,1)" font-size="36" font-weight="bold" fill="#24382a">E</text><text transform="translate(817,597.6) skewY(-11) scale(0.84,1)" font-size="36" font-weight="bold" fill="#2f7f2f" stroke="#52e052" stroke-width="1">E</text><text transform="translate(792,603.7) skewY(-11) scale(0.76,1)" font-size="41" font-weight="bold" fill="#24382a">C</text><text transform="translate(793,603.4) skewY(-11) scale(0.76,1)" font-size="41" font-weight="bold" fill="#24382a">C</text><text transform="translate(794,603.1) skewY(-11) scale(0.76,1)" font-size="41" font-weight="bold" fill="#24382a">C</text><text transform="translate(795,602.8) skewY(-11) scale(0.76,1)" font-size="41" font-weight="bold" fill="#24382a">C</text><text transform="translate(796,602.5) skewY(-11) scale(0.76,1)" font-size="41" font-weight="bold" fill="#2f7f2f" stroke="#52e052" stroke-width="1">C</text></g>
<text x="751" y="614.5" font-size="13.33" font-weight="bold" text-anchor="start" fill="#2e6b1e" textLength="166.6" lengthAdjust="spacingAndGlyphs">www.cepaempresa.com.br</text>
<rect x="805" y="633" width="56" height="36.6" fill="#fff"/><rect x="805" y="633" width="56" height="10.4" fill="#0a0aa0"/><rect x="805" y="659.7" width="56" height="9.9" fill="#0a0aa0"/><rect x="860" y="633" width="1.2" height="36.6" fill="#111"/>
<text class="serif" x="834.5" y="658.4" font-size="20.5" font-weight="bold" text-anchor="middle" textLength="49" lengthAdjust="spacingAndGlyphs">IAC</text>
<text x="765" y="685.7" font-size="13.33" font-weight="bold" text-anchor="start" fill="#000" textLength="139.7" lengthAdjust="spacingAndGlyphs">www.ciiagro.sp.gov.br</text>
<text x="763.7" y="731.2" font-size="12" font-weight="bold" text-anchor="start" fill="#000" textLength="167.8" lengthAdjust="spacingAndGlyphs">Fonte de dados: Ciiagro - IAC</text>
<text x="763.7" y="745" font-size="12" font-weight="bold" text-anchor="start" fill="#000" textLength="113.8" lengthAdjust="spacingAndGlyphs">Campinas/SP - 2014</text>
</svg>
</body></html>
